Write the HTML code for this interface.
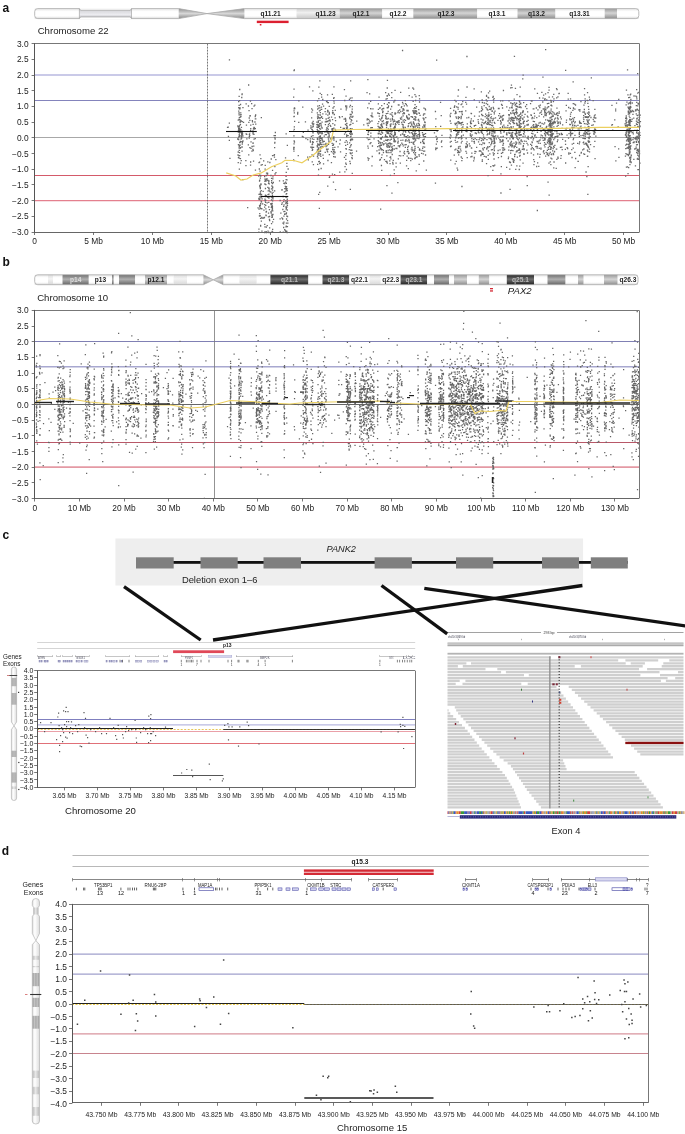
<!DOCTYPE html>
<html><head><meta charset="utf-8"><title>Figure</title>
<style>html,body{margin:0;padding:0;background:#fff;}body{width:685px;height:1134px;overflow:hidden;}svg{display:block;}</style>
</head><body>
<svg width="685" height="1134" viewBox="0 0 685 1134" font-family="Liberation Sans, Arial, sans-serif"><defs>
<linearGradient id="gW" x1="0" y1="0" x2="0" y2="1"><stop offset="0" stop-color="#e6e6e6"/><stop offset="0.3" stop-color="#ffffff"/><stop offset="0.75" stop-color="#ffffff"/><stop offset="1" stop-color="#d8d8d8"/></linearGradient>
<linearGradient id="gL" x1="0" y1="0" x2="0" y2="1"><stop offset="0" stop-color="#d0d0d0"/><stop offset="0.4" stop-color="#f0f0f0"/><stop offset="1" stop-color="#c8c8c8"/></linearGradient>
<linearGradient id="gV" x1="0" y1="0" x2="0" y2="1"><stop offset="0" stop-color="#dcdcdc"/><stop offset="0.4" stop-color="#f4f4f4"/><stop offset="1" stop-color="#d8d8d8"/></linearGradient>
<linearGradient id="gS" x1="0" y1="0" x2="0" y2="1"><stop offset="0" stop-color="#999"/><stop offset="0.22" stop-color="#d8d8dc"/><stop offset="0.6" stop-color="#ececf0"/><stop offset="0.85" stop-color="#c8c8cc"/><stop offset="1" stop-color="#999"/></linearGradient>
<linearGradient id="gG" x1="0" y1="0" x2="0" y2="1"><stop offset="0" stop-color="#9a9a9a"/><stop offset="0.45" stop-color="#d4d4d4"/><stop offset="1" stop-color="#8e8e8e"/></linearGradient>
<linearGradient id="gD" x1="0" y1="0" x2="0" y2="1"><stop offset="0" stop-color="#262626"/><stop offset="0.45" stop-color="#6e6e6e"/><stop offset="1" stop-color="#222222"/></linearGradient>
<linearGradient id="gM" x1="0" y1="0" x2="0" y2="1"><stop offset="0" stop-color="#707070"/><stop offset="0.45" stop-color="#b0b0b0"/><stop offset="1" stop-color="#666666"/></linearGradient>
<linearGradient id="gC" x1="0" y1="0" x2="0" y2="1"><stop offset="0" stop-color="#909090"/><stop offset="0.5" stop-color="#d8d8d8"/><stop offset="1" stop-color="#888888"/></linearGradient>
<linearGradient id="vW" x1="0" y1="0" x2="1" y2="0"><stop offset="0" stop-color="#e0e0e0"/><stop offset="0.35" stop-color="#ffffff"/><stop offset="1" stop-color="#dddddd"/></linearGradient>
<linearGradient id="vG" x1="0" y1="0" x2="1" y2="0"><stop offset="0" stop-color="#9a9a9a"/><stop offset="0.3" stop-color="#c4c4c4"/><stop offset="0.5" stop-color="#a8a8a8"/><stop offset="0.7" stop-color="#c4c4c4"/><stop offset="1" stop-color="#9a9a9a"/></linearGradient>
<linearGradient id="vL" x1="0" y1="0" x2="1" y2="0"><stop offset="0" stop-color="#bbb"/><stop offset="0.45" stop-color="#e8e8e8"/><stop offset="1" stop-color="#bbb"/></linearGradient>
</defs><text x="2.5" y="12.0" font-size="12" text-anchor="start" fill="#111" font-weight="bold" >a</text>
<rect x="34.7" y="8.6" width="44.7" height="10.0" fill="url(#gW)" />
<rect x="131.5" y="8.6" width="47.2" height="10.0" fill="url(#gW)" />
<rect x="244.4" y="8.6" width="52.1" height="10.0" fill="url(#gW)" />
<rect x="296.5" y="8.6" width="43.1" height="10.0" fill="url(#gL)" />
<rect x="339.6" y="8.6" width="42.7" height="10.0" fill="url(#gG)" />
<rect x="382.3" y="8.6" width="31.0" height="10.0" fill="url(#gW)" />
<rect x="413.3" y="8.6" width="64.0" height="10.0" fill="url(#gG)" />
<rect x="477.3" y="8.6" width="40.2" height="10.0" fill="url(#gW)" />
<rect x="517.5" y="8.6" width="38.0" height="10.0" fill="url(#gG)" />
<rect x="555.5" y="8.6" width="49.2" height="10.0" fill="url(#gW)" />
<rect x="604.7" y="8.6" width="12.3" height="10.0" fill="url(#gG)" />
<rect x="617.0" y="8.6" width="21.8" height="10.0" fill="url(#gW)" />
<path d="M178.7,8.6 L207.0,13.6 L178.7,18.6Z M244.4,8.6 L207.0,13.6 L244.4,18.6Z" fill="url(#gC)"/>
<path d="M37.7,8.6 H178.7 L207.0,13.6 L244.4,8.6 H635.8 Q638.8,8.6 638.8,11.6 V15.6 Q638.8,18.6 635.8,18.6 H244.4 L207.0,13.6 L178.7,18.6 H37.7 Q34.7,18.6 34.7,15.6 V11.6 Q34.7,8.6 37.7,8.6Z" fill="none" stroke="#aaa" stroke-width="0.8"/>
<text x="270.5" y="16.0" font-size="6.6" text-anchor="middle" fill="#222" font-weight="bold" >q11.21</text>
<text x="325.5" y="16.0" font-size="6.6" text-anchor="middle" fill="#222" font-weight="bold" >q11.23</text>
<text x="361.0" y="16.0" font-size="6.6" text-anchor="middle" fill="#222" font-weight="bold" >q12.1</text>
<text x="398.0" y="16.0" font-size="6.6" text-anchor="middle" fill="#222" font-weight="bold" >q12.2</text>
<text x="446.0" y="16.0" font-size="6.6" text-anchor="middle" fill="#222" font-weight="bold" >q12.3</text>
<text x="497.0" y="16.0" font-size="6.6" text-anchor="middle" fill="#222" font-weight="bold" >q13.1</text>
<text x="536.5" y="16.0" font-size="6.6" text-anchor="middle" fill="#222" font-weight="bold" >q13.2</text>
<text x="579.5" y="16.0" font-size="6.6" text-anchor="middle" fill="#222" font-weight="bold" >q13.31</text>
<rect x="79.4" y="8.1" width="52.1" height="11.0" fill="#fff" />
<path d="M79.4,8.6 L80.6,10.2 H130.3 L131.5,8.6 V18.6 L130.3,17.0 H80.6 L79.4,18.6Z" fill="url(#gS)" stroke="#999" stroke-width="0.6"/>
<rect x="256.8" y="20.7" width="31.8" height="2.4" fill="#dc2030" />
<rect x="259.8" y="24.0" width="1.6" height="1.5" fill="#dc2030" />
<text x="37.7" y="33.6" font-size="9.6" text-anchor="start" fill="#222" >Chromosome 22</text>
<line x1="34.6" y1="75.0" x2="639.5" y2="75.0" stroke="#b8b8e0" stroke-width="1.5" />
<line x1="34.6" y1="100.5" x2="639.5" y2="100.5" stroke="#8484bc" stroke-width="1.0" />
<line x1="34.6" y1="137.5" x2="639.5" y2="137.5" stroke="#a8a8a8" stroke-width="1.1" />
<line x1="34.6" y1="175.5" x2="639.5" y2="175.5" stroke="#d45a6a" stroke-width="1.0" />
<line x1="34.6" y1="200.6" x2="639.5" y2="200.6" stroke="#e4808e" stroke-width="1.2" />
<line x1="207.5" y1="43.6" x2="207.5" y2="232.0" stroke="#555" stroke-width="0.8" stroke-dasharray="2,1"/>
<path d="M229.3 158.3h1.3M227.8 136.4h1.3M228.7 123.1h1.3M227.6 127.1h1.3M228.8 59.8h1.3M228.7 140.3h1.3M226.9 127.3h1.3M237.6 120.2h1.3M237.8 157.6h1.3M237.7 132.1h1.3M238.7 117.6h1.3M237.4 155.0h1.3M242.9 122.4h1.3M253.1 146.2h1.3M255.0 114.9h1.3M253.3 134.3h1.3M254.7 118.9h1.3M255.1 124.1h1.3M253.4 127.3h1.3M254.7 128.6h1.3M254.3 122.0h1.3M253.4 106.1h1.3M253.4 129.0h1.3M255.1 118.8h1.3M253.8 127.9h1.3M254.9 115.4h1.3M238.4 130.0h1.3M238.6 158.1h1.3M238.2 131.1h1.3M238.7 108.8h1.3M239.9 163.1h1.3M238.4 147.8h1.3M239.8 132.1h1.3M239.5 121.0h1.3M238.4 114.8h1.3M238.8 148.0h1.3M238.1 130.2h1.3M238.5 105.3h1.3M239.2 119.7h1.3M238.1 107.6h1.3M239.1 142.7h1.3M239.8 141.4h1.3M238.0 137.9h1.3M238.3 130.1h1.3M239.1 155.7h1.3M239.9 104.5h1.3M239.4 129.2h1.3M238.0 128.6h1.3M239.4 107.8h1.3M239.0 128.9h1.3M238.6 112.8h1.3M239.5 122.3h1.3M239.5 121.9h1.3M238.7 169.1h1.3M239.8 158.7h1.3M239.7 117.0h1.3M248.4 110.6h1.3M249.2 120.3h1.3M248.7 134.3h1.3M248.1 154.8h1.3M237.8 144.6h1.3M239.1 130.7h1.3M238.9 132.3h1.3M238.3 129.6h1.3M238.1 111.1h1.3M238.6 146.3h1.3M238.4 126.3h1.3M239.3 114.8h1.3M239.5 145.2h1.3M238.0 139.7h1.3M252.4 133.9h1.3M251.9 121.8h1.3M251.4 146.4h1.3M251.6 146.5h1.3M253.0 128.3h1.3M252.8 128.8h1.3M252.4 143.3h1.3M251.0 103.7h1.3M251.9 121.8h1.3M251.3 151.1h1.3M252.3 149.4h1.3M252.6 150.5h1.3M252.4 142.9h1.3M237.8 130.5h1.3M237.0 139.0h1.3M237.6 152.0h1.3M237.2 126.0h1.3M238.3 136.3h1.3M239.8 148.2h1.3M240.3 116.5h1.3M240.4 139.0h1.3M240.0 141.7h1.3M248.0 85.0h1.3M248.6 138.0h1.3M248.2 122.3h1.3M247.7 144.8h1.3M248.7 136.3h1.3M249.2 131.6h1.3M249.2 147.7h1.3M247.8 106.0h1.3M248.6 118.0h1.3M254.8 170.1h1.3M253.4 139.1h1.3M254.2 105.2h1.3M254.6 138.6h1.3M254.6 116.5h1.3M241.8 142.5h1.3M241.0 137.3h1.3M241.1 97.5h1.3M240.7 136.1h1.3M241.0 134.5h1.3M241.0 138.1h1.3M241.8 134.5h1.3M240.1 112.8h1.3M241.5 147.1h1.3M240.3 130.0h1.3M241.7 131.5h1.3M240.3 135.8h1.3M241.3 146.9h1.3M238.3 113.2h1.3M238.6 150.3h1.3M238.8 135.7h1.3M239.1 125.3h1.3M239.3 108.8h1.3M239.8 124.4h1.3M239.6 142.0h1.3M239.9 147.7h1.3M238.5 96.3h1.3M252.4 132.6h1.3M252.5 124.4h1.3M251.7 120.7h1.3M252.3 130.9h1.3M252.9 161.2h1.3M245.5 133.9h1.3M245.3 165.6h1.3M246.2 138.8h1.3M245.5 103.9h1.3M247.0 207.6h1.3M245.2 160.7h1.3M245.8 125.2h1.3M246.1 134.4h1.3M249.0 133.8h1.3M250.1 128.7h1.3M249.6 115.6h1.3M250.4 141.8h1.3M249.9 165.1h1.3M249.8 101.1h1.3M249.1 135.6h1.3M250.1 125.2h1.3M250.4 148.4h1.3M250.0 130.5h1.3M250.0 162.0h1.3M249.3 116.0h1.3M249.9 131.1h1.3M241.6 144.2h1.3M241.4 151.1h1.3M242.3 141.0h1.3M242.3 179.6h1.3M241.5 132.9h1.3M240.4 114.7h1.3M241.1 132.5h1.3M241.4 94.6h1.3M242.3 107.6h1.3M241.9 133.5h1.3M241.5 93.9h1.3M240.6 121.0h1.3M240.7 136.8h1.3M242.2 136.0h1.3M241.4 141.6h1.3M241.6 121.6h1.3M240.9 133.0h1.3M240.8 127.4h1.3M240.6 160.6h1.3M251.4 108.7h1.3M238.4 119.4h1.3M238.6 134.3h1.3M239.0 100.6h1.3M238.7 136.4h1.3M238.8 130.5h1.3M238.6 126.8h1.3M238.4 145.1h1.3M238.7 128.5h1.3M239.1 89.5h1.3M239.0 132.8h1.3M237.7 127.0h1.3M238.2 155.8h1.3M238.9 152.7h1.3M239.0 145.5h1.3M238.0 101.6h1.3M237.6 162.6h1.3M261.2 208.9h1.3M260.1 203.3h1.3M261.1 217.5h1.3M260.4 184.6h1.3M267.6 190.9h1.3M269.0 227.8h1.3M268.3 194.1h1.3M268.8 219.5h1.3M268.1 202.4h1.3M268.4 232.5h1.3M269.2 162.5h1.3M268.5 188.1h1.3M268.1 188.7h1.3M268.8 190.2h1.3M268.1 207.0h1.3M267.8 216.9h1.3M267.4 231.2h1.3M269.0 220.5h1.3M268.8 209.7h1.3M271.0 182.5h1.3M271.2 217.3h1.3M270.9 188.9h1.3M272.1 187.7h1.3M270.9 223.7h1.3M272.3 176.9h1.3M271.6 197.8h1.3M272.4 198.8h1.3M271.6 208.2h1.3M270.7 207.3h1.3M270.7 232.4h1.3M272.0 200.8h1.3M272.0 186.9h1.3M272.0 229.4h1.3M271.9 155.6h1.3M265.6 231.6h1.3M265.9 180.9h1.3M265.9 173.1h1.3M265.2 208.9h1.3M265.8 211.3h1.3M265.7 195.8h1.3M264.9 195.2h1.3M264.8 180.7h1.3M264.3 179.1h1.3M268.1 181.8h1.3M269.2 191.7h1.3M259.1 199.0h1.3M259.8 194.7h1.3M259.0 186.0h1.3M260.0 204.1h1.3M260.2 158.7h1.3M259.5 215.6h1.3M258.5 199.7h1.3M260.0 225.5h1.3M258.9 205.5h1.3M259.7 178.2h1.3M259.1 199.7h1.3M259.8 194.7h1.3M262.5 191.3h1.3M262.0 203.9h1.3M258.1 176.1h1.3M259.7 187.2h1.3M259.5 187.6h1.3M259.0 175.2h1.3M259.8 208.7h1.3M259.6 193.5h1.3M259.7 205.7h1.3M259.1 180.1h1.3M258.7 169.0h1.3M258.2 232.1h1.3M267.4 194.6h1.3M272.3 232.3h1.3M272.2 178.8h1.3M271.1 197.0h1.3M272.3 214.5h1.3M271.8 206.8h1.3M271.8 183.6h1.3M271.5 203.4h1.3M272.9 219.4h1.3M272.5 197.1h1.3M271.3 214.8h1.3M272.4 192.4h1.3M272.7 182.5h1.3M257.4 207.9h1.3M258.9 196.9h1.3M265.3 215.1h1.3M264.6 180.8h1.3M264.6 165.4h1.3M265.1 205.3h1.3M263.8 217.5h1.3M264.0 176.5h1.3M264.8 188.5h1.3M260.0 226.2h1.3M258.9 181.0h1.3M260.1 176.2h1.3M259.6 185.2h1.3M259.4 154.8h1.3M258.3 229.2h1.3M258.8 215.8h1.3M258.9 162.1h1.3M258.4 162.6h1.3M259.3 216.1h1.3M271.7 207.2h1.3M270.4 211.7h1.3M270.6 159.0h1.3M271.8 209.0h1.3M270.2 203.7h1.3M272.1 210.8h1.3M271.5 215.9h1.3M270.9 200.0h1.3M270.5 204.7h1.3M270.4 212.7h1.3M271.2 206.6h1.3M271.3 204.8h1.3M271.5 205.7h1.3M272.0 221.9h1.3M271.4 197.3h1.3M271.6 231.3h1.3M271.8 195.4h1.3M271.0 180.6h1.3M271.2 215.2h1.3M271.9 170.3h1.3M271.9 190.2h1.3M271.3 210.5h1.3M270.3 175.5h1.3M271.0 206.6h1.3M271.5 197.2h1.3M270.6 213.1h1.3M270.3 192.1h1.3M272.0 187.0h1.3M271.7 217.1h1.3M271.6 193.6h1.3M271.7 206.6h1.3M271.2 186.0h1.3M260.5 201.2h1.3M262.0 218.1h1.3M260.5 165.1h1.3M270.9 178.4h1.3M270.4 204.5h1.3M271.8 188.2h1.3M261.6 164.6h1.3M263.3 210.2h1.3M263.0 218.0h1.3M261.5 218.1h1.3M263.0 160.8h1.3M259.7 188.5h1.3M258.4 194.3h1.3M258.2 198.5h1.3M259.4 171.2h1.3M259.1 213.7h1.3M258.4 209.1h1.3M259.1 206.9h1.3M259.8 208.1h1.3M264.1 204.6h1.3M265.7 175.5h1.3M264.6 200.8h1.3M265.2 184.7h1.3M265.8 179.0h1.3M269.4 196.5h1.3M267.9 213.1h1.3M268.9 216.5h1.3M268.6 183.8h1.3M264.3 226.8h1.3M264.3 199.2h1.3M265.5 179.3h1.3M265.5 215.6h1.3M265.1 200.3h1.3M264.0 207.1h1.3M265.7 227.2h1.3M264.2 232.0h1.3M264.5 200.7h1.3M264.1 224.4h1.3M265.5 212.0h1.3M264.2 184.1h1.3M265.2 196.6h1.3M264.5 169.1h1.3M264.3 181.3h1.3M264.3 183.8h1.3M264.1 232.6h1.3M264.7 195.4h1.3M264.9 202.4h1.3M265.9 232.6h1.3M259.8 191.9h1.3M260.1 196.5h1.3M261.5 198.8h1.3M260.9 201.8h1.3M260.0 175.4h1.3M261.3 231.2h1.3M260.7 117.7h1.3M260.3 183.8h1.3M260.9 194.5h1.3M260.7 221.1h1.3M261.2 196.5h1.3M261.0 208.7h1.3M260.6 190.6h1.3M259.9 218.4h1.3M260.4 197.7h1.3M266.9 173.2h1.3M267.2 187.4h1.3M266.5 202.8h1.3M268.3 180.9h1.3M267.0 173.9h1.3M267.2 161.9h1.3M267.9 183.4h1.3M267.2 197.3h1.3M268.2 198.0h1.3M266.6 225.7h1.3M266.9 174.0h1.3M266.5 178.9h1.3M267.3 180.3h1.3M274.7 132.5h1.3M273.8 154.7h1.3M274.2 166.6h1.3M273.8 157.2h1.3M273.5 135.6h1.3M274.7 135.6h1.3M274.0 190.9h1.3M275.2 159.7h1.3M275.3 172.6h1.3M273.4 155.3h1.3M274.0 147.6h1.3M274.2 142.4h1.3M274.2 137.6h1.3M274.5 139.0h1.3M274.1 143.1h1.3M274.4 174.0h1.3M279.5 218.9h1.3M279.6 231.9h1.3M279.5 200.5h1.3M278.9 180.8h1.3M281.2 217.8h1.3M282.0 218.6h1.3M282.7 180.9h1.3M282.0 219.2h1.3M281.3 190.0h1.3M282.5 196.5h1.3M281.1 204.3h1.3M281.4 189.7h1.3M281.6 202.9h1.3M280.2 213.1h1.3M283.8 191.9h1.3M283.8 183.2h1.3M283.4 204.8h1.3M283.3 211.7h1.3M284.6 230.5h1.3M283.0 227.5h1.3M283.4 199.7h1.3M285.3 207.0h1.3M285.8 189.9h1.3M284.9 157.9h1.3M285.0 182.2h1.3M286.3 179.9h1.3M286.3 166.3h1.3M286.6 205.1h1.3M285.9 219.0h1.3M286.9 220.7h1.3M286.6 210.0h1.3M285.7 208.4h1.3M285.8 223.2h1.3M286.6 190.5h1.3M286.9 203.3h1.3M286.7 145.4h1.3M285.6 226.1h1.3M285.7 213.9h1.3M287.5 169.0h1.3M286.1 232.1h1.3M286.1 207.4h1.3M287.2 223.2h1.3M285.7 183.4h1.3M286.0 193.6h1.3M285.1 191.2h1.3M285.4 188.1h1.3M285.0 188.9h1.3M285.2 203.5h1.3M285.9 186.7h1.3M285.5 133.9h1.3M285.6 172.4h1.3M285.3 187.5h1.3M286.7 201.5h1.3M285.8 206.8h1.3M286.0 197.0h1.3M286.2 163.4h1.3M286.9 216.5h1.3M286.6 199.1h1.3M285.3 197.0h1.3M285.1 200.9h1.3M286.0 231.1h1.3M285.4 176.3h1.3M286.6 199.5h1.3M286.4 188.7h1.3M286.5 232.5h1.3M286.8 205.5h1.3M286.8 226.6h1.3M286.1 216.2h1.3M284.8 188.6h1.3M284.7 186.4h1.3M284.2 211.3h1.3M285.5 202.3h1.3M285.4 226.9h1.3M284.3 214.0h1.3M284.1 183.7h1.3M284.8 232.3h1.3M285.8 212.9h1.3M285.5 179.7h1.3M286.0 202.9h1.3M282.3 223.1h1.3M282.6 232.1h1.3M284.0 214.4h1.3M283.3 216.1h1.3M283.2 183.4h1.3M283.0 223.8h1.3M282.2 209.5h1.3M283.3 222.1h1.3M283.0 206.4h1.3M283.1 201.7h1.3M285.4 231.5h1.3M284.1 188.7h1.3M285.5 194.1h1.3M285.5 209.1h1.3M284.0 229.7h1.3M285.2 231.8h1.3M302.7 132.3h1.3M298.2 100.8h1.3M297.1 112.5h1.3M298.1 122.4h1.3M297.0 114.0h1.3M297.6 155.6h1.3M341.6 116.7h1.3M342.6 128.5h1.3M307.7 159.8h1.3M307.0 157.1h1.3M313.1 123.8h1.3M312.2 90.9h1.3M312.0 141.7h1.3M312.6 142.3h1.3M311.7 138.9h1.3M311.6 150.3h1.3M313.2 139.3h1.3M352.3 123.3h1.3M351.4 117.4h1.3M351.7 112.8h1.3M351.6 173.3h1.3M351.5 133.8h1.3M351.3 139.8h1.3M351.4 97.9h1.3M352.2 116.5h1.3M339.1 143.9h1.3M339.1 172.2h1.3M338.8 116.6h1.3M339.6 140.0h1.3M340.0 127.3h1.3M339.1 117.7h1.3M330.8 162.6h1.3M330.8 151.7h1.3M331.9 112.5h1.3M332.4 108.0h1.3M331.5 128.6h1.3M331.5 143.4h1.3M351.6 152.9h1.3M351.2 150.4h1.3M349.7 189.4h1.3M350.4 121.8h1.3M350.0 80.9h1.3M349.9 132.5h1.3M349.9 139.4h1.3M350.8 132.8h1.3M351.1 100.6h1.3M349.8 98.1h1.3M351.5 128.8h1.3M349.6 153.0h1.3M349.8 136.9h1.3M350.2 116.3h1.3M349.8 105.3h1.3M350.6 129.9h1.3M350.4 153.9h1.3M350.0 150.1h1.3M351.3 139.0h1.3M351.3 111.5h1.3M350.4 136.1h1.3M351.3 134.3h1.3M349.9 130.9h1.3M351.1 120.4h1.3M349.6 114.5h1.3M317.3 115.0h1.3M316.2 127.1h1.3M316.3 141.7h1.3M317.4 114.6h1.3M318.0 169.5h1.3M316.9 132.4h1.3M317.5 144.5h1.3M317.0 118.7h1.3M316.9 100.9h1.3M316.2 122.1h1.3M317.2 130.8h1.3M316.8 124.4h1.3M317.0 132.2h1.3M316.1 152.1h1.3M318.0 194.4h1.3M316.8 156.5h1.3M316.8 150.0h1.3M316.7 146.8h1.3M317.1 125.0h1.3M316.6 129.7h1.3M317.7 121.0h1.3M316.6 145.7h1.3M316.2 124.6h1.3M318.5 145.6h1.3M317.0 109.1h1.3M318.0 125.0h1.3M318.2 87.2h1.3M318.1 151.9h1.3M318.4 153.4h1.3M318.7 208.3h1.3M318.5 132.0h1.3M317.8 149.0h1.3M317.1 132.8h1.3M317.1 138.8h1.3M318.2 125.6h1.3M317.6 126.5h1.3M317.0 164.3h1.3M316.8 139.6h1.3M317.5 158.2h1.3M317.9 125.2h1.3M317.5 155.0h1.3M316.7 112.8h1.3M316.9 127.5h1.3M316.9 117.0h1.3M317.7 149.4h1.3M318.2 117.6h1.3M317.7 116.9h1.3M317.9 134.0h1.3M317.1 144.0h1.3M316.7 138.2h1.3M317.3 154.0h1.3M317.6 122.3h1.3M318.3 144.7h1.3M318.0 131.1h1.3M317.1 106.1h1.3M330.1 126.3h1.3M331.3 129.5h1.3M331.0 139.5h1.3M329.8 138.9h1.3M331.0 137.7h1.3M331.2 138.3h1.3M349.2 147.4h1.3M350.1 132.2h1.3M349.7 128.7h1.3M349.2 118.7h1.3M349.2 117.5h1.3M349.2 125.0h1.3M350.3 139.4h1.3M349.8 134.3h1.3M349.9 153.4h1.3M339.9 151.9h1.3M340.3 109.1h1.3M321.4 146.8h1.3M320.0 138.6h1.3M319.8 135.8h1.3M321.4 137.7h1.3M320.7 117.3h1.3M321.3 133.9h1.3M320.9 94.6h1.3M321.5 128.0h1.3M321.3 139.0h1.3M328.4 133.1h1.3M328.4 137.2h1.3M326.3 149.4h1.3M350.0 145.9h1.3M351.6 109.1h1.3M351.6 106.7h1.3M349.7 163.5h1.3M350.9 150.2h1.3M351.6 158.5h1.3M327.1 102.7h1.3M327.1 186.2h1.3M328.7 154.7h1.3M328.5 135.0h1.3M327.0 110.3h1.3M328.7 177.4h1.3M327.7 102.7h1.3M327.5 129.4h1.3M328.1 140.8h1.3M327.5 149.1h1.3M327.4 132.6h1.3M328.6 112.5h1.3M327.5 133.5h1.3M327.5 111.2h1.3M327.4 137.1h1.3M328.5 117.5h1.3M328.6 106.3h1.3M327.5 118.3h1.3M327.8 143.3h1.3M328.8 120.4h1.3M327.8 124.7h1.3M318.7 161.4h1.3M319.1 163.7h1.3M318.0 127.3h1.3M318.7 118.1h1.3M318.3 137.1h1.3M319.9 154.0h1.3M318.2 98.7h1.3M319.8 115.1h1.3M319.7 112.6h1.3M319.8 138.2h1.3M318.5 125.9h1.3M305.3 138.7h1.3M304.8 121.9h1.3M329.6 125.4h1.3M328.5 136.1h1.3M328.7 114.0h1.3M328.4 141.5h1.3M329.2 119.9h1.3M329.0 176.8h1.3M343.7 128.4h1.3M344.9 132.7h1.3M343.5 119.1h1.3M343.8 89.7h1.3M343.8 157.3h1.3M324.3 132.0h1.3M324.4 144.3h1.3M325.3 143.4h1.3M326.5 150.8h1.3M325.6 121.4h1.3M326.5 101.1h1.3M326.4 145.4h1.3M325.7 134.7h1.3M326.1 121.9h1.3M332.1 110.6h1.3M330.9 117.1h1.3M326.9 111.9h1.3M326.4 132.0h1.3M327.2 115.1h1.3M326.9 121.3h1.3M327.8 139.0h1.3M327.5 129.6h1.3M327.6 133.3h1.3M326.9 94.9h1.3M327.0 151.9h1.3M326.5 130.9h1.3M326.9 128.2h1.3M327.6 120.8h1.3M327.9 144.4h1.3M327.3 160.5h1.3M327.5 126.4h1.3M326.4 145.7h1.3M325.9 149.1h1.3M333.4 106.7h1.3M331.7 94.3h1.3M333.3 101.1h1.3M331.9 129.6h1.3M332.8 182.2h1.3M333.0 98.3h1.3M333.1 154.0h1.3M332.7 145.1h1.3M332.3 147.6h1.3M331.6 128.6h1.3M332.9 144.1h1.3M333.0 137.7h1.3M331.9 119.6h1.3M332.9 151.3h1.3M333.4 97.6h1.3M333.5 103.2h1.3M318.7 139.1h1.3M317.8 151.2h1.3M319.2 136.5h1.3M311.5 127.1h1.3M311.7 129.8h1.3M312.9 147.3h1.3M311.5 123.1h1.3M312.9 156.1h1.3M312.5 121.4h1.3M334.9 189.7h1.3M334.2 147.4h1.3M334.6 110.4h1.3M333.7 114.5h1.3M334.6 129.5h1.3M334.5 157.0h1.3M334.0 174.6h1.3M334.9 120.7h1.3M333.2 138.5h1.3M333.4 149.6h1.3M334.3 152.7h1.3M334.5 117.9h1.3M333.2 128.2h1.3M334.1 125.0h1.3M333.3 140.2h1.3M335.0 130.6h1.3M334.1 152.0h1.3M333.3 86.8h1.3M333.5 149.9h1.3M321.5 133.2h1.3M322.4 144.5h1.3M321.9 118.3h1.3M322.2 142.0h1.3M321.9 104.1h1.3M322.7 158.4h1.3M322.9 106.2h1.3M321.8 133.0h1.3M322.4 146.6h1.3M322.3 155.2h1.3M321.4 122.2h1.3M322.1 147.0h1.3M321.0 109.3h1.3M322.5 141.4h1.3M321.8 140.2h1.3M311.0 117.9h1.3M311.6 161.8h1.3M312.3 132.6h1.3M311.4 154.9h1.3M312.0 122.8h1.3M312.4 132.9h1.3M312.3 135.6h1.3M311.9 110.1h1.3M311.2 112.2h1.3M311.4 148.0h1.3M311.7 147.3h1.3M311.9 144.0h1.3M312.0 149.7h1.3M311.0 108.9h1.3M312.2 124.2h1.3M311.4 147.1h1.3M328.7 123.3h1.3M345.2 120.2h1.3M344.9 119.0h1.3M345.2 159.4h1.3M346.1 107.8h1.3M345.1 163.2h1.3M346.1 123.4h1.3M345.6 140.6h1.3M345.6 153.6h1.3M346.7 142.2h1.3M345.1 106.0h1.3M345.4 96.1h1.3M345.6 109.8h1.3M345.0 145.3h1.3M346.1 106.2h1.3M345.1 155.7h1.3M345.2 106.7h1.3M344.8 124.4h1.3M345.8 127.9h1.3M319.9 129.2h1.3M318.8 105.7h1.3M319.0 128.7h1.3M320.0 140.7h1.3M319.3 114.8h1.3M319.4 132.1h1.3M319.2 107.8h1.3M319.3 133.2h1.3M320.4 123.8h1.3M319.7 110.2h1.3M319.9 151.0h1.3M320.1 146.8h1.3M319.7 123.3h1.3M319.7 123.4h1.3M319.1 192.4h1.3M319.3 120.4h1.3M319.3 155.2h1.3M320.4 142.9h1.3M320.2 156.4h1.3M319.5 93.3h1.3M320.5 168.5h1.3M318.8 110.9h1.3M319.7 136.1h1.3M320.4 125.3h1.3M320.7 132.9h1.3M319.0 137.5h1.3M319.8 138.6h1.3M319.6 151.3h1.3M311.5 144.6h1.3M310.1 147.2h1.3M310.8 136.4h1.3M309.7 138.8h1.3M309.8 142.2h1.3M318.8 141.0h1.3M319.4 142.4h1.3M319.2 80.9h1.3M318.0 125.6h1.3M317.8 175.1h1.3M318.4 125.0h1.3M319.4 147.9h1.3M319.6 162.6h1.3M318.8 126.3h1.3M319.2 144.0h1.3M318.7 131.3h1.3M319.6 118.2h1.3M317.9 131.0h1.3M319.4 117.9h1.3M319.7 144.0h1.3M319.2 144.4h1.3M317.8 148.0h1.3M317.8 108.1h1.3M319.7 136.9h1.3M318.9 123.6h1.3M318.1 161.6h1.3M329.7 132.1h1.3M329.5 121.2h1.3M325.7 129.8h1.3M325.9 101.6h1.3M324.7 121.9h1.3M324.5 111.6h1.3M324.6 152.3h1.3M326.1 128.0h1.3M324.7 134.6h1.3M324.8 124.6h1.3M324.8 108.7h1.3M325.5 119.0h1.3M325.4 114.1h1.3M325.4 146.6h1.3M325.1 144.9h1.3M346.2 123.6h1.3M346.2 135.6h1.3M346.2 128.0h1.3M346.0 134.9h1.3M346.9 144.4h1.3M345.8 169.5h1.3M343.9 134.2h1.3M344.4 166.7h1.3M345.6 164.3h1.3M345.7 149.1h1.3M345.0 121.3h1.3M344.8 118.4h1.3M345.3 148.6h1.3M344.4 142.3h1.3M344.1 100.5h1.3M344.2 171.9h1.3M337.4 146.9h1.3M335.7 141.5h1.3M301.7 136.3h1.3M302.5 137.0h1.3M302.1 107.1h1.3M322.9 163.8h1.3M323.6 136.1h1.3M323.6 141.3h1.3M311.5 148.2h1.3M312.6 126.5h1.3M312.5 124.8h1.3M311.2 129.4h1.3M312.8 164.7h1.3M311.9 142.2h1.3M312.5 131.2h1.3M310.2 128.0h1.3M331.9 145.4h1.3M333.0 156.7h1.3M332.4 152.9h1.3M331.8 174.2h1.3M332.5 112.6h1.3M331.7 130.8h1.3M332.2 123.6h1.3M332.4 128.9h1.3M333.2 136.9h1.3M332.2 113.7h1.3M332.0 149.5h1.3M332.2 130.4h1.3M351.9 139.5h1.3M309.7 141.0h1.3M309.4 156.6h1.3M308.9 86.8h1.3M310.2 125.9h1.3M345.7 125.3h1.3M346.0 136.6h1.3M347.5 135.6h1.3M345.9 128.5h1.3M346.9 129.2h1.3M347.4 130.8h1.3M346.8 127.1h1.3M346.2 125.8h1.3M345.7 108.2h1.3M349.1 106.9h1.3M348.6 149.7h1.3M348.8 99.3h1.3M349.0 142.8h1.3M349.1 133.3h1.3M349.2 161.3h1.3M349.9 140.6h1.3M307.4 130.2h1.3M307.1 139.5h1.3M350.1 124.3h1.3M351.0 129.2h1.3M351.6 155.6h1.3M350.6 144.7h1.3M350.5 119.6h1.3M350.5 114.5h1.3M351.2 157.6h1.3M320.8 107.2h1.3M322.2 113.9h1.3M321.1 116.7h1.3M322.1 99.5h1.3M320.8 126.8h1.3M321.0 97.2h1.3M320.7 144.6h1.3M363.1 124.8h1.3M356.1 121.1h1.3M355.9 151.2h1.3M368.3 158.6h1.3M369.0 93.8h1.3M370.0 108.6h1.3M366.4 92.7h1.3M367.0 107.9h1.3M368.0 131.7h1.3M367.7 160.1h1.3M367.5 125.5h1.3M367.2 157.8h1.3M370.2 133.2h1.3M368.8 120.8h1.3M370.6 127.6h1.3M369.5 143.5h1.3M370.2 136.1h1.3M370.3 108.8h1.3M366.3 130.4h1.3M367.7 139.5h1.3M367.2 146.1h1.3M367.1 134.3h1.3M366.5 137.9h1.3M367.2 79.6h1.3M367.9 129.6h1.3M366.5 119.9h1.3M367.7 132.2h1.3M368.1 123.1h1.3M366.6 123.5h1.3M368.0 119.4h1.3M366.7 119.0h1.3M367.6 148.2h1.3M368.6 123.2h1.3M369.1 139.4h1.3M367.8 134.5h1.3M368.4 103.5h1.3M369.7 121.9h1.3M370.4 115.6h1.3M371.4 113.1h1.3M370.0 101.3h1.3M370.1 127.8h1.3M371.3 121.0h1.3M371.2 116.7h1.3M370.3 142.6h1.3M371.3 115.2h1.3M371.3 165.8h1.3M371.6 156.5h1.3M371.7 127.6h1.3M373.4 138.9h1.3M372.1 116.9h1.3M371.8 146.0h1.3M372.3 108.9h1.3M416.4 138.3h1.3M392.6 160.3h1.3M393.3 119.9h1.3M391.4 146.5h1.3M389.6 129.7h1.3M382.4 111.6h1.3M397.6 141.2h1.3M399.1 145.6h1.3M399.0 130.0h1.3M399.1 110.0h1.3M398.9 146.8h1.3M402.9 127.2h1.3M403.4 134.8h1.3M403.1 113.0h1.3M402.6 124.9h1.3M402.2 113.8h1.3M402.9 109.1h1.3M390.8 134.1h1.3M392.4 164.0h1.3M391.0 131.3h1.3M392.7 136.3h1.3M390.9 134.6h1.3M392.6 124.1h1.3M391.1 134.2h1.3M391.0 106.5h1.3M391.6 150.8h1.3M392.7 121.9h1.3M392.6 128.9h1.3M391.7 118.5h1.3M392.0 116.5h1.3M390.9 131.8h1.3M387.7 128.9h1.3M387.6 118.5h1.3M386.6 88.0h1.3M387.5 139.6h1.3M387.5 143.6h1.3M387.1 131.4h1.3M386.7 104.4h1.3M386.5 96.0h1.3M388.0 102.7h1.3M418.4 154.7h1.3M418.8 128.0h1.3M417.4 134.7h1.3M418.3 112.9h1.3M418.6 131.6h1.3M418.7 134.5h1.3M419.1 135.3h1.3M418.9 125.6h1.3M418.7 113.4h1.3M417.5 147.3h1.3M417.7 123.3h1.3M418.1 109.6h1.3M378.0 143.3h1.3M378.0 133.9h1.3M378.1 121.6h1.3M378.2 141.6h1.3M378.4 150.0h1.3M378.4 133.3h1.3M378.0 129.9h1.3M378.5 131.6h1.3M378.5 129.4h1.3M378.8 113.7h1.3M378.8 153.0h1.3M378.6 116.1h1.3M377.5 129.6h1.3M377.6 133.3h1.3M391.0 137.5h1.3M391.6 154.5h1.3M391.1 92.6h1.3M391.2 149.4h1.3M391.1 97.7h1.3M391.1 143.9h1.3M391.7 119.8h1.3M391.5 112.7h1.3M390.2 150.6h1.3M414.3 119.0h1.3M413.6 112.9h1.3M412.6 143.5h1.3M414.3 131.4h1.3M412.5 131.3h1.3M413.0 119.2h1.3M413.0 89.2h1.3M414.1 158.6h1.3M412.9 112.4h1.3M412.5 111.0h1.3M414.3 134.7h1.3M412.4 150.2h1.3M380.4 134.3h1.3M380.2 128.4h1.3M379.8 134.1h1.3M380.2 137.9h1.3M379.4 145.4h1.3M379.8 138.6h1.3M379.4 147.0h1.3M379.5 107.9h1.3M378.8 130.1h1.3M380.0 209.2h1.3M379.1 160.1h1.3M380.7 145.4h1.3M379.2 128.2h1.3M379.8 127.5h1.3M379.5 142.5h1.3M401.9 102.4h1.3M420.0 142.5h1.3M411.7 159.1h1.3M413.2 135.7h1.3M394.0 132.0h1.3M393.9 134.7h1.3M394.6 125.2h1.3M394.7 134.6h1.3M394.9 141.1h1.3M394.7 133.0h1.3M394.3 100.3h1.3M395.4 163.1h1.3M395.3 137.3h1.3M395.2 124.7h1.3M394.4 112.8h1.3M394.0 135.1h1.3M394.1 128.0h1.3M395.5 166.8h1.3M394.2 100.5h1.3M395.7 122.1h1.3M381.1 130.4h1.3M380.1 124.9h1.3M381.1 124.0h1.3M381.5 121.6h1.3M380.2 120.0h1.3M380.0 143.0h1.3M380.9 157.6h1.3M381.6 126.7h1.3M380.6 148.8h1.3M381.4 117.1h1.3M380.8 131.8h1.3M424.9 133.7h1.3M423.3 108.2h1.3M425.1 117.7h1.3M423.3 113.8h1.3M423.3 119.5h1.3M424.9 155.0h1.3M424.1 121.8h1.3M424.0 151.2h1.3M424.1 122.4h1.3M424.0 126.1h1.3M418.0 123.5h1.3M417.9 119.5h1.3M417.5 120.2h1.3M417.1 127.4h1.3M418.1 130.9h1.3M417.4 125.6h1.3M418.1 129.8h1.3M379.0 127.8h1.3M377.2 130.1h1.3M379.0 108.1h1.3M377.8 137.4h1.3M377.7 103.9h1.3M378.6 153.5h1.3M378.4 97.2h1.3M378.5 127.1h1.3M378.4 127.6h1.3M377.4 113.4h1.3M377.8 109.3h1.3M423.1 161.0h1.3M422.6 153.8h1.3M422.0 141.7h1.3M422.7 135.8h1.3M422.8 115.2h1.3M422.3 127.9h1.3M422.5 146.9h1.3M422.8 143.4h1.3M422.5 118.1h1.3M423.2 118.3h1.3M422.0 148.4h1.3M421.8 132.7h1.3M380.5 128.3h1.3M381.0 124.4h1.3M408.5 141.0h1.3M408.2 139.5h1.3M407.7 168.6h1.3M408.5 153.2h1.3M408.8 142.7h1.3M408.7 118.1h1.3M386.8 107.9h1.3M385.6 131.7h1.3M384.9 135.0h1.3M386.4 152.7h1.3M386.3 144.3h1.3M386.2 146.0h1.3M385.0 135.6h1.3M386.8 147.1h1.3M385.2 136.8h1.3M386.6 123.0h1.3M386.3 185.6h1.3M385.0 136.5h1.3M384.9 115.7h1.3M386.1 140.3h1.3M385.2 161.3h1.3M385.1 118.7h1.3M385.8 124.8h1.3M385.5 151.9h1.3M386.1 162.0h1.3M385.0 140.2h1.3M385.8 124.2h1.3M398.4 120.6h1.3M398.4 122.3h1.3M397.7 158.9h1.3M398.3 131.3h1.3M397.7 104.8h1.3M397.7 145.9h1.3M398.3 124.4h1.3M398.3 105.0h1.3M397.3 138.9h1.3M397.2 121.3h1.3M397.2 142.5h1.3M398.2 120.9h1.3M377.1 129.4h1.3M424.9 109.9h1.3M423.6 143.6h1.3M424.1 113.9h1.3M423.6 139.2h1.3M424.8 136.7h1.3M423.6 134.3h1.3M424.2 127.1h1.3M406.5 105.9h1.3M406.5 140.8h1.3M404.6 131.2h1.3M404.7 100.6h1.3M404.9 120.3h1.3M406.0 115.8h1.3M406.4 110.9h1.3M405.3 139.7h1.3M406.0 160.4h1.3M406.0 117.1h1.3M385.4 116.6h1.3M385.7 113.7h1.3M386.4 136.7h1.3M385.6 150.6h1.3M386.2 161.5h1.3M385.9 152.4h1.3M377.2 112.9h1.3M377.6 140.7h1.3M377.3 123.6h1.3M377.5 126.3h1.3M376.3 150.8h1.3M390.1 131.3h1.3M389.4 140.1h1.3M388.6 95.4h1.3M423.0 125.1h1.3M424.3 129.5h1.3M423.4 136.7h1.3M414.3 146.5h1.3M413.7 151.1h1.3M386.2 144.4h1.3M386.3 146.5h1.3M386.7 95.8h1.3M386.7 163.2h1.3M386.4 130.5h1.3M409.3 123.0h1.3M409.3 129.7h1.3M410.5 116.7h1.3M410.8 149.1h1.3M411.4 150.9h1.3M411.3 147.4h1.3M411.2 125.0h1.3M411.5 149.1h1.3M410.6 142.4h1.3M410.4 122.1h1.3M411.7 133.3h1.3M411.5 97.2h1.3M410.0 126.5h1.3M411.8 116.8h1.3M410.2 158.3h1.3M410.1 160.7h1.3M410.5 129.8h1.3M382.8 152.7h1.3M383.5 143.9h1.3M412.9 136.0h1.3M412.3 110.6h1.3M412.5 101.3h1.3M411.5 136.9h1.3M412.4 142.5h1.3M412.1 134.6h1.3M393.3 127.8h1.3M394.1 128.0h1.3M393.8 149.2h1.3M393.6 145.7h1.3M393.7 129.1h1.3M394.4 90.4h1.3M412.3 138.5h1.3M411.9 117.3h1.3M381.1 170.4h1.3M382.1 111.2h1.3M382.1 115.3h1.3M381.6 142.7h1.3M381.1 132.0h1.3M381.9 133.0h1.3M381.2 118.0h1.3M380.7 149.9h1.3M380.8 165.5h1.3M381.3 109.5h1.3M381.0 137.7h1.3M403.8 113.7h1.3M402.6 155.6h1.3M403.3 129.3h1.3M402.1 134.0h1.3M402.5 120.8h1.3M402.0 130.1h1.3M402.2 140.2h1.3M402.1 144.3h1.3M415.2 129.8h1.3M414.2 154.1h1.3M414.4 111.0h1.3M415.3 96.5h1.3M416.1 113.4h1.3M403.6 119.6h1.3M403.3 110.0h1.3M402.5 109.6h1.3M403.4 112.6h1.3M404.0 134.7h1.3M402.4 103.8h1.3M402.5 115.8h1.3M404.3 144.8h1.3M403.8 151.3h1.3M396.5 121.9h1.3M396.2 148.5h1.3M395.9 121.9h1.3M397.2 182.7h1.3M397.0 122.8h1.3M397.3 143.1h1.3M397.3 112.5h1.3M399.8 118.1h1.3M400.1 155.9h1.3M400.0 144.8h1.3M401.1 143.2h1.3M402.4 108.7h1.3M402.4 125.2h1.3M401.1 122.5h1.3M398.8 112.9h1.3M398.6 155.7h1.3M389.0 149.8h1.3M390.0 157.0h1.3M389.6 124.8h1.3M388.2 130.9h1.3M388.3 152.7h1.3M388.5 147.4h1.3M388.3 146.7h1.3M389.6 114.2h1.3M389.8 126.6h1.3M388.6 102.9h1.3M389.5 157.4h1.3M389.6 119.2h1.3M390.0 109.1h1.3M388.4 129.6h1.3M388.3 143.5h1.3M390.1 136.9h1.3M389.6 133.4h1.3M389.8 175.4h1.3M389.0 131.4h1.3M389.4 163.7h1.3M390.8 150.9h1.3M389.1 160.8h1.3M390.2 158.9h1.3M390.6 139.4h1.3M389.5 145.8h1.3M389.8 144.2h1.3M389.2 135.2h1.3M390.6 129.3h1.3M389.6 136.3h1.3M389.7 129.8h1.3M390.0 126.0h1.3M389.1 146.8h1.3M389.2 143.0h1.3M390.1 129.0h1.3M390.1 121.2h1.3M405.0 132.0h1.3M404.8 103.6h1.3M405.9 165.9h1.3M406.4 137.5h1.3M405.1 136.6h1.3M404.8 141.0h1.3M405.7 104.5h1.3M405.5 144.6h1.3M391.7 131.2h1.3M425.3 128.6h1.3M425.7 170.1h1.3M423.8 126.7h1.3M424.4 124.8h1.3M381.9 127.5h1.3M381.1 125.0h1.3M381.6 149.7h1.3M381.2 126.4h1.3M380.9 125.3h1.3M381.9 129.8h1.3M380.2 138.8h1.3M380.5 144.8h1.3M380.7 139.0h1.3M381.4 154.9h1.3M380.2 148.5h1.3M394.3 133.3h1.3M394.1 129.4h1.3M393.3 141.6h1.3M394.2 133.3h1.3M394.5 114.1h1.3M393.4 145.6h1.3M394.3 113.9h1.3M393.9 140.9h1.3M394.0 126.6h1.3M394.2 121.2h1.3M393.3 140.2h1.3M393.1 138.0h1.3M394.8 123.7h1.3M393.7 139.5h1.3M394.3 141.9h1.3M393.5 137.2h1.3M393.2 102.0h1.3M395.0 113.4h1.3M423.0 139.6h1.3M423.2 119.8h1.3M423.1 142.4h1.3M424.9 129.2h1.3M424.0 147.1h1.3M424.6 108.9h1.3M424.5 122.7h1.3M381.9 115.5h1.3M383.0 108.5h1.3M382.8 144.8h1.3M382.7 150.5h1.3M382.5 144.0h1.3M383.2 123.5h1.3M382.0 112.7h1.3M382.6 120.7h1.3M382.2 108.7h1.3M400.1 111.7h1.3M406.8 118.3h1.3M407.8 158.0h1.3M407.1 118.7h1.3M407.8 125.8h1.3M407.4 119.1h1.3M406.3 110.5h1.3M407.0 147.3h1.3M422.9 151.2h1.3M392.0 148.6h1.3M392.1 162.5h1.3M392.1 149.7h1.3M389.9 143.6h1.3M384.4 136.8h1.3M383.8 159.7h1.3M381.9 137.0h1.3M383.4 141.1h1.3M383.7 103.7h1.3M382.0 121.7h1.3M386.6 133.3h1.3M386.3 119.1h1.3M386.5 95.6h1.3M385.2 143.2h1.3M385.4 117.8h1.3M408.6 114.8h1.3M408.1 114.4h1.3M408.6 95.6h1.3M407.6 151.5h1.3M407.5 126.5h1.3M408.1 88.2h1.3M409.1 132.9h1.3M407.5 110.9h1.3M408.8 136.8h1.3M408.4 140.6h1.3M407.9 153.5h1.3M409.2 137.2h1.3M408.1 131.8h1.3M407.8 146.2h1.3M408.2 158.3h1.3M408.3 119.2h1.3M407.9 131.7h1.3M408.3 137.4h1.3M407.9 123.7h1.3M407.4 110.3h1.3M390.4 124.0h1.3M389.1 136.3h1.3M402.3 126.8h1.3M401.3 130.2h1.3M400.7 107.5h1.3M401.1 106.7h1.3M401.0 117.2h1.3M401.1 119.2h1.3M402.7 131.9h1.3M402.6 145.8h1.3M401.9 111.1h1.3M401.6 124.4h1.3M402.7 128.3h1.3M401.9 50.5h1.3M387.6 132.5h1.3M387.8 133.6h1.3M387.5 150.5h1.3M387.8 129.1h1.3M386.8 123.7h1.3M386.6 107.7h1.3M386.8 80.4h1.3M386.9 140.6h1.3M386.5 132.6h1.3M386.8 123.6h1.3M386.2 155.9h1.3M386.8 140.0h1.3M386.5 98.7h1.3M387.1 113.3h1.3M387.6 107.5h1.3M387.9 106.0h1.3M387.6 145.4h1.3M386.6 137.2h1.3M387.5 111.3h1.3M387.4 121.8h1.3M386.0 125.6h1.3M393.7 173.6h1.3M393.5 169.9h1.3M393.3 121.3h1.3M392.5 135.6h1.3M414.5 112.1h1.3M414.6 131.2h1.3M413.5 137.7h1.3M412.9 139.1h1.3M412.8 121.9h1.3M413.3 142.1h1.3M413.0 152.6h1.3M414.1 150.0h1.3M413.5 130.0h1.3M412.8 126.7h1.3M413.3 144.3h1.3M413.3 113.5h1.3M414.1 118.8h1.3M414.1 136.0h1.3M413.3 135.9h1.3M413.9 110.8h1.3M414.4 125.9h1.3M413.1 129.7h1.3M412.8 123.1h1.3M414.4 158.7h1.3M414.4 148.4h1.3M413.4 108.7h1.3M413.9 138.9h1.3M412.9 127.8h1.3M414.0 107.7h1.3M414.5 127.1h1.3M413.4 123.4h1.3M413.6 124.4h1.3M414.3 116.7h1.3M414.1 132.8h1.3M413.4 133.9h1.3M396.2 136.8h1.3M395.4 148.3h1.3M394.7 127.0h1.3M381.1 105.7h1.3M415.5 133.7h1.3M415.0 130.9h1.3M414.2 141.1h1.3M414.4 104.6h1.3M414.3 94.6h1.3M414.3 134.0h1.3M415.8 106.7h1.3M415.9 111.6h1.3M418.6 95.6h1.3M418.6 156.2h1.3M418.5 164.3h1.3M404.7 147.3h1.3M412.3 126.5h1.3M412.2 88.0h1.3M412.3 129.1h1.3M411.1 132.7h1.3M410.9 123.9h1.3M420.9 153.3h1.3M416.5 156.9h1.3M416.2 135.7h1.3M415.9 125.9h1.3M414.6 138.9h1.3M416.2 114.3h1.3M414.9 152.7h1.3M415.9 111.5h1.3M415.0 100.5h1.3M416.5 136.9h1.3M421.4 150.3h1.3M422.2 126.9h1.3M422.3 134.5h1.3M422.0 140.1h1.3M397.7 110.9h1.3M415.3 129.2h1.3M377.7 133.8h1.3M378.6 131.4h1.3M378.4 145.9h1.3M377.0 146.7h1.3M403.8 122.2h1.3M404.6 127.5h1.3M403.5 122.3h1.3M403.7 105.9h1.3M403.7 136.2h1.3M404.0 153.8h1.3M404.3 130.8h1.3M403.3 152.8h1.3M414.4 119.9h1.3M415.6 170.8h1.3M415.1 117.5h1.3M414.8 155.2h1.3M415.0 120.1h1.3M415.1 119.9h1.3M415.1 108.4h1.3M415.1 140.2h1.3M414.2 150.3h1.3M414.6 157.5h1.3M416.0 124.2h1.3M415.3 110.6h1.3M414.5 113.3h1.3M415.2 117.2h1.3M416.0 157.0h1.3M399.7 163.2h1.3M399.4 151.5h1.3M400.0 135.0h1.3M387.9 94.0h1.3M418.8 133.1h1.3M418.5 121.1h1.3M418.7 124.3h1.3M418.8 150.1h1.3M419.4 115.3h1.3M418.9 98.9h1.3M419.1 137.3h1.3M418.9 148.8h1.3M419.4 150.2h1.3M418.9 102.0h1.3M418.6 136.5h1.3M418.2 138.5h1.3M391.2 147.3h1.3M390.3 152.6h1.3M390.8 129.9h1.3M391.3 193.1h1.3M391.3 115.1h1.3M390.2 114.1h1.3M406.6 151.6h1.3M407.0 149.5h1.3M407.2 135.7h1.3M405.7 136.7h1.3M406.9 117.5h1.3M401.8 134.0h1.3M400.3 140.3h1.3M400.1 119.2h1.3M400.7 129.5h1.3M400.0 92.4h1.3M379.7 159.5h1.3M379.1 118.9h1.3M381.0 118.3h1.3M379.7 127.6h1.3M379.8 148.7h1.3M385.9 127.7h1.3M386.2 121.6h1.3M385.0 92.6h1.3M385.6 122.7h1.3M385.4 99.2h1.3M406.5 156.1h1.3M449.1 137.3h1.3M450.2 113.4h1.3M450.6 141.3h1.3M449.6 121.0h1.3M450.6 146.2h1.3M449.7 138.2h1.3M450.6 131.4h1.3M450.6 129.9h1.3M449.8 134.9h1.3M449.9 146.5h1.3M450.4 135.8h1.3M449.4 129.5h1.3M449.7 116.7h1.3M450.4 131.5h1.3M449.9 108.3h1.3M450.1 160.1h1.3M449.6 142.2h1.3M449.5 115.1h1.3M450.3 123.4h1.3M435.0 148.1h1.3M436.3 139.0h1.3M436.5 138.2h1.3M435.1 149.7h1.3M436.6 141.7h1.3M435.2 118.8h1.3M436.0 139.7h1.3M434.8 183.2h1.3M435.9 148.3h1.3M435.5 136.4h1.3M436.5 131.0h1.3M436.5 148.2h1.3M435.7 144.2h1.3M436.0 60.1h1.3M440.6 115.7h1.3M441.1 140.8h1.3M441.2 146.7h1.3M441.3 135.3h1.3M440.7 142.2h1.3M440.0 126.4h1.3M439.9 102.4h1.3M434.8 111.5h1.3M435.1 126.6h1.3M433.8 132.8h1.3M465.6 143.7h1.3M465.4 131.3h1.3M468.1 117.5h1.3M468.7 143.9h1.3M461.6 158.4h1.3M460.9 136.0h1.3M461.0 132.2h1.3M461.1 129.1h1.3M466.6 146.6h1.3M465.3 97.4h1.3M466.7 123.9h1.3M466.4 87.0h1.3M466.2 117.9h1.3M465.1 146.3h1.3M465.1 110.9h1.3M465.1 147.5h1.3M465.6 128.8h1.3M465.3 151.4h1.3M466.6 157.6h1.3M465.9 104.1h1.3M466.4 126.8h1.3M466.8 145.7h1.3M465.5 138.5h1.3M466.9 127.8h1.3M466.3 56.5h1.3M466.5 144.6h1.3M466.4 141.9h1.3M465.4 128.7h1.3M466.3 131.7h1.3M466.2 147.1h1.3M466.4 127.7h1.3M465.9 153.1h1.3M453.6 155.1h1.3M453.7 107.4h1.3M455.3 142.4h1.3M454.6 140.4h1.3M455.9 118.1h1.3M456.1 131.1h1.3M455.6 161.4h1.3M455.0 111.5h1.3M456.4 122.8h1.3M455.2 149.2h1.3M455.8 123.4h1.3M456.2 130.7h1.3M456.0 130.6h1.3M455.9 135.5h1.3M461.1 128.2h1.3M459.9 149.2h1.3M461.2 160.7h1.3M459.7 123.2h1.3M460.4 137.3h1.3M460.3 150.8h1.3M460.5 104.6h1.3M461.1 131.4h1.3M461.5 111.3h1.3M454.1 105.8h1.3M454.5 113.6h1.3M454.4 123.3h1.3M454.5 163.8h1.3M453.9 106.9h1.3M457.7 138.1h1.3M457.7 116.9h1.3M457.8 134.1h1.3M457.8 138.0h1.3M457.4 107.3h1.3M456.4 125.1h1.3M456.3 135.3h1.3M456.5 128.6h1.3M457.5 121.6h1.3M456.3 134.5h1.3M456.6 130.6h1.3M457.0 132.3h1.3M456.5 168.2h1.3M457.4 121.6h1.3M457.9 121.8h1.3M457.5 109.1h1.3M456.9 150.4h1.3M457.4 96.1h1.3M457.0 170.0h1.3M460.9 123.0h1.3M461.4 113.1h1.3M460.6 157.0h1.3M461.3 103.9h1.3M462.3 106.8h1.3M461.4 141.3h1.3M460.5 117.4h1.3M461.0 122.7h1.3M462.2 127.0h1.3M460.7 142.9h1.3M460.6 116.3h1.3M462.1 101.6h1.3M461.4 138.1h1.3M461.7 114.7h1.3M461.9 122.3h1.3M460.4 111.7h1.3M460.6 124.9h1.3M460.7 138.9h1.3M461.3 186.5h1.3M460.4 118.6h1.3M459.6 123.3h1.3M458.8 122.5h1.3M455.5 113.1h1.3M454.3 149.8h1.3M454.9 130.8h1.3M455.4 101.7h1.3M455.0 137.8h1.3M457.9 103.8h1.3M456.4 127.1h1.3M469.8 126.3h1.3M469.3 146.0h1.3M466.1 129.7h1.3M465.1 102.3h1.3M455.2 113.0h1.3M455.8 134.6h1.3M455.4 137.5h1.3M455.2 137.1h1.3M456.3 134.3h1.3M455.4 116.9h1.3M462.7 135.1h1.3M456.0 106.9h1.3M462.5 124.6h1.3M454.2 100.4h1.3M455.0 112.0h1.3M453.1 110.5h1.3M454.7 124.7h1.3M454.7 129.7h1.3M459.0 128.6h1.3M458.1 132.4h1.3M457.8 90.0h1.3M457.8 118.5h1.3M458.1 148.4h1.3M458.9 137.7h1.3M458.3 123.5h1.3M458.3 152.5h1.3M458.3 122.6h1.3M458.7 117.4h1.3M459.4 146.5h1.3M458.0 151.2h1.3M459.1 152.4h1.3M457.9 146.8h1.3M457.8 151.6h1.3M458.0 154.9h1.3M458.3 131.7h1.3M458.8 111.7h1.3M456.9 141.9h1.3M457.8 148.4h1.3M457.1 152.5h1.3M456.4 133.7h1.3M457.2 132.4h1.3M470.7 118.9h1.3M471.2 138.5h1.3M470.2 131.4h1.3M469.8 122.1h1.3M470.0 123.5h1.3M469.7 135.5h1.3M499.9 131.6h1.3M522.9 133.6h1.3M522.9 121.4h1.3M523.0 102.7h1.3M522.9 123.7h1.3M515.5 106.4h1.3M514.4 154.3h1.3M516.1 109.5h1.3M514.8 88.3h1.3M515.8 131.5h1.3M514.5 133.7h1.3M515.7 112.4h1.3M515.8 103.2h1.3M516.2 151.0h1.3M515.5 110.0h1.3M514.5 112.6h1.3M516.0 106.1h1.3M515.7 118.2h1.3M515.1 169.3h1.3M516.4 94.6h1.3M516.4 124.7h1.3M514.8 116.7h1.3M515.1 117.5h1.3M516.2 119.9h1.3M515.8 132.1h1.3M515.3 142.0h1.3M514.9 104.4h1.3M515.9 123.2h1.3M512.7 126.8h1.3M513.7 123.3h1.3M512.3 122.3h1.3M512.9 118.7h1.3M512.7 110.6h1.3M513.4 120.3h1.3M512.3 104.0h1.3M513.6 99.1h1.3M512.6 159.4h1.3M513.5 146.2h1.3M514.0 130.1h1.3M514.0 156.5h1.3M513.7 113.5h1.3M513.5 147.5h1.3M513.5 118.4h1.3M513.0 120.5h1.3M512.9 110.1h1.3M512.3 113.0h1.3M513.8 102.8h1.3M512.4 118.7h1.3M513.8 56.3h1.3M470.8 113.7h1.3M470.2 156.8h1.3M470.8 123.6h1.3M470.3 120.8h1.3M471.0 131.6h1.3M470.1 122.8h1.3M493.0 102.1h1.3M492.8 128.3h1.3M493.7 136.6h1.3M494.1 165.2h1.3M486.0 123.9h1.3M485.1 121.5h1.3M486.3 139.6h1.3M502.4 136.6h1.3M502.4 118.9h1.3M503.7 127.2h1.3M503.3 132.1h1.3M502.9 115.4h1.3M497.5 150.5h1.3M519.5 127.9h1.3M518.3 118.9h1.3M517.9 119.7h1.3M519.2 118.4h1.3M519.1 102.0h1.3M518.6 169.5h1.3M519.6 123.9h1.3M518.8 104.5h1.3M518.6 149.2h1.3M518.4 142.2h1.3M518.8 150.2h1.3M517.8 139.8h1.3M519.4 155.4h1.3M519.6 152.6h1.3M480.3 151.4h1.3M481.7 102.5h1.3M473.8 143.1h1.3M511.4 87.6h1.3M511.5 158.7h1.3M510.8 165.1h1.3M512.1 159.6h1.3M511.1 117.3h1.3M511.8 145.8h1.3M511.0 136.8h1.3M512.6 113.2h1.3M511.2 119.5h1.3M511.3 135.2h1.3M510.9 150.4h1.3M511.2 134.5h1.3M511.7 145.6h1.3M518.5 152.9h1.3M518.3 130.9h1.3M518.6 122.0h1.3M519.9 151.2h1.3M519.8 130.8h1.3M518.4 125.2h1.3M520.2 113.0h1.3M518.9 138.1h1.3M519.1 142.3h1.3M520.1 103.3h1.3M520.1 143.9h1.3M519.6 123.7h1.3M518.9 107.3h1.3M520.3 140.8h1.3M518.8 149.0h1.3M519.0 156.2h1.3M518.7 122.9h1.3M518.4 143.9h1.3M519.4 132.4h1.3M519.1 166.1h1.3M519.8 120.4h1.3M518.6 100.9h1.3M518.4 134.5h1.3M471.3 141.1h1.3M471.0 148.1h1.3M471.2 153.2h1.3M469.7 126.4h1.3M471.4 135.0h1.3M471.3 156.5h1.3M470.8 148.0h1.3M470.8 127.8h1.3M512.7 138.5h1.3M513.4 160.6h1.3M512.3 122.1h1.3M512.8 122.6h1.3M512.7 161.5h1.3M512.5 118.5h1.3M484.7 122.5h1.3M508.5 119.8h1.3M510.0 112.9h1.3M509.4 189.4h1.3M510.0 87.8h1.3M509.4 129.8h1.3M509.0 128.0h1.3M508.2 146.9h1.3M508.7 133.3h1.3M509.3 138.8h1.3M508.3 132.5h1.3M509.9 135.8h1.3M509.7 123.8h1.3M508.4 118.2h1.3M510.0 153.1h1.3M509.1 169.2h1.3M508.6 123.0h1.3M509.8 118.1h1.3M508.5 129.3h1.3M508.1 114.6h1.3M508.2 110.4h1.3M508.5 115.6h1.3M508.1 150.2h1.3M508.4 100.8h1.3M509.8 162.5h1.3M508.6 129.5h1.3M509.1 107.9h1.3M490.9 129.8h1.3M490.7 139.8h1.3M500.3 193.0h1.3M500.9 104.5h1.3M500.2 124.0h1.3M500.0 100.9h1.3M500.8 153.4h1.3M500.1 116.2h1.3M500.6 141.5h1.3M500.3 133.1h1.3M522.1 118.3h1.3M513.3 143.2h1.3M514.0 154.6h1.3M513.9 114.9h1.3M513.0 162.3h1.3M514.7 117.8h1.3M513.0 159.3h1.3M514.4 105.1h1.3M514.5 146.3h1.3M476.0 147.3h1.3M476.0 107.1h1.3M493.3 137.5h1.3M491.7 120.7h1.3M492.8 131.4h1.3M492.5 152.8h1.3M492.2 170.3h1.3M493.1 136.3h1.3M492.6 119.9h1.3M493.3 143.7h1.3M474.3 153.4h1.3M486.9 129.5h1.3M488.1 112.8h1.3M488.6 115.1h1.3M488.4 121.1h1.3M487.8 130.1h1.3M488.4 138.2h1.3M510.5 135.1h1.3M523.2 143.7h1.3M522.7 146.2h1.3M522.6 128.7h1.3M523.6 154.1h1.3M523.3 149.7h1.3M523.3 131.0h1.3M522.1 78.8h1.3M522.4 163.2h1.3M522.5 146.9h1.3M523.5 149.6h1.3M522.7 111.0h1.3M518.2 132.3h1.3M518.3 135.1h1.3M519.3 135.4h1.3M518.8 138.1h1.3M518.6 124.9h1.3M519.4 120.0h1.3M519.6 159.8h1.3M519.2 96.5h1.3M518.3 116.0h1.3M519.8 127.7h1.3M518.4 132.4h1.3M519.4 106.6h1.3M518.5 148.9h1.3M518.2 132.7h1.3M518.5 127.7h1.3M520.1 103.9h1.3M518.2 130.6h1.3M518.5 132.9h1.3M518.8 149.1h1.3M518.8 125.0h1.3M518.9 122.4h1.3M520.0 134.6h1.3M519.7 126.2h1.3M475.3 151.6h1.3M473.7 126.1h1.3M475.0 125.4h1.3M474.5 138.7h1.3M500.6 122.6h1.3M501.1 129.8h1.3M497.1 153.4h1.3M498.1 115.7h1.3M497.8 108.5h1.3M498.2 138.1h1.3M497.8 157.6h1.3M497.2 136.2h1.3M497.3 120.3h1.3M498.4 108.5h1.3M480.8 140.7h1.3M480.6 154.6h1.3M480.5 111.2h1.3M481.4 129.9h1.3M481.0 110.6h1.3M481.4 125.8h1.3M486.6 118.1h1.3M486.2 148.2h1.3M485.9 96.4h1.3M485.9 95.3h1.3M486.5 134.9h1.3M487.0 134.0h1.3M487.0 124.4h1.3M485.6 157.1h1.3M485.4 128.0h1.3M486.1 149.1h1.3M486.6 109.7h1.3M487.0 122.3h1.3M487.0 123.8h1.3M486.7 129.9h1.3M487.0 104.5h1.3M485.9 115.6h1.3M470.6 136.4h1.3M469.7 133.9h1.3M470.5 113.3h1.3M509.2 144.1h1.3M510.7 127.9h1.3M485.4 107.6h1.3M485.6 103.5h1.3M485.0 114.2h1.3M482.3 115.7h1.3M482.8 134.8h1.3M483.6 103.0h1.3M483.2 123.5h1.3M482.8 140.2h1.3M482.6 149.9h1.3M482.0 154.1h1.3M483.6 156.3h1.3M482.2 148.5h1.3M481.8 133.4h1.3M483.5 105.6h1.3M482.7 154.3h1.3M522.4 136.3h1.3M478.6 116.2h1.3M478.7 151.1h1.3M478.4 132.8h1.3M479.4 137.7h1.3M478.8 130.2h1.3M478.5 139.6h1.3M478.0 123.3h1.3M477.7 132.0h1.3M479.2 138.0h1.3M477.9 141.8h1.3M477.5 119.7h1.3M479.4 150.6h1.3M477.7 121.9h1.3M479.2 144.3h1.3M486.5 101.1h1.3M485.5 127.4h1.3M485.9 118.2h1.3M486.0 128.3h1.3M494.3 142.8h1.3M493.2 132.8h1.3M494.4 111.2h1.3M494.2 145.8h1.3M492.8 129.5h1.3M494.2 131.5h1.3M492.8 99.9h1.3M494.1 136.5h1.3M488.9 109.3h1.3M488.8 133.6h1.3M488.6 106.5h1.3M488.2 122.8h1.3M488.4 128.3h1.3M487.4 116.7h1.3M488.8 124.6h1.3M487.7 159.3h1.3M493.7 113.8h1.3M493.0 108.9h1.3M492.4 135.1h1.3M492.9 155.0h1.3M492.2 97.4h1.3M493.2 118.4h1.3M493.3 138.5h1.3M522.6 148.8h1.3M523.3 127.6h1.3M522.5 123.1h1.3M522.7 145.6h1.3M523.4 127.3h1.3M523.5 117.2h1.3M523.3 134.1h1.3M524.2 126.0h1.3M523.8 132.1h1.3M522.9 121.6h1.3M523.3 121.6h1.3M523.7 121.2h1.3M524.1 130.0h1.3M523.8 128.8h1.3M523.5 149.0h1.3M522.2 119.3h1.3M523.8 141.1h1.3M481.5 100.0h1.3M481.9 129.0h1.3M477.7 128.9h1.3M476.1 139.7h1.3M475.8 133.5h1.3M487.3 147.7h1.3M499.6 127.6h1.3M500.7 166.6h1.3M499.4 149.9h1.3M499.8 117.1h1.3M500.1 121.3h1.3M500.8 156.5h1.3M499.4 142.2h1.3M500.3 136.8h1.3M500.0 117.1h1.3M499.8 130.1h1.3M499.2 139.7h1.3M499.9 120.6h1.3M493.8 138.6h1.3M493.6 153.6h1.3M493.5 98.7h1.3M494.2 132.8h1.3M494.2 123.3h1.3M493.9 141.8h1.3M493.9 141.4h1.3M493.4 159.0h1.3M493.3 141.2h1.3M495.0 135.9h1.3M485.9 163.6h1.3M485.3 156.6h1.3M482.4 139.4h1.3M481.2 138.6h1.3M489.8 117.9h1.3M490.9 143.6h1.3M490.6 108.0h1.3M491.6 141.3h1.3M490.1 166.7h1.3M491.3 122.9h1.3M490.8 135.1h1.3M490.8 149.8h1.3M490.8 116.9h1.3M491.3 129.9h1.3M491.1 141.9h1.3M491.3 133.3h1.3M491.7 131.5h1.3M490.3 138.6h1.3M491.4 111.4h1.3M491.7 149.7h1.3M490.1 138.5h1.3M491.6 125.5h1.3M491.0 139.9h1.3M490.4 128.3h1.3M491.3 131.7h1.3M507.2 127.7h1.3M507.4 121.0h1.3M483.8 143.2h1.3M483.7 122.8h1.3M491.4 131.6h1.3M495.7 138.9h1.3M507.2 125.5h1.3M511.6 135.1h1.3M510.7 141.4h1.3M511.3 146.0h1.3M511.6 132.8h1.3M510.4 113.6h1.3M510.0 150.7h1.3M510.1 121.0h1.3M510.2 133.1h1.3M511.9 120.6h1.3M511.7 110.8h1.3M499.6 140.0h1.3M498.9 118.4h1.3M500.3 173.8h1.3M498.9 113.7h1.3M510.2 103.0h1.3M510.4 144.9h1.3M509.7 145.5h1.3M509.9 142.8h1.3M489.0 132.8h1.3M488.0 97.9h1.3M487.2 146.7h1.3M488.7 134.0h1.3M482.0 154.3h1.3M481.5 128.5h1.3M480.7 91.8h1.3M481.7 127.4h1.3M481.1 132.7h1.3M482.3 120.0h1.3M481.8 115.5h1.3M481.4 129.2h1.3M480.8 125.0h1.3M480.7 131.3h1.3M481.7 128.1h1.3M481.9 109.5h1.3M482.3 143.0h1.3M481.0 124.4h1.3M481.2 108.4h1.3M481.2 152.8h1.3M481.1 144.6h1.3M481.7 159.8h1.3M520.6 139.8h1.3M520.5 126.7h1.3M520.1 116.7h1.3M519.9 114.1h1.3M520.2 118.0h1.3M520.8 123.9h1.3M520.7 134.8h1.3M519.5 120.4h1.3M521.2 129.3h1.3M519.6 87.1h1.3M487.3 110.2h1.3M487.9 114.9h1.3M488.0 123.9h1.3M487.8 119.0h1.3M487.7 128.6h1.3M487.8 150.8h1.3M522.2 112.4h1.3M521.4 115.4h1.3M522.7 122.9h1.3M521.7 149.4h1.3M522.2 111.1h1.3M520.4 107.5h1.3M521.5 141.5h1.3M519.9 130.0h1.3M511.6 105.9h1.3M511.5 136.5h1.3M512.3 150.7h1.3M512.1 103.6h1.3M512.2 138.6h1.3M511.6 107.9h1.3M512.8 122.6h1.3M511.6 136.4h1.3M511.7 103.8h1.3M512.0 132.5h1.3M511.5 144.0h1.3M505.3 127.5h1.3M506.4 134.8h1.3M506.2 133.0h1.3M506.0 167.4h1.3M506.1 106.8h1.3M505.9 134.5h1.3M505.9 138.7h1.3M483.8 147.6h1.3M483.8 138.3h1.3M479.2 127.9h1.3M478.8 102.2h1.3M478.8 111.9h1.3M486.4 108.8h1.3M487.3 120.0h1.3M487.5 97.5h1.3M517.7 116.2h1.3M516.1 109.2h1.3M516.1 142.8h1.3M517.5 150.3h1.3M516.7 157.2h1.3M517.0 125.3h1.3M516.2 138.2h1.3M516.6 112.9h1.3M517.9 130.6h1.3M516.3 133.6h1.3M516.2 132.8h1.3M489.0 91.2h1.3M490.1 144.8h1.3M489.2 153.9h1.3M489.7 122.2h1.3M488.9 129.5h1.3M490.4 114.4h1.3M489.5 120.5h1.3M489.0 146.6h1.3M487.5 115.2h1.3M487.4 175.7h1.3M486.4 131.6h1.3M487.5 155.4h1.3M502.8 143.5h1.3M503.5 131.3h1.3M501.8 147.9h1.3M501.9 152.7h1.3M501.9 140.5h1.3M502.4 118.9h1.3M501.9 108.0h1.3M501.7 119.1h1.3M501.6 105.3h1.3M502.5 140.1h1.3M503.1 150.1h1.3M502.0 115.9h1.3M502.3 145.4h1.3M501.9 139.9h1.3M502.1 141.5h1.3M502.8 90.5h1.3M502.3 145.2h1.3M516.7 106.7h1.3M516.1 136.5h1.3M516.7 118.4h1.3M516.4 151.7h1.3M515.9 113.8h1.3M516.2 165.8h1.3M515.9 130.0h1.3M515.5 133.5h1.3M515.8 123.3h1.3M516.7 128.8h1.3M515.8 111.6h1.3M515.7 129.2h1.3M515.6 143.8h1.3M516.3 123.6h1.3M516.1 147.4h1.3M516.3 136.6h1.3M516.5 125.1h1.3M504.0 149.5h1.3M480.2 155.5h1.3M482.0 153.2h1.3M481.6 161.3h1.3M481.0 114.5h1.3M481.1 106.9h1.3M481.1 131.0h1.3M481.5 122.4h1.3M480.9 140.7h1.3M480.5 119.1h1.3M483.5 122.8h1.3M483.8 143.6h1.3M484.5 116.6h1.3M483.0 137.1h1.3M484.3 138.6h1.3M473.6 99.9h1.3M474.7 128.6h1.3M473.9 116.2h1.3M474.7 132.8h1.3M473.8 125.6h1.3M473.0 160.8h1.3M474.6 133.2h1.3M473.7 141.5h1.3M493.9 143.3h1.3M494.9 117.8h1.3M480.5 132.0h1.3M488.2 116.0h1.3M487.9 92.9h1.3M488.6 142.6h1.3M519.1 130.7h1.3M519.4 120.5h1.3M518.5 121.3h1.3M518.6 126.5h1.3M518.8 114.9h1.3M508.6 114.6h1.3M507.9 157.1h1.3M508.9 162.0h1.3M507.5 141.0h1.3M507.7 158.7h1.3M516.0 103.3h1.3M517.1 115.9h1.3M517.0 139.2h1.3M517.4 107.1h1.3M485.6 99.9h1.3M513.3 123.7h1.3M512.4 137.5h1.3M512.5 138.9h1.3M512.3 117.7h1.3M489.1 132.0h1.3M489.7 138.8h1.3M488.7 130.0h1.3M474.3 151.4h1.3M503.0 148.0h1.3M503.2 125.1h1.3M502.2 150.0h1.3M502.5 119.2h1.3M502.1 100.9h1.3M501.9 127.4h1.3M492.2 125.8h1.3M493.4 148.9h1.3M493.6 140.0h1.3M493.5 112.3h1.3M493.7 150.5h1.3M493.7 147.0h1.3M492.3 165.7h1.3M492.6 107.3h1.3M492.6 96.5h1.3M493.1 166.0h1.3M492.3 128.6h1.3M493.7 122.4h1.3M492.9 108.6h1.3M493.7 142.1h1.3M492.9 127.9h1.3M493.2 128.8h1.3M515.4 129.4h1.3M515.4 109.1h1.3M515.0 144.3h1.3M514.5 146.0h1.3M515.7 109.0h1.3M516.0 128.9h1.3M515.7 131.3h1.3M514.9 134.9h1.3M516.0 135.8h1.3M515.6 151.9h1.3M522.5 75.2h1.3M522.0 112.5h1.3M523.1 154.0h1.3M523.3 121.6h1.3M491.3 118.6h1.3M490.6 128.2h1.3M491.1 143.1h1.3M491.8 136.2h1.3M491.6 111.0h1.3M490.2 109.5h1.3M511.3 117.6h1.3M510.4 126.6h1.3M511.2 146.8h1.3M510.5 130.3h1.3M512.1 138.3h1.3M511.0 137.4h1.3M510.3 130.1h1.3M510.5 119.0h1.3M510.8 141.8h1.3M510.9 107.5h1.3M510.3 130.2h1.3M510.8 85.1h1.3M511.2 128.3h1.3M473.3 141.7h1.3M473.5 88.9h1.3M473.6 158.9h1.3M472.7 121.0h1.3M472.9 139.3h1.3M473.6 157.3h1.3M489.7 124.7h1.3M490.1 130.1h1.3M490.9 125.4h1.3M502.1 152.4h1.3M502.6 136.3h1.3M501.2 117.1h1.3M501.9 126.3h1.3M502.1 120.3h1.3M586.2 176.7h1.3M587.3 120.5h1.3M587.5 166.7h1.3M583.3 133.3h1.3M584.5 98.9h1.3M583.0 142.1h1.3M583.5 134.2h1.3M584.6 116.6h1.3M583.9 88.7h1.3M584.7 101.4h1.3M584.4 113.3h1.3M583.9 94.9h1.3M584.5 131.5h1.3M583.6 112.0h1.3M584.0 154.4h1.3M584.3 103.0h1.3M583.2 149.0h1.3M558.6 111.9h1.3M560.7 133.5h1.3M546.3 154.1h1.3M545.0 119.9h1.3M545.1 128.5h1.3M546.1 99.8h1.3M544.9 135.8h1.3M546.4 108.2h1.3M545.3 115.0h1.3M546.7 150.3h1.3M548.0 106.6h1.3M548.4 87.3h1.3M547.8 149.3h1.3M548.3 163.1h1.3M546.7 129.9h1.3M548.5 97.2h1.3M548.1 138.9h1.3M547.8 131.2h1.3M547.4 92.6h1.3M547.2 133.7h1.3M548.1 135.0h1.3M547.3 132.5h1.3M548.3 111.3h1.3M547.0 120.1h1.3M546.8 142.1h1.3M548.0 121.0h1.3M544.1 140.1h1.3M545.5 115.3h1.3M544.0 99.8h1.3M544.2 133.5h1.3M545.4 115.7h1.3M578.9 122.3h1.3M578.7 136.4h1.3M578.7 134.3h1.3M578.9 155.5h1.3M527.3 125.2h1.3M526.1 129.1h1.3M526.9 153.0h1.3M526.1 121.3h1.3M527.3 117.2h1.3M527.5 124.3h1.3M542.7 151.8h1.3M541.0 114.3h1.3M541.4 123.3h1.3M542.6 129.1h1.3M541.8 135.9h1.3M542.3 98.1h1.3M541.5 128.0h1.3M542.1 102.0h1.3M541.8 137.8h1.3M542.6 140.4h1.3M542.6 109.0h1.3M568.4 133.6h1.3M567.0 148.5h1.3M565.7 122.3h1.3M565.9 120.2h1.3M574.9 105.0h1.3M574.1 130.6h1.3M574.7 121.9h1.3M575.5 126.1h1.3M547.3 112.3h1.3M547.9 141.4h1.3M546.8 103.6h1.3M548.4 126.0h1.3M553.9 151.8h1.3M554.0 122.5h1.3M553.0 146.3h1.3M553.2 126.8h1.3M553.1 139.7h1.3M553.3 98.8h1.3M553.2 112.9h1.3M560.2 158.3h1.3M559.8 147.3h1.3M559.7 122.1h1.3M559.9 117.0h1.3M559.7 123.7h1.3M560.5 155.6h1.3M561.1 147.1h1.3M569.5 119.9h1.3M569.7 108.4h1.3M568.2 153.0h1.3M578.8 132.1h1.3M577.6 161.4h1.3M578.9 121.2h1.3M562.0 139.3h1.3M561.6 149.6h1.3M560.7 118.9h1.3M561.7 134.3h1.3M562.0 124.9h1.3M549.0 123.7h1.3M548.5 195.1h1.3M547.6 120.6h1.3M547.9 129.4h1.3M536.7 125.8h1.3M536.3 127.3h1.3M536.8 132.3h1.3M536.6 129.9h1.3M537.8 143.2h1.3M543.9 142.7h1.3M545.3 109.8h1.3M544.2 115.0h1.3M543.9 133.6h1.3M544.5 107.1h1.3M544.1 139.7h1.3M544.1 130.1h1.3M561.1 134.7h1.3M561.4 128.4h1.3M545.1 132.3h1.3M544.9 93.9h1.3M569.9 114.1h1.3M569.9 135.9h1.3M570.6 112.4h1.3M569.9 98.8h1.3M570.0 135.2h1.3M569.9 124.6h1.3M569.8 116.3h1.3M569.2 129.3h1.3M570.0 132.6h1.3M569.2 124.5h1.3M569.7 131.8h1.3M569.6 130.1h1.3M570.0 132.0h1.3M570.7 133.6h1.3M570.3 133.8h1.3M570.9 119.5h1.3M569.8 153.3h1.3M554.9 118.2h1.3M554.0 114.1h1.3M553.6 138.2h1.3M553.9 151.5h1.3M553.4 162.0h1.3M554.4 122.8h1.3M553.6 121.2h1.3M554.7 136.7h1.3M553.1 167.9h1.3M554.5 136.9h1.3M539.7 105.1h1.3M539.7 128.7h1.3M541.2 92.3h1.3M540.9 110.9h1.3M540.3 149.2h1.3M539.5 154.3h1.3M540.3 112.4h1.3M593.8 115.8h1.3M595.2 136.1h1.3M593.4 134.4h1.3M593.9 117.9h1.3M594.2 109.3h1.3M593.4 146.6h1.3M595.1 118.0h1.3M593.6 130.3h1.3M594.2 129.0h1.3M594.5 114.9h1.3M593.4 117.3h1.3M586.1 145.2h1.3M585.2 143.2h1.3M585.9 117.4h1.3M584.7 138.6h1.3M585.6 129.3h1.3M585.4 123.9h1.3M585.9 132.8h1.3M586.0 143.4h1.3M586.1 132.5h1.3M586.0 144.3h1.3M585.6 129.3h1.3M584.9 143.9h1.3M584.3 127.3h1.3M584.7 114.3h1.3M585.3 133.2h1.3M585.4 172.0h1.3M587.7 146.8h1.3M587.3 122.5h1.3M587.3 133.4h1.3M588.4 128.9h1.3M587.1 130.1h1.3M587.2 134.0h1.3M586.8 156.4h1.3M586.9 92.7h1.3M587.2 103.4h1.3M588.7 127.2h1.3M588.7 137.4h1.3M586.8 113.1h1.3M586.9 130.6h1.3M586.9 124.4h1.3M586.9 121.6h1.3M587.0 145.2h1.3M587.1 100.6h1.3M587.7 122.2h1.3M587.8 106.7h1.3M587.9 147.6h1.3M587.2 134.3h1.3M587.5 131.0h1.3M545.4 144.4h1.3M543.0 137.6h1.3M542.6 129.6h1.3M543.0 95.1h1.3M526.2 150.2h1.3M526.5 129.0h1.3M526.6 185.6h1.3M527.3 137.8h1.3M527.6 124.5h1.3M526.0 104.7h1.3M527.5 136.5h1.3M527.8 139.2h1.3M526.6 138.1h1.3M551.5 119.6h1.3M551.2 134.6h1.3M550.3 135.9h1.3M550.2 143.7h1.3M550.9 154.1h1.3M551.3 144.6h1.3M551.0 123.9h1.3M550.3 158.2h1.3M544.4 130.9h1.3M544.0 138.2h1.3M543.9 110.5h1.3M543.0 116.8h1.3M543.8 129.9h1.3M543.6 153.5h1.3M544.7 128.4h1.3M543.1 124.2h1.3M544.6 134.8h1.3M544.6 138.8h1.3M544.5 108.9h1.3M544.2 139.2h1.3M544.9 144.2h1.3M543.2 150.7h1.3M544.7 109.6h1.3M544.3 146.9h1.3M544.6 131.4h1.3M543.8 108.8h1.3M544.1 111.8h1.3M544.3 113.2h1.3M543.7 145.2h1.3M537.8 125.3h1.3M530.0 129.6h1.3M530.0 144.4h1.3M572.9 138.3h1.3M572.5 81.8h1.3M542.3 77.2h1.3M530.2 137.8h1.3M531.4 118.5h1.3M588.9 141.8h1.3M589.1 99.4h1.3M588.5 138.6h1.3M589.1 133.3h1.3M589.0 115.7h1.3M587.7 117.0h1.3M588.9 151.8h1.3M588.5 141.5h1.3M579.6 127.2h1.3M578.6 133.5h1.3M578.2 109.8h1.3M578.7 143.8h1.3M579.2 123.3h1.3M578.6 128.9h1.3M579.6 122.7h1.3M532.6 121.3h1.3M533.0 128.5h1.3M533.0 124.6h1.3M532.9 129.0h1.3M531.8 131.0h1.3M532.5 127.9h1.3M533.4 118.1h1.3M532.3 133.9h1.3M533.1 159.7h1.3M541.5 123.7h1.3M540.5 135.2h1.3M540.4 131.4h1.3M541.3 128.6h1.3M540.3 148.1h1.3M586.2 119.8h1.3M586.3 130.1h1.3M586.9 124.3h1.3M587.6 126.5h1.3M586.2 116.6h1.3M587.9 140.9h1.3M587.8 137.7h1.3M588.6 130.8h1.3M588.3 123.7h1.3M587.4 141.1h1.3M586.8 150.2h1.3M588.1 142.3h1.3M587.3 151.4h1.3M588.6 119.9h1.3M587.7 137.3h1.3M588.0 114.3h1.3M587.0 129.6h1.3M588.7 97.1h1.3M587.1 146.5h1.3M588.2 116.6h1.3M588.5 112.9h1.3M588.3 112.8h1.3M544.2 99.5h1.3M545.0 49.6h1.3M588.4 138.6h1.3M587.2 117.6h1.3M588.1 109.4h1.3M586.6 100.4h1.3M587.2 194.4h1.3M588.2 112.0h1.3M549.7 125.7h1.3M549.4 137.5h1.3M549.4 131.9h1.3M548.9 153.9h1.3M549.8 142.2h1.3M549.1 140.2h1.3M548.8 140.7h1.3M548.8 142.1h1.3M550.5 109.1h1.3M550.3 148.1h1.3M549.7 134.6h1.3M550.1 142.0h1.3M549.6 161.9h1.3M549.5 140.5h1.3M549.3 138.6h1.3M549.1 142.7h1.3M550.3 149.2h1.3M549.1 120.3h1.3M550.1 117.9h1.3M549.0 123.8h1.3M548.8 114.0h1.3M550.2 164.7h1.3M548.8 129.4h1.3M549.9 146.9h1.3M548.9 125.0h1.3M549.1 141.8h1.3M549.2 112.6h1.3M550.3 121.4h1.3M548.7 146.3h1.3M549.0 130.9h1.3M549.6 137.9h1.3M526.4 121.3h1.3M527.3 144.8h1.3M527.4 128.7h1.3M526.2 108.7h1.3M527.2 130.6h1.3M527.5 120.3h1.3M528.4 130.1h1.3M526.7 116.2h1.3M582.0 149.8h1.3M577.0 143.3h1.3M577.5 128.9h1.3M572.9 119.9h1.3M572.9 108.7h1.3M571.1 149.7h1.3M572.6 103.6h1.3M535.7 108.0h1.3M545.1 112.4h1.3M546.1 126.5h1.3M524.9 106.5h1.3M526.5 176.6h1.3M524.5 136.1h1.3M526.3 125.0h1.3M526.4 143.4h1.3M526.4 129.1h1.3M532.7 148.7h1.3M531.7 117.4h1.3M531.0 127.2h1.3M546.0 132.7h1.3M545.8 113.6h1.3M546.4 133.6h1.3M545.0 156.1h1.3M527.0 111.9h1.3M535.4 126.4h1.3M535.2 146.6h1.3M573.6 127.2h1.3M572.2 110.3h1.3M573.8 117.7h1.3M572.8 121.3h1.3M554.0 119.1h1.3M554.7 122.2h1.3M534.1 136.2h1.3M533.4 149.9h1.3M534.1 135.7h1.3M533.6 130.5h1.3M533.7 113.4h1.3M534.7 127.1h1.3M557.5 125.3h1.3M556.7 141.7h1.3M556.0 97.8h1.3M556.4 133.5h1.3M556.9 118.0h1.3M556.2 159.3h1.3M556.3 108.1h1.3M556.0 149.2h1.3M555.9 88.7h1.3M557.3 96.9h1.3M557.4 158.4h1.3M555.6 168.3h1.3M556.2 131.5h1.3M555.7 149.1h1.3M555.5 114.6h1.3M556.1 136.4h1.3M556.4 126.4h1.3M556.4 113.1h1.3M556.4 89.6h1.3M556.6 121.2h1.3M557.5 123.3h1.3M557.4 115.4h1.3M556.7 136.9h1.3M556.0 113.7h1.3M557.1 123.0h1.3M557.1 140.0h1.3M557.3 136.0h1.3M557.0 115.5h1.3M594.4 158.7h1.3M594.4 132.7h1.3M594.2 141.3h1.3M592.6 119.4h1.3M593.3 121.2h1.3M592.5 100.6h1.3M592.7 131.2h1.3M592.6 124.9h1.3M524.4 114.3h1.3M525.5 141.3h1.3M583.5 144.2h1.3M584.8 117.3h1.3M553.1 94.4h1.3M551.8 137.3h1.3M551.8 134.7h1.3M551.1 119.4h1.3M551.2 123.4h1.3M535.8 128.1h1.3M534.8 126.1h1.3M536.9 129.3h1.3M537.1 154.0h1.3M536.8 146.6h1.3M536.0 166.5h1.3M537.3 109.8h1.3M536.7 210.5h1.3M536.3 126.5h1.3M536.5 141.5h1.3M536.1 146.3h1.3M536.1 117.6h1.3M535.6 137.3h1.3M531.3 101.0h1.3M531.6 142.7h1.3M545.7 127.1h1.3M545.6 152.4h1.3M544.0 122.8h1.3M545.8 128.4h1.3M532.5 139.8h1.3M533.8 121.7h1.3M534.1 116.2h1.3M534.0 127.3h1.3M532.6 108.9h1.3M533.0 126.9h1.3M533.8 161.6h1.3M532.9 154.9h1.3M533.2 108.8h1.3M534.1 88.9h1.3M532.4 125.5h1.3M532.9 138.4h1.3M533.3 164.6h1.3M588.8 149.1h1.3M587.5 127.7h1.3M588.7 134.9h1.3M559.0 134.7h1.3M558.4 133.7h1.3M558.4 113.3h1.3M558.3 93.6h1.3M572.6 139.6h1.3M573.0 143.3h1.3M571.3 123.0h1.3M571.9 129.0h1.3M572.0 125.7h1.3M572.3 127.7h1.3M572.2 118.4h1.3M571.6 144.2h1.3M572.1 125.0h1.3M571.8 133.6h1.3M544.4 98.6h1.3M585.1 134.3h1.3M587.0 156.1h1.3M580.4 126.2h1.3M578.9 122.1h1.3M579.0 142.0h1.3M580.7 152.4h1.3M580.3 135.7h1.3M580.6 123.3h1.3M579.2 109.6h1.3M580.3 101.7h1.3M580.5 153.1h1.3M579.2 111.1h1.3M580.5 128.6h1.3M593.2 133.1h1.3M558.6 93.3h1.3M556.8 112.9h1.3M557.5 119.0h1.3M558.1 122.1h1.3M557.3 157.2h1.3M552.4 115.2h1.3M554.3 131.2h1.3M552.8 122.2h1.3M552.9 154.5h1.3M553.8 122.8h1.3M554.2 145.4h1.3M553.5 147.3h1.3M552.5 148.5h1.3M554.2 137.9h1.3M535.2 124.1h1.3M534.5 135.0h1.3M535.4 126.2h1.3M536.1 125.0h1.3M565.0 70.3h1.3M565.0 163.0h1.3M566.4 135.2h1.3M565.7 105.4h1.3M564.8 141.0h1.3M566.5 147.6h1.3M564.7 149.3h1.3M564.9 144.3h1.3M566.1 128.3h1.3M564.7 128.7h1.3M565.4 110.8h1.3M565.5 129.1h1.3M551.8 143.6h1.3M551.9 133.3h1.3M551.4 131.4h1.3M552.2 124.1h1.3M551.6 135.7h1.3M552.5 116.4h1.3M551.1 127.5h1.3M551.8 142.1h1.3M552.0 111.9h1.3M552.7 123.1h1.3M548.4 121.7h1.3M549.2 137.6h1.3M548.7 138.1h1.3M582.6 142.6h1.3M583.3 135.8h1.3M583.2 119.6h1.3M584.8 136.2h1.3M583.8 138.6h1.3M577.3 125.4h1.3M575.0 158.5h1.3M574.2 152.4h1.3M574.0 125.3h1.3M574.3 135.3h1.3M574.5 167.7h1.3M574.3 109.2h1.3M573.9 104.2h1.3M573.9 122.8h1.3M583.7 109.5h1.3M583.3 105.1h1.3M583.0 115.7h1.3M583.1 153.9h1.3M583.8 123.6h1.3M582.3 112.2h1.3M582.9 121.7h1.3M582.4 138.4h1.3M582.2 135.3h1.3M583.8 133.1h1.3M582.9 117.8h1.3M590.3 117.5h1.3M591.2 125.4h1.3M589.5 136.6h1.3M590.7 77.8h1.3M589.9 144.7h1.3M567.5 93.3h1.3M567.6 99.1h1.3M568.2 154.0h1.3M568.0 107.5h1.3M567.9 138.2h1.3M569.1 118.8h1.3M577.4 161.3h1.3M551.2 158.9h1.3M551.9 96.9h1.3M552.0 150.8h1.3M551.4 116.5h1.3M552.8 133.9h1.3M551.4 128.3h1.3M551.3 134.5h1.3M551.2 129.9h1.3M552.2 122.5h1.3M552.8 101.7h1.3M552.7 153.3h1.3M551.4 128.6h1.3M551.6 129.9h1.3M552.3 116.3h1.3M571.2 122.0h1.3M572.6 148.2h1.3M572.8 107.8h1.3M571.3 127.3h1.3M571.4 157.5h1.3M572.0 133.4h1.3M552.4 123.8h1.3M552.1 122.5h1.3M550.5 102.4h1.3M551.4 130.6h1.3M551.6 137.5h1.3M550.6 123.9h1.3M551.3 125.6h1.3M549.8 120.9h1.3M550.3 105.4h1.3M550.2 124.4h1.3M550.1 123.2h1.3M549.4 127.8h1.3M551.2 105.8h1.3M549.5 144.8h1.3M550.5 139.8h1.3M549.8 130.7h1.3M550.7 136.7h1.3M549.9 128.3h1.3M550.8 147.3h1.3M550.5 101.0h1.3M550.4 144.0h1.3M549.7 120.3h1.3M550.5 117.1h1.3M551.2 119.3h1.3M550.7 154.3h1.3M551.0 154.5h1.3M549.8 129.7h1.3M550.1 120.5h1.3M551.2 133.1h1.3M549.6 131.7h1.3M550.1 126.5h1.3M551.1 130.3h1.3M550.3 124.2h1.3M549.8 122.0h1.3M549.9 134.8h1.3M550.2 143.0h1.3M551.1 113.9h1.3M549.6 149.3h1.3M549.8 135.0h1.3M550.0 113.0h1.3M550.0 132.6h1.3M549.6 152.4h1.3M550.1 138.5h1.3M594.9 129.6h1.3M594.2 121.7h1.3M594.0 131.5h1.3M550.7 135.4h1.3M550.4 111.0h1.3M551.0 136.6h1.3M550.1 131.9h1.3M549.3 117.8h1.3M550.7 105.2h1.3M550.1 100.3h1.3M538.1 166.3h1.3M539.2 113.2h1.3M538.9 98.0h1.3M539.9 125.8h1.3M539.0 157.1h1.3M539.6 143.3h1.3M538.5 116.1h1.3M539.1 107.5h1.3M538.6 148.3h1.3M538.3 141.0h1.3M538.3 123.2h1.3M539.4 140.0h1.3M538.3 106.0h1.3M540.0 137.5h1.3M539.6 122.5h1.3M539.6 126.7h1.3M537.0 162.9h1.3M536.8 93.3h1.3M536.5 148.2h1.3M536.9 141.7h1.3M530.8 127.3h1.3M530.7 115.3h1.3M531.7 136.8h1.3M530.3 114.8h1.3M531.1 133.3h1.3M530.6 128.8h1.3M530.6 149.0h1.3M529.9 103.6h1.3M531.0 145.5h1.3M530.6 153.1h1.3M530.4 127.7h1.3M530.9 137.8h1.3M531.4 141.8h1.3M531.6 147.7h1.3M531.5 136.5h1.3M530.7 100.9h1.3M547.0 142.8h1.3M548.0 155.7h1.3M546.8 134.0h1.3M548.5 143.8h1.3M547.6 147.7h1.3M547.0 154.3h1.3M547.6 155.5h1.3M547.3 140.2h1.3M547.5 130.9h1.3M548.1 103.3h1.3M548.4 90.1h1.3M548.5 124.6h1.3M547.4 182.2h1.3M547.1 153.1h1.3M547.3 107.1h1.3M615.2 160.9h1.3M615.0 110.8h1.3M615.0 109.1h1.3M615.9 103.1h1.3M614.1 119.9h1.3M614.4 146.7h1.3M618.3 157.4h1.3M618.1 99.3h1.3M617.5 126.8h1.3M618.0 148.9h1.3M611.1 125.2h1.3M611.3 105.3h1.3M611.8 124.6h1.3M612.1 130.2h1.3M628.4 132.3h1.3M629.5 135.6h1.3M632.3 139.5h1.3M633.1 118.2h1.3M632.3 114.4h1.3M634.1 149.0h1.3M632.4 132.1h1.3M633.5 141.8h1.3M632.9 137.7h1.3M636.0 97.0h1.3M636.2 98.9h1.3M635.7 105.7h1.3M634.3 138.7h1.3M634.3 130.4h1.3M635.1 139.1h1.3M634.9 109.8h1.3M634.3 125.7h1.3M636.0 118.9h1.3M636.2 131.8h1.3M635.1 110.8h1.3M634.8 165.8h1.3M635.9 144.8h1.3M635.5 139.0h1.3M635.8 123.8h1.3M635.5 147.2h1.3M625.1 148.6h1.3M624.4 123.9h1.3M625.2 121.1h1.3M628.5 123.9h1.3M628.8 144.0h1.3M629.5 160.4h1.3M629.4 125.4h1.3M629.4 135.8h1.3M636.5 136.9h1.3M637.0 73.7h1.3M636.7 118.1h1.3M637.1 93.1h1.3M628.3 139.4h1.3M628.3 138.0h1.3M627.8 148.4h1.3M628.6 150.1h1.3M628.1 124.9h1.3M627.4 138.1h1.3M629.1 122.0h1.3M627.6 140.3h1.3M627.2 139.1h1.3M628.0 140.0h1.3M629.0 138.6h1.3M628.4 133.3h1.3M628.9 120.8h1.3M629.0 124.2h1.3M629.1 130.4h1.3M628.5 108.5h1.3M629.0 158.0h1.3M627.9 108.3h1.3M628.6 129.0h1.3M628.9 154.2h1.3M627.6 135.0h1.3M627.9 130.7h1.3M627.4 173.7h1.3M635.0 137.5h1.3M628.8 152.1h1.3M629.6 108.8h1.3M630.2 112.2h1.3M629.9 149.0h1.3M630.2 107.1h1.3M629.6 94.9h1.3M629.0 121.0h1.3M628.5 122.8h1.3M629.2 141.0h1.3M630.2 161.7h1.3M629.3 130.7h1.3M629.4 123.0h1.3M629.4 111.6h1.3M629.6 146.8h1.3M630.0 119.7h1.3M628.6 141.0h1.3M629.7 138.5h1.3M628.7 142.9h1.3M629.6 128.5h1.3M637.0 126.9h1.3M637.0 155.2h1.3M636.5 115.3h1.3M636.2 109.9h1.3M636.9 109.9h1.3M635.4 148.6h1.3M636.3 137.0h1.3M636.1 124.3h1.3M635.8 121.1h1.3M636.5 133.3h1.3M624.8 156.2h1.3M625.4 135.7h1.3M625.6 133.5h1.3M625.8 90.2h1.3M624.8 134.9h1.3M626.3 102.1h1.3M628.2 129.2h1.3M629.0 119.6h1.3M628.9 132.1h1.3M629.4 121.5h1.3M629.7 139.6h1.3M628.7 113.9h1.3M629.7 102.9h1.3M629.8 106.5h1.3M629.0 113.8h1.3M629.5 157.2h1.3M628.3 137.3h1.3M628.1 138.0h1.3M628.8 107.2h1.3M628.2 145.0h1.3M628.6 147.4h1.3M629.9 103.9h1.3M628.4 131.2h1.3M628.4 141.2h1.3M628.6 109.6h1.3M627.7 114.2h1.3M628.2 137.0h1.3M627.7 111.2h1.3M628.0 167.6h1.3M627.9 147.0h1.3M628.9 121.4h1.3M627.7 103.9h1.3M636.0 142.0h1.3M635.3 139.2h1.3M638.0 141.6h1.3M638.5 117.7h1.3M637.1 105.9h1.3M637.3 115.5h1.3M638.5 155.4h1.3M638.5 114.1h1.3M638.3 156.5h1.3M637.6 151.9h1.3M638.2 110.4h1.3M637.0 138.2h1.3M638.2 142.6h1.3M638.1 104.0h1.3M636.9 150.0h1.3M637.8 159.4h1.3M637.6 103.4h1.3M631.0 111.6h1.3M636.6 130.1h1.3M637.2 153.4h1.3M635.6 141.5h1.3M636.0 152.5h1.3M636.0 89.6h1.3M636.6 109.2h1.3M635.2 96.1h1.3M637.0 137.6h1.3M636.4 150.4h1.3M636.7 139.8h1.3M625.0 176.2h1.3M626.2 137.4h1.3M626.6 139.7h1.3M625.9 140.8h1.3M625.5 123.0h1.3M626.7 126.3h1.3M626.4 129.6h1.3M626.0 136.3h1.3M626.9 166.8h1.3M626.3 144.3h1.3M625.2 130.6h1.3M627.7 112.4h1.3M628.6 116.1h1.3M627.8 144.4h1.3M628.6 103.0h1.3M628.9 113.0h1.3M630.1 138.2h1.3M630.1 157.7h1.3M630.0 138.5h1.3M630.6 155.9h1.3M630.3 145.8h1.3M628.7 152.0h1.3M629.9 159.2h1.3M629.8 125.5h1.3M630.5 162.7h1.3M629.8 148.7h1.3M630.0 111.7h1.3M629.4 151.2h1.3M628.8 132.5h1.3M629.4 131.1h1.3M638.9 137.6h1.3M638.4 122.7h1.3M638.9 126.8h1.3M638.9 153.5h1.3M639.0 126.8h1.3M637.4 103.9h1.3M637.7 127.1h1.3M638.8 151.0h1.3M637.2 122.2h1.3M638.0 137.5h1.3M638.8 123.3h1.3M638.8 125.9h1.3M637.8 137.0h1.3M638.4 112.1h1.3M638.9 117.7h1.3M629.6 148.0h1.3M629.4 141.9h1.3M629.7 139.2h1.3M629.6 146.0h1.3M630.6 155.2h1.3M630.2 99.5h1.3M631.5 132.6h1.3M633.4 96.0h1.3M632.7 133.8h1.3M633.2 142.5h1.3M633.2 159.4h1.3M632.4 111.2h1.3M631.5 110.3h1.3M633.0 111.5h1.3M638.1 141.5h1.3M639.8 121.6h1.3M639.5 135.4h1.3M638.0 138.5h1.3M639.1 132.6h1.3M638.7 151.3h1.3M627.6 154.5h1.3M627.4 107.2h1.3M628.0 97.6h1.3M628.1 113.9h1.3M628.9 136.2h1.3M629.3 117.6h1.3M628.3 138.0h1.3M637.3 169.6h1.3M637.0 149.5h1.3M638.2 169.7h1.3M637.2 126.7h1.3M636.7 159.0h1.3M638.1 134.2h1.3M638.1 132.8h1.3M637.8 135.1h1.3M636.8 144.7h1.3M637.7 120.0h1.3M638.5 149.5h1.3M639.6 115.1h1.3M639.5 126.2h1.3M638.2 92.3h1.3M639.3 163.2h1.3M625.5 132.7h1.3M625.3 153.7h1.3M625.5 118.4h1.3M625.6 115.9h1.3M626.0 144.2h1.3M625.2 125.8h1.3M625.0 118.4h1.3M625.2 126.7h1.3M626.1 122.4h1.3M626.2 131.7h1.3M625.7 137.4h1.3M624.8 125.3h1.3M626.4 154.5h1.3M626.2 125.0h1.3M625.4 120.4h1.3M636.0 132.3h1.3M636.3 137.9h1.3M636.8 124.7h1.3M635.6 113.9h1.3M637.3 158.4h1.3M636.7 122.3h1.3M636.1 102.3h1.3M636.3 136.4h1.3M637.3 150.7h1.3M635.8 142.4h1.3M632.6 142.7h1.3M631.6 103.0h1.3M631.0 121.4h1.3M625.5 104.8h1.3M625.1 145.2h1.3M625.2 134.4h1.3M625.1 134.8h1.3M625.6 117.5h1.3M626.4 129.3h1.3M627.8 155.6h1.3M627.9 122.1h1.3M627.7 130.9h1.3M627.7 132.7h1.3M627.3 124.9h1.3M627.3 94.8h1.3M627.9 132.3h1.3M627.4 129.2h1.3M631.6 119.1h1.3M626.1 118.8h1.3M625.8 167.1h1.3M627.6 111.4h1.3M626.7 147.9h1.3M627.6 134.3h1.3M626.9 69.8h1.3M627.4 147.4h1.3M626.3 148.1h1.3M629.2 131.8h1.3M629.3 152.7h1.3M629.7 121.0h1.3M630.0 107.4h1.3M630.6 131.3h1.3M629.5 141.9h1.3M630.7 140.1h1.3M629.9 102.0h1.3M629.7 143.3h1.3M630.1 94.1h1.3M629.7 128.3h1.3M629.4 138.9h1.3M628.4 132.5h1.3M629.4 130.8h1.3M628.1 120.9h1.3M627.7 141.4h1.3M628.9 113.2h1.3M628.4 146.7h1.3M628.1 135.3h1.3M628.9 153.8h1.3M628.1 135.2h1.3M629.0 152.3h1.3M627.9 113.9h1.3M627.7 139.1h1.3M629.2 161.9h1.3M628.8 153.2h1.3M628.1 121.6h1.3M629.2 108.7h1.3M628.6 125.4h1.3M628.9 149.2h1.3M629.6 110.7h1.3M627.9 125.2h1.3M629.1 97.4h1.3M628.8 131.9h1.3M629.3 164.7h1.3M628.8 138.7h1.3M628.2 137.8h1.3M293.3 151.2h1.3M293.4 70.6h1.3M293.6 129.4h1.3M293.0 159.8h1.3M293.5 108.9h1.3M293.2 149.4h1.3M293.7 69.9h1.3M294.0 121.3h1.3M293.3 116.7h1.3M294.1 108.5h1.3M293.7 112.9h1.3M293.4 110.8h1.3M293.7 126.9h1.3M293.8 107.8h1.3M293.1 147.5h1.3M293.4 143.9h1.3M293.6 116.3h1.3M293.3 160.6h1.3M293.3 135.9h1.3M293.5 140.9h1.3M293.8 142.0h1.3M293.0 97.2h1.3M293.5 147.4h1.3M293.1 131.1h1.3M293.4 89.2h1.3M293.2 148.3h1.3" stroke="#686868" stroke-width="1.3" fill="none"/>
<polyline points="226.2,172.9 235.8,176.0 240.9,180.0 247.0,179.0 253.2,175.0 261.3,172.9 271.5,166.8 281.8,162.7 285.0,160.3 294.0,160.5 302.0,162.8 312.0,156.0 322.0,148.0 331.0,141.4 333.5,130.2 352.0,129.5 367.0,129.3 400.0,129.2 450.0,128.6 500.0,128.8 560.0,128.3 600.0,127.4 639.0,127.4" fill="none" stroke="#ecd060" stroke-width="1.2"/>
<line x1="226.0" y1="131.5" x2="256.8" y2="131.5" stroke="#111" stroke-width="1.1" />
<line x1="261.0" y1="196.5" x2="288.3" y2="196.5" stroke="#111" stroke-width="1.1" />
<line x1="289.0" y1="131.5" x2="352.0" y2="131.5" stroke="#111" stroke-width="1.1" />
<line x1="366.0" y1="130.5" x2="438.6" y2="130.5" stroke="#111" stroke-width="1.1" />
<line x1="453.0" y1="130.5" x2="639.5" y2="130.5" stroke="#111" stroke-width="1.1" />
<text x="2.5" y="266.0" font-size="12" text-anchor="start" fill="#111" font-weight="bold" >b</text>
<rect x="34.7" y="274.8" width="13.3" height="9.9" fill="url(#gW)" />
<rect x="48.0" y="274.8" width="5.0" height="9.9" fill="url(#gV)" />
<rect x="53.0" y="274.8" width="9.5" height="9.9" fill="url(#gW)" />
<rect x="62.5" y="274.8" width="26.3" height="9.9" fill="url(#gM)" />
<rect x="88.8" y="274.8" width="23.2" height="9.9" fill="url(#gW)" />
<rect x="112.0" y="274.8" width="1.8" height="9.9" fill="url(#gM)" />
<rect x="113.8" y="274.8" width="5.2" height="9.9" fill="url(#gW)" />
<rect x="119.0" y="274.8" width="16.2" height="9.9" fill="url(#gM)" />
<rect x="135.2" y="274.8" width="9.8" height="9.9" fill="url(#gW)" />
<rect x="145.0" y="274.8" width="22.0" height="9.9" fill="url(#gG)" />
<rect x="167.0" y="274.8" width="6.6" height="9.9" fill="url(#gW)" />
<rect x="173.6" y="274.8" width="13.4" height="9.9" fill="url(#gV)" />
<rect x="187.0" y="274.8" width="16.4" height="9.9" fill="url(#gW)" />
<rect x="223.3" y="274.8" width="16.1" height="9.9" fill="url(#gW)" />
<rect x="239.4" y="274.8" width="17.4" height="9.9" fill="url(#gV)" />
<rect x="256.8" y="274.8" width="13.6" height="9.9" fill="url(#gW)" />
<rect x="270.4" y="274.8" width="38.0" height="9.9" fill="url(#gD)" />
<rect x="308.4" y="274.8" width="14.1" height="9.9" fill="url(#gW)" />
<rect x="322.5" y="274.8" width="26.8" height="9.9" fill="url(#gD)" />
<rect x="349.3" y="274.8" width="20.3" height="9.9" fill="url(#gW)" />
<rect x="369.6" y="274.8" width="11.2" height="9.9" fill="url(#gV)" />
<rect x="380.8" y="274.8" width="19.8" height="9.9" fill="url(#gW)" />
<rect x="400.6" y="274.8" width="26.6" height="9.9" fill="url(#gD)" />
<rect x="427.2" y="274.8" width="6.8" height="9.9" fill="url(#gW)" />
<rect x="434.0" y="274.8" width="15.0" height="9.9" fill="url(#gM)" />
<rect x="449.0" y="274.8" width="5.0" height="9.9" fill="url(#gW)" />
<rect x="454.0" y="274.8" width="13.0" height="9.9" fill="url(#gG)" />
<rect x="467.0" y="274.8" width="11.8" height="9.9" fill="url(#gW)" />
<rect x="478.8" y="274.8" width="10.6" height="9.9" fill="url(#gG)" />
<rect x="489.4" y="274.8" width="17.4" height="9.9" fill="url(#gW)" />
<rect x="506.8" y="274.8" width="27.2" height="9.9" fill="url(#gD)" />
<rect x="534.0" y="274.8" width="13.5" height="9.9" fill="url(#gW)" />
<rect x="547.5" y="274.8" width="18.1" height="9.9" fill="url(#gM)" />
<rect x="565.6" y="274.8" width="12.4" height="9.9" fill="url(#gW)" />
<rect x="578.0" y="274.8" width="5.7" height="9.9" fill="url(#gG)" />
<rect x="583.7" y="274.8" width="20.3" height="9.9" fill="url(#gW)" />
<rect x="604.0" y="274.8" width="13.7" height="9.9" fill="url(#gG)" />
<rect x="617.7" y="274.8" width="20.3" height="9.9" fill="url(#gW)" />
<path d="M203.4,274.8 L213.3,279.8 L203.4,284.7Z M223.3,274.8 L213.3,279.8 L223.3,284.7Z" fill="url(#gC)"/>
<path d="M37.7,274.8 H203.4 L213.3,279.8 L223.3,274.8 H635.0 Q638.0,274.8 638.0,277.8 V281.7 Q638.0,284.7 635.0,284.7 H223.3 L213.3,279.8 L203.4,284.7 H37.7 Q34.7,284.7 34.7,281.7 V277.8 Q34.7,274.8 37.7,274.8Z" fill="none" stroke="#aaa" stroke-width="0.8"/>
<text x="75.7" y="282.1" font-size="6.6" text-anchor="middle" fill="#ddd" font-weight="bold" >p14</text>
<text x="100.4" y="282.1" font-size="6.6" text-anchor="middle" fill="#222" font-weight="bold" >p13</text>
<text x="156.0" y="282.1" font-size="6.6" text-anchor="middle" fill="#222" font-weight="bold" >p12.1</text>
<text x="289.4" y="282.1" font-size="6.6" text-anchor="middle" fill="#bbb" font-weight="bold" >q21.1</text>
<text x="335.9" y="282.1" font-size="6.6" text-anchor="middle" fill="#bbb" font-weight="bold" >q21.3</text>
<text x="359.5" y="282.1" font-size="6.6" text-anchor="middle" fill="#222" font-weight="bold" >q22.1</text>
<text x="390.7" y="282.1" font-size="6.6" text-anchor="middle" fill="#222" font-weight="bold" >q22.3</text>
<text x="413.9" y="282.1" font-size="6.6" text-anchor="middle" fill="#bbb" font-weight="bold" >q23.1</text>
<text x="520.4" y="282.1" font-size="6.6" text-anchor="middle" fill="#bbb" font-weight="bold" >q25.1</text>
<text x="627.9" y="282.1" font-size="6.6" text-anchor="middle" fill="#222" font-weight="bold" >q26.3</text>
<rect x="490.0" y="288.0" width="3.0" height="1.3" fill="#d42a35" />
<rect x="490.0" y="290.3" width="3.0" height="1.3" fill="#d42a35" />
<text x="507.8" y="293.6" font-size="9.6" text-anchor="start" fill="#222" font-style="italic" >PAX2</text>
<text x="37.2" y="300.9" font-size="9.6" text-anchor="start" fill="#222" >Chromosome 10</text>
<line x1="34.7" y1="341.5" x2="639.1" y2="341.5" stroke="#8080b4" stroke-width="1.0" />
<line x1="34.7" y1="366.8" x2="639.1" y2="366.8" stroke="#a8a8d0" stroke-width="1.4" />
<line x1="34.7" y1="404.5" x2="639.1" y2="404.5" stroke="#555" stroke-width="0.9" />
<line x1="34.7" y1="442.5" x2="639.1" y2="442.5" stroke="#b85868" stroke-width="1.0" />
<line x1="34.7" y1="467.1" x2="639.1" y2="467.1" stroke="#e49aa4" stroke-width="1.8" />
<line x1="214.5" y1="310.4" x2="214.5" y2="498.5" stroke="#777" stroke-width="0.8" />
<path d="M36.3 431.7h1.25M35.7 414.4h1.25M35.7 394.6h1.25M35.9 408.2h1.25M35.9 393.4h1.25M36.1 429.6h1.25M36.0 386.1h1.25M36.1 405.9h1.25M36.2 430.6h1.25M36.2 392.9h1.25M36.1 440.9h1.25M36.2 390.6h1.25M36.3 384.6h1.25M35.8 416.6h1.25M36.1 400.6h1.25M36.3 376.7h1.25M35.7 365.3h1.25M36.3 397.1h1.25M36.0 402.7h1.25M36.0 433.1h1.25M36.0 356.2h1.25M35.7 423.1h1.25M36.1 401.9h1.25M36.3 393.1h1.25M36.1 388.0h1.25M35.7 377.9h1.25M36.0 415.0h1.25M36.2 363.4h1.25M35.9 394.6h1.25M35.9 416.0h1.25M35.8 424.8h1.25M35.7 398.4h1.25M36.2 401.2h1.25M36.2 407.5h1.25M36.1 412.2h1.25M36.0 426.5h1.25M35.8 377.7h1.25M36.1 415.4h1.25M36.1 397.0h1.25M35.8 427.5h1.25M36.2 433.3h1.25M35.8 410.2h1.25M36.0 412.8h1.25M35.7 398.7h1.25M35.8 406.6h1.25M35.8 407.1h1.25M36.1 392.1h1.25M35.9 366.8h1.25M38.9 404.2h1.25M39.3 462.9h1.25M39.2 434.7h1.25M39.3 417.6h1.25M38.9 394.9h1.25M39.6 390.4h1.25M39.3 420.6h1.25M39.4 394.9h1.25M39.2 374.2h1.25M39.2 410.7h1.25M39.2 395.2h1.25M39.0 373.5h1.25M38.9 414.6h1.25M39.2 400.5h1.25M39.4 384.7h1.25M39.6 368.5h1.25M39.5 415.1h1.25M39.6 397.6h1.25M39.2 397.5h1.25M39.1 400.7h1.25M39.4 368.2h1.25M39.3 406.0h1.25M39.2 365.8h1.25M39.3 407.4h1.25M39.3 435.3h1.25M39.4 355.7h1.25M39.1 396.8h1.25M38.9 372.3h1.25M39.4 354.5h1.25M39.6 428.6h1.25M39.6 479.5h1.25M39.3 395.5h1.25M39.6 392.8h1.25M39.4 412.2h1.25M39.2 389.7h1.25M39.3 412.2h1.25M48.5 393.8h1.25M48.3 447.5h1.25M48.2 418.9h1.25M48.7 398.0h1.25M48.3 451.4h1.25M48.7 430.7h1.25M48.5 442.5h1.25M58.9 429.1h1.25M62.1 388.5h1.25M58.4 439.4h1.25M57.2 367.4h1.25M57.6 406.2h1.25M63.9 388.5h1.25M58.6 380.5h1.25M57.6 387.3h1.25M63.3 367.8h1.25M57.2 410.8h1.25M63.9 391.2h1.25M57.6 400.2h1.25M62.5 412.0h1.25M63.3 407.2h1.25M57.7 408.8h1.25M63.4 417.4h1.25M60.2 428.8h1.25M63.4 427.3h1.25M62.5 407.3h1.25M62.5 408.4h1.25M59.9 414.1h1.25M58.9 396.6h1.25M61.2 428.0h1.25M57.6 393.1h1.25M57.1 416.2h1.25M59.9 402.3h1.25M63.7 393.4h1.25M59.0 343.8h1.25M58.7 409.5h1.25M63.6 398.7h1.25M63.4 381.1h1.25M60.0 392.7h1.25M58.4 398.3h1.25M58.6 411.5h1.25M62.7 418.9h1.25M64.0 421.6h1.25M62.6 410.9h1.25M62.1 387.2h1.25M57.7 377.3h1.25M63.8 383.0h1.25M63.6 400.9h1.25M58.8 361.3h1.25M62.2 392.6h1.25M61.2 397.0h1.25M62.4 417.5h1.25M61.1 414.7h1.25M57.7 449.7h1.25M63.9 395.3h1.25M58.3 415.4h1.25M62.2 393.0h1.25M57.6 390.4h1.25M57.6 440.0h1.25M57.4 378.1h1.25M62.4 366.2h1.25M59.6 382.6h1.25M57.1 389.1h1.25M58.9 394.7h1.25M61.2 440.3h1.25M57.7 404.5h1.25M58.3 431.1h1.25M57.5 431.0h1.25M62.5 400.5h1.25M62.7 454.5h1.25M62.7 411.4h1.25M60.2 401.9h1.25M60.0 402.7h1.25M58.6 419.8h1.25M57.1 424.0h1.25M63.6 386.3h1.25M62.1 399.0h1.25M57.5 381.1h1.25M63.4 409.6h1.25M58.3 396.6h1.25M58.7 418.3h1.25M62.3 457.9h1.25M59.7 439.4h1.25M60.1 412.4h1.25M60.9 389.2h1.25M62.4 400.5h1.25M59.7 361.7h1.25M62.6 394.8h1.25M62.6 410.4h1.25M61.1 404.7h1.25M62.7 400.9h1.25M58.8 443.3h1.25M58.3 443.9h1.25M62.2 384.7h1.25M62.1 398.4h1.25M58.4 433.9h1.25M61.2 415.9h1.25M58.6 373.8h1.25M59.0 408.3h1.25M60.1 387.1h1.25M58.5 427.1h1.25M62.2 391.4h1.25M63.8 396.6h1.25M61.0 429.8h1.25M60.8 405.9h1.25M63.9 416.1h1.25M62.2 386.0h1.25M59.8 385.5h1.25M62.6 400.5h1.25M60.1 418.3h1.25M58.8 410.8h1.25M63.8 395.3h1.25M60.2 423.8h1.25M64.0 389.3h1.25M58.8 406.1h1.25M57.2 387.5h1.25M59.8 400.9h1.25M57.4 385.8h1.25M61.2 381.9h1.25M59.9 438.8h1.25M58.6 410.6h1.25M57.6 420.2h1.25M60.2 367.0h1.25M57.7 398.8h1.25M59.0 427.6h1.25M59.7 397.6h1.25M63.6 400.4h1.25M61.5 382.6h1.25M58.4 427.7h1.25M61.3 405.1h1.25M63.4 394.2h1.25M63.6 426.8h1.25M58.7 412.8h1.25M62.4 405.0h1.25M58.5 418.8h1.25M57.1 402.9h1.25M60.2 439.3h1.25M63.5 360.9h1.25M57.6 424.1h1.25M63.4 409.5h1.25M62.4 368.7h1.25M59.7 390.5h1.25M58.8 384.5h1.25M57.4 401.8h1.25M57.6 462.6h1.25M59.6 425.6h1.25M57.8 417.4h1.25M58.8 425.7h1.25M61.0 388.2h1.25M57.6 398.4h1.25M59.8 421.9h1.25M60.8 363.2h1.25M61.2 416.5h1.25M61.0 409.5h1.25M58.6 401.3h1.25M60.0 378.0h1.25M60.2 411.7h1.25M58.5 388.3h1.25M57.7 415.1h1.25M62.5 402.0h1.25M57.2 355.6h1.25M63.9 396.9h1.25M59.9 432.4h1.25M61.4 384.4h1.25M62.4 403.2h1.25M59.8 392.5h1.25M63.5 402.3h1.25M63.5 425.3h1.25M60.0 414.9h1.25M58.4 434.8h1.25M58.4 418.8h1.25M62.4 379.7h1.25M61.3 385.2h1.25M62.4 461.8h1.25M63.4 416.2h1.25M61.1 395.9h1.25M61.3 388.1h1.25M57.7 397.8h1.25M57.7 395.4h1.25M63.9 413.8h1.25M62.3 432.1h1.25M57.8 400.9h1.25M57.7 409.3h1.25M58.7 367.8h1.25M60.0 400.2h1.25M63.5 401.2h1.25M63.7 388.1h1.25M69.4 390.6h1.25M69.6 402.1h1.25M69.4 420.7h1.25M69.5 399.4h1.25M69.3 389.5h1.25M69.6 431.6h1.25M69.4 409.0h1.25M69.4 387.0h1.25M69.4 393.2h1.25M69.7 435.9h1.25M69.6 369.7h1.25M69.5 375.2h1.25M69.3 391.3h1.25M69.5 412.7h1.25M69.2 389.0h1.25M69.6 408.5h1.25M69.8 430.2h1.25M69.3 408.7h1.25M69.5 442.0h1.25M69.6 444.0h1.25M69.6 436.6h1.25M69.5 398.2h1.25M69.3 404.6h1.25M69.2 408.4h1.25M69.8 392.3h1.25M69.3 376.5h1.25M69.5 372.4h1.25M69.4 381.9h1.25M69.5 428.9h1.25M69.3 415.8h1.25M86.2 415.7h1.25M85.3 415.9h1.25M88.8 391.8h1.25M87.3 367.4h1.25M84.7 437.3h1.25M88.9 393.2h1.25M85.2 386.0h1.25M84.7 354.7h1.25M86.0 446.7h1.25M86.0 439.2h1.25M85.4 450.2h1.25M87.3 415.2h1.25M84.8 387.6h1.25M86.6 431.2h1.25M88.9 424.2h1.25M88.8 431.6h1.25M87.4 364.0h1.25M89.1 365.5h1.25M86.1 402.1h1.25M86.4 413.1h1.25M87.6 381.0h1.25M86.5 409.2h1.25M84.9 425.9h1.25M86.1 428.2h1.25M88.7 388.8h1.25M89.2 404.2h1.25M89.0 402.6h1.25M88.8 389.1h1.25M88.8 419.2h1.25M88.8 395.5h1.25M86.4 399.5h1.25M86.2 420.6h1.25M86.0 473.4h1.25M87.4 394.8h1.25M87.6 388.2h1.25M85.0 379.3h1.25M87.9 400.8h1.25M87.6 427.3h1.25M86.1 399.2h1.25M84.8 387.3h1.25M87.4 396.7h1.25M86.5 425.5h1.25M87.8 386.8h1.25M89.0 383.7h1.25M89.1 416.7h1.25M87.8 402.2h1.25M88.9 406.3h1.25M84.7 434.6h1.25M88.6 459.5h1.25M85.1 404.6h1.25M86.4 374.4h1.25M85.1 418.9h1.25M85.2 344.8h1.25M86.2 417.6h1.25M87.5 391.8h1.25M88.6 398.1h1.25M87.6 384.1h1.25M86.3 436.4h1.25M87.9 394.0h1.25M85.0 385.3h1.25M85.2 417.7h1.25M87.4 372.9h1.25M88.8 362.1h1.25M84.9 383.7h1.25M85.1 417.8h1.25M88.6 380.8h1.25M87.9 391.9h1.25M86.3 413.2h1.25M84.8 423.0h1.25M88.9 433.9h1.25M87.4 426.9h1.25M86.6 399.5h1.25M87.6 438.0h1.25M88.9 425.0h1.25M86.6 398.4h1.25M87.9 375.9h1.25M84.7 388.3h1.25M87.8 372.6h1.25M88.6 410.1h1.25M88.6 395.6h1.25M87.3 368.9h1.25M84.9 404.0h1.25M84.8 377.4h1.25M85.0 412.6h1.25M86.2 389.0h1.25M84.8 409.3h1.25M87.8 402.8h1.25M85.1 391.5h1.25M86.4 391.4h1.25M87.3 384.2h1.25M88.8 417.4h1.25M87.2 385.1h1.25M87.5 405.0h1.25M87.6 414.8h1.25M85.1 412.9h1.25M86.3 431.2h1.25M86.0 375.9h1.25M88.7 396.9h1.25M87.9 382.1h1.25M87.5 388.8h1.25M86.3 378.0h1.25M86.4 409.2h1.25M84.9 400.1h1.25M86.3 388.9h1.25M85.0 385.0h1.25M86.3 374.0h1.25M86.6 409.6h1.25M86.0 406.9h1.25M88.9 397.0h1.25M85.1 394.5h1.25M87.8 423.5h1.25M89.1 382.3h1.25M88.8 415.1h1.25M88.5 398.1h1.25M85.1 405.0h1.25M87.5 387.8h1.25M86.4 367.9h1.25M87.6 398.5h1.25M88.5 385.3h1.25M85.3 401.8h1.25M86.6 445.0h1.25M87.7 392.7h1.25M94.0 432.5h1.25M93.6 369.0h1.25M93.4 405.4h1.25M93.5 390.1h1.25M94.0 376.8h1.25M93.7 414.0h1.25M93.4 438.2h1.25M93.5 384.2h1.25M93.5 404.6h1.25M93.9 401.1h1.25M93.4 403.3h1.25M93.6 410.4h1.25M93.7 376.3h1.25M93.7 387.9h1.25M93.8 407.9h1.25M93.7 393.8h1.25M93.5 420.5h1.25M93.5 379.0h1.25M93.7 414.9h1.25M93.9 403.2h1.25M93.7 379.8h1.25M94.0 410.6h1.25M93.9 408.7h1.25M93.5 395.2h1.25M93.6 410.6h1.25M93.8 432.6h1.25M94.0 343.5h1.25M93.4 426.2h1.25M93.8 437.0h1.25M93.4 378.7h1.25M102.8 381.2h1.25M101.0 392.1h1.25M102.5 353.0h1.25M102.7 410.5h1.25M102.6 431.4h1.25M102.5 389.2h1.25M100.9 392.2h1.25M102.7 413.1h1.25M101.0 375.1h1.25M102.8 391.1h1.25M103.1 405.4h1.25M103.1 399.6h1.25M103.0 384.9h1.25M101.3 421.9h1.25M103.2 432.3h1.25M101.3 416.0h1.25M101.2 448.6h1.25M101.1 387.7h1.25M101.5 412.8h1.25M101.2 443.1h1.25M102.7 385.8h1.25M102.6 373.4h1.25M103.0 368.7h1.25M103.0 391.0h1.25M103.0 430.8h1.25M103.1 356.0h1.25M101.3 413.0h1.25M103.0 357.1h1.25M103.2 410.0h1.25M102.9 395.7h1.25M103.2 434.8h1.25M101.6 414.8h1.25M102.6 406.4h1.25M101.6 397.9h1.25M102.7 411.8h1.25M102.9 422.1h1.25M101.2 398.7h1.25M102.6 415.9h1.25M101.2 399.5h1.25M102.6 417.0h1.25M102.9 429.3h1.25M101.1 392.7h1.25M102.5 402.0h1.25M102.6 396.8h1.25M101.2 411.3h1.25M103.2 429.6h1.25M101.0 394.7h1.25M101.2 411.4h1.25M103.2 375.5h1.25M102.6 396.8h1.25M101.0 397.0h1.25M102.6 389.5h1.25M101.5 407.5h1.25M102.6 378.0h1.25M103.2 407.9h1.25M101.6 435.1h1.25M101.2 424.4h1.25M100.9 415.3h1.25M101.2 377.8h1.25M103.1 416.3h1.25M103.0 402.5h1.25M101.0 392.6h1.25M101.1 377.3h1.25M103.1 389.3h1.25M103.2 370.0h1.25M102.7 388.5h1.25M100.9 381.9h1.25M101.2 430.8h1.25M102.9 435.9h1.25M103.1 400.9h1.25M102.8 432.7h1.25M101.2 415.3h1.25M101.0 421.1h1.25M101.1 376.3h1.25M102.7 418.8h1.25M101.0 406.7h1.25M102.7 406.2h1.25M101.2 453.5h1.25M103.1 441.0h1.25M112.3 386.9h1.25M112.6 401.3h1.25M111.3 367.5h1.25M111.0 411.7h1.25M110.9 352.9h1.25M110.8 399.3h1.25M112.2 422.9h1.25M110.7 431.2h1.25M112.4 385.5h1.25M111.4 366.5h1.25M112.5 414.4h1.25M112.0 407.0h1.25M111.1 392.7h1.25M112.3 403.7h1.25M112.0 386.1h1.25M112.0 402.6h1.25M111.2 396.6h1.25M110.9 409.7h1.25M110.8 380.6h1.25M112.4 393.9h1.25M111.3 415.4h1.25M112.2 442.5h1.25M112.0 395.9h1.25M111.1 371.2h1.25M112.7 384.1h1.25M111.2 363.8h1.25M112.3 384.7h1.25M110.8 411.7h1.25M110.9 389.8h1.25M110.7 375.0h1.25M111.2 406.8h1.25M111.4 393.1h1.25M112.4 439.5h1.25M110.7 406.2h1.25M112.2 390.2h1.25M112.3 404.6h1.25M111.2 351.6h1.25M112.1 420.5h1.25M111.1 396.3h1.25M111.3 420.5h1.25M112.6 425.7h1.25M112.2 406.5h1.25M112.2 400.1h1.25M112.6 398.2h1.25M111.3 446.9h1.25M112.2 409.2h1.25M112.5 398.6h1.25M112.7 389.1h1.25M110.9 369.4h1.25M112.6 387.4h1.25M112.3 395.6h1.25M111.2 386.9h1.25M112.1 416.4h1.25M112.2 395.5h1.25M112.6 390.8h1.25M111.0 401.1h1.25M111.1 372.6h1.25M112.1 417.4h1.25M111.1 381.0h1.25M112.3 418.2h1.25M112.4 384.1h1.25M112.3 391.7h1.25M118.0 406.3h1.25M118.3 390.2h1.25M117.7 387.6h1.25M118.2 393.7h1.25M118.2 412.9h1.25M118.1 485.5h1.25M117.9 402.0h1.25M118.1 420.6h1.25M118.1 410.8h1.25M118.0 402.4h1.25M118.3 423.8h1.25M117.8 396.3h1.25M117.7 366.5h1.25M118.2 391.4h1.25M117.8 417.8h1.25M117.8 410.1h1.25M118.0 406.4h1.25M117.7 390.6h1.25M118.0 374.7h1.25M118.1 444.9h1.25M117.8 393.4h1.25M117.8 401.6h1.25M118.3 396.8h1.25M117.8 426.8h1.25M118.2 375.3h1.25M118.3 370.4h1.25M117.7 427.5h1.25M118.3 410.7h1.25M118.0 333.4h1.25M118.1 370.5h1.25M125.4 433.1h1.25M125.4 439.5h1.25M125.7 418.3h1.25M125.2 383.2h1.25M125.8 422.3h1.25M125.4 426.5h1.25M125.7 429.5h1.25M125.5 404.1h1.25M125.5 388.6h1.25M125.2 419.5h1.25M125.7 418.0h1.25M125.4 432.0h1.25M125.4 394.5h1.25M125.3 399.3h1.25M125.8 384.8h1.25M125.5 382.0h1.25M125.6 371.2h1.25M125.4 402.3h1.25M125.3 360.2h1.25M125.4 381.9h1.25M125.4 372.5h1.25M125.3 404.9h1.25M125.8 398.9h1.25M125.2 366.3h1.25M125.4 379.2h1.25M125.4 444.1h1.25M125.8 429.9h1.25M125.5 370.5h1.25M125.3 419.1h1.25M125.3 385.2h1.25M127.2 380.7h1.25M128.5 404.8h1.25M131.2 402.7h1.25M138.1 411.1h1.25M134.1 417.4h1.25M127.5 394.3h1.25M129.7 417.8h1.25M134.9 397.9h1.25M137.8 436.1h1.25M137.4 409.6h1.25M135.1 372.6h1.25M135.5 387.4h1.25M137.5 339.7h1.25M132.7 390.2h1.25M127.5 383.2h1.25M127.4 375.3h1.25M128.8 380.3h1.25M131.2 335.9h1.25M133.9 424.7h1.25M132.7 426.8h1.25M136.2 425.5h1.25M136.1 419.0h1.25M136.8 410.5h1.25M127.4 411.1h1.25M136.7 352.0h1.25M127.0 426.1h1.25M132.8 402.4h1.25M131.5 426.0h1.25M137.6 422.7h1.25M137.7 426.7h1.25M136.5 404.2h1.25M129.7 405.1h1.25M137.4 419.8h1.25M132.7 423.8h1.25M133.6 416.1h1.25M130.0 417.7h1.25M134.0 433.9h1.25M132.4 390.1h1.25M131.2 392.7h1.25M138.0 388.2h1.25M136.4 357.8h1.25M127.4 395.0h1.25M128.5 401.6h1.25M129.8 364.8h1.25M132.9 412.3h1.25M127.3 419.9h1.25M133.8 402.6h1.25M134.8 386.5h1.25M132.8 408.8h1.25M137.6 424.5h1.25M128.7 384.2h1.25M128.6 420.8h1.25M136.7 384.0h1.25M129.7 312.5h1.25M131.3 403.2h1.25M130.1 362.0h1.25M132.3 380.3h1.25M134.2 419.9h1.25M128.5 392.4h1.25M130.1 375.4h1.25M129.9 398.9h1.25M134.1 353.1h1.25M127.3 383.2h1.25M129.9 421.5h1.25M137.7 377.5h1.25M136.6 395.2h1.25M136.6 446.4h1.25M131.1 355.2h1.25M135.3 408.6h1.25M132.5 472.1h1.25M133.8 426.2h1.25M133.7 379.6h1.25M136.8 409.0h1.25M129.8 421.6h1.25M137.4 412.4h1.25M130.2 405.5h1.25M132.8 402.2h1.25M128.7 410.3h1.25M137.8 401.6h1.25M135.3 387.7h1.25M137.8 395.7h1.25M129.9 419.2h1.25M136.6 408.6h1.25M134.9 378.8h1.25M131.0 416.6h1.25M131.2 387.4h1.25M131.0 398.5h1.25M138.0 418.1h1.25M127.1 424.8h1.25M132.9 417.3h1.25M129.8 403.1h1.25M135.2 368.6h1.25M134.9 381.5h1.25M131.5 403.5h1.25M134.8 411.1h1.25M127.5 393.3h1.25M132.2 397.8h1.25M128.4 399.4h1.25M128.5 379.3h1.25M127.6 395.5h1.25M128.8 383.7h1.25M135.5 389.8h1.25M130.2 399.3h1.25M137.5 388.4h1.25M131.6 453.2h1.25M130.1 405.3h1.25M132.7 390.2h1.25M131.5 433.1h1.25M136.6 391.6h1.25M137.5 399.0h1.25M127.7 400.7h1.25M138.0 426.1h1.25M136.3 407.7h1.25M127.3 347.0h1.25M128.9 452.4h1.25M130.1 398.2h1.25M130.1 386.6h1.25M137.4 373.0h1.25M134.0 392.5h1.25M128.6 382.8h1.25M137.7 427.1h1.25M127.4 410.9h1.25M128.9 409.2h1.25M127.1 425.2h1.25M128.8 406.2h1.25M128.5 404.2h1.25M131.0 398.1h1.25M130.1 407.6h1.25M135.1 421.9h1.25M130.0 389.8h1.25M127.6 424.7h1.25M128.7 395.4h1.25M135.1 449.0h1.25M127.5 376.2h1.25M132.4 410.0h1.25M128.5 410.1h1.25M127.1 424.2h1.25M135.0 382.7h1.25M136.1 375.2h1.25M135.0 377.5h1.25M145.2 431.1h1.25M145.4 436.8h1.25M145.3 394.5h1.25M145.4 364.4h1.25M145.2 412.5h1.25M145.6 406.6h1.25M145.5 396.4h1.25M145.4 379.5h1.25M145.6 419.0h1.25M145.7 421.1h1.25M145.2 402.7h1.25M145.6 421.0h1.25M145.5 409.5h1.25M145.4 389.3h1.25M145.5 382.7h1.25M145.4 430.4h1.25M145.5 389.7h1.25M145.4 403.7h1.25M145.3 404.4h1.25M145.6 435.2h1.25M145.5 425.2h1.25M145.3 386.1h1.25M145.5 421.5h1.25M145.2 426.5h1.25M145.5 398.6h1.25M145.8 395.9h1.25M145.3 452.5h1.25M145.3 405.1h1.25M145.2 408.7h1.25M145.3 400.1h1.25M157.5 415.9h1.25M153.2 415.5h1.25M157.9 363.1h1.25M154.7 428.9h1.25M153.7 365.7h1.25M155.0 431.7h1.25M157.9 401.3h1.25M156.6 413.0h1.25M153.7 437.4h1.25M158.1 409.4h1.25M154.8 436.5h1.25M158.0 414.9h1.25M158.0 380.4h1.25M153.3 439.4h1.25M155.1 376.7h1.25M158.1 412.0h1.25M155.2 406.8h1.25M153.7 412.9h1.25M158.0 394.7h1.25M154.6 382.1h1.25M156.5 417.8h1.25M158.1 402.9h1.25M154.6 406.2h1.25M156.4 386.4h1.25M153.5 436.5h1.25M156.6 394.0h1.25M153.2 434.3h1.25M155.2 400.3h1.25M157.9 388.8h1.25M158.1 415.2h1.25M153.3 391.0h1.25M153.7 422.1h1.25M153.2 422.3h1.25M154.8 423.2h1.25M157.5 366.3h1.25M157.5 411.7h1.25M153.7 416.1h1.25M155.0 430.0h1.25M155.1 407.9h1.25M156.6 364.3h1.25M156.2 420.3h1.25M157.7 388.8h1.25M156.4 408.8h1.25M153.1 403.2h1.25M153.3 406.1h1.25M156.2 409.6h1.25M156.6 411.5h1.25M157.9 405.5h1.25M153.5 383.1h1.25M157.9 387.6h1.25M154.6 410.9h1.25M157.6 401.7h1.25M153.7 409.7h1.25M155.0 381.6h1.25M156.2 412.6h1.25M156.4 347.2h1.25M154.9 381.3h1.25M156.6 390.0h1.25M153.6 399.9h1.25M156.0 447.2h1.25M154.8 431.4h1.25M154.6 404.2h1.25M157.7 424.5h1.25M156.1 401.4h1.25M155.0 402.4h1.25M155.2 409.1h1.25M157.5 359.7h1.25M156.2 426.6h1.25M156.4 385.8h1.25M157.7 404.2h1.25M153.5 363.3h1.25M155.0 414.9h1.25M155.2 413.5h1.25M153.8 399.9h1.25M155.2 431.9h1.25M154.6 438.8h1.25M154.6 439.0h1.25M153.1 377.2h1.25M154.6 410.7h1.25M153.3 394.8h1.25M153.7 393.2h1.25M155.0 421.2h1.25M158.1 374.2h1.25M157.6 373.4h1.25M155.1 356.1h1.25M157.7 378.5h1.25M156.0 399.1h1.25M153.1 433.6h1.25M156.5 395.7h1.25M153.6 376.7h1.25M156.4 398.5h1.25M155.1 433.4h1.25M154.7 424.2h1.25M156.1 382.5h1.25M153.2 405.9h1.25M157.8 413.4h1.25M158.1 406.0h1.25M156.6 416.9h1.25M154.7 377.9h1.25M156.4 427.1h1.25M157.9 383.8h1.25M154.7 441.5h1.25M157.6 387.2h1.25M153.4 408.6h1.25M153.1 389.8h1.25M153.4 382.0h1.25M155.0 425.8h1.25M157.9 385.6h1.25M155.1 392.5h1.25M156.4 408.4h1.25M155.1 418.3h1.25M153.5 355.6h1.25M156.6 350.4h1.25M156.3 431.9h1.25M157.7 416.5h1.25M155.1 383.1h1.25M155.1 420.6h1.25M156.3 375.7h1.25M156.1 406.4h1.25M154.8 378.8h1.25M156.2 431.9h1.25M154.9 422.3h1.25M157.9 415.2h1.25M155.2 406.0h1.25M156.1 386.8h1.25M153.7 368.2h1.25M156.3 416.3h1.25M154.9 374.2h1.25M157.8 356.3h1.25M156.1 391.4h1.25M158.0 394.9h1.25M157.4 400.5h1.25M154.8 377.9h1.25M153.7 418.6h1.25M155.1 422.9h1.25M154.6 419.2h1.25M153.3 417.6h1.25M153.4 410.8h1.25M153.7 449.0h1.25M167.4 413.1h1.25M168.0 401.4h1.25M167.7 408.9h1.25M167.9 418.0h1.25M167.4 390.6h1.25M167.6 383.6h1.25M167.4 399.7h1.25M167.5 386.4h1.25M167.5 394.4h1.25M167.8 387.9h1.25M168.0 431.0h1.25M168.0 437.8h1.25M167.4 439.2h1.25M167.8 412.0h1.25M167.7 422.3h1.25M167.8 394.2h1.25M167.6 400.9h1.25M167.7 424.7h1.25M168.0 369.9h1.25M167.6 416.1h1.25M167.6 393.4h1.25M167.8 411.2h1.25M168.0 393.9h1.25M167.8 385.3h1.25M167.8 408.5h1.25M167.6 425.3h1.25M167.6 430.2h1.25M167.4 403.5h1.25M167.7 391.7h1.25M167.6 391.9h1.25M172.2 403.0h1.25M172.5 378.4h1.25M172.3 425.5h1.25M172.7 414.7h1.25M172.3 409.0h1.25M172.6 425.8h1.25M172.6 416.0h1.25M182.3 410.8h1.25M182.0 420.1h1.25M178.5 421.8h1.25M182.3 405.9h1.25M180.0 390.3h1.25M179.8 382.4h1.25M178.3 394.8h1.25M179.9 371.5h1.25M181.2 428.0h1.25M182.1 351.8h1.25M179.6 421.8h1.25M178.4 364.3h1.25M180.8 402.2h1.25M179.3 439.8h1.25M181.9 407.3h1.25M182.4 388.8h1.25M178.4 393.6h1.25M181.2 407.7h1.25M180.9 384.4h1.25M179.8 395.2h1.25M180.8 366.1h1.25M178.4 403.1h1.25M178.3 391.9h1.25M178.6 366.8h1.25M179.5 421.7h1.25M178.1 381.8h1.25M182.4 386.1h1.25M179.5 357.6h1.25M182.4 405.0h1.25M179.6 358.1h1.25M181.1 410.1h1.25M180.9 425.5h1.25M182.0 418.9h1.25M181.2 395.5h1.25M182.4 375.3h1.25M181.9 371.2h1.25M182.3 371.6h1.25M180.6 402.4h1.25M179.5 412.7h1.25M181.2 414.4h1.25M180.7 395.4h1.25M181.0 399.5h1.25M180.9 376.9h1.25M182.1 449.8h1.25M182.0 392.4h1.25M178.3 407.8h1.25M178.1 351.8h1.25M180.8 409.8h1.25M179.8 412.0h1.25M182.3 439.2h1.25M178.4 413.7h1.25M182.2 401.6h1.25M182.1 386.9h1.25M180.7 424.4h1.25M182.0 396.1h1.25M178.3 382.6h1.25M178.5 408.8h1.25M179.5 418.2h1.25M178.1 399.9h1.25M179.6 394.6h1.25M180.8 424.5h1.25M181.9 374.9h1.25M179.7 404.4h1.25M180.6 425.0h1.25M181.3 454.0h1.25M178.3 415.7h1.25M178.8 385.8h1.25M178.5 374.5h1.25M182.5 384.6h1.25M181.2 378.5h1.25M181.0 444.0h1.25M180.8 395.3h1.25M178.4 427.2h1.25M178.3 394.6h1.25M182.2 410.6h1.25M179.8 358.2h1.25M179.4 374.8h1.25M180.0 398.9h1.25M180.8 402.3h1.25M181.1 376.8h1.25M178.6 413.4h1.25M179.4 365.8h1.25M182.0 386.3h1.25M179.8 375.3h1.25M182.4 400.5h1.25M179.5 396.2h1.25M181.1 424.2h1.25M181.1 378.8h1.25M178.1 409.5h1.25M182.5 401.3h1.25M179.7 373.7h1.25M178.5 398.9h1.25M178.2 400.6h1.25M181.8 418.0h1.25M178.2 403.1h1.25M180.6 369.2h1.25M178.7 401.7h1.25M181.1 434.4h1.25M181.0 401.1h1.25M179.8 373.9h1.25M182.1 397.6h1.25M178.4 399.3h1.25M182.1 393.3h1.25M180.0 409.0h1.25M180.7 384.8h1.25M180.8 387.8h1.25M182.2 390.5h1.25M178.6 403.7h1.25M181.2 377.0h1.25M181.1 419.4h1.25M179.7 371.3h1.25M178.5 396.9h1.25M180.0 392.4h1.25M180.6 400.7h1.25M182.2 408.3h1.25M179.4 341.4h1.25M179.4 419.6h1.25M180.7 407.2h1.25M180.7 447.1h1.25M179.7 394.3h1.25M191.1 393.3h1.25M190.8 413.4h1.25M189.7 435.8h1.25M189.5 428.6h1.25M189.3 429.5h1.25M189.5 384.9h1.25M192.4 387.1h1.25M189.1 379.8h1.25M190.5 421.8h1.25M191.0 374.4h1.25M191.1 410.9h1.25M192.3 374.7h1.25M192.5 433.5h1.25M190.6 397.9h1.25M191.0 410.2h1.25M190.5 393.1h1.25M189.7 408.1h1.25M190.9 402.3h1.25M189.3 420.1h1.25M191.1 417.4h1.25M192.4 389.2h1.25M190.5 372.6h1.25M191.0 376.4h1.25M189.1 389.9h1.25M192.4 374.0h1.25M190.9 395.5h1.25M189.7 383.7h1.25M192.0 421.2h1.25M192.0 434.2h1.25M190.6 406.1h1.25M192.2 415.3h1.25M192.0 372.4h1.25M191.9 447.5h1.25M192.3 420.1h1.25M190.6 409.0h1.25M189.4 396.3h1.25M189.6 433.0h1.25M189.5 430.2h1.25M190.9 411.8h1.25M192.1 380.8h1.25M192.4 429.3h1.25M191.0 376.2h1.25M192.4 369.0h1.25M189.2 379.7h1.25M190.8 400.6h1.25M190.5 388.2h1.25M189.7 398.0h1.25M189.3 388.6h1.25M191.0 379.8h1.25M189.5 413.7h1.25M205.4 428.9h1.25M204.2 416.0h1.25M205.5 434.9h1.25M202.7 384.9h1.25M204.3 408.8h1.25M202.5 430.6h1.25M202.6 406.0h1.25M205.3 407.2h1.25M205.3 421.8h1.25M204.1 382.7h1.25M205.5 437.6h1.25M203.1 388.6h1.25M203.9 424.5h1.25M204.4 423.2h1.25M204.4 392.6h1.25M202.5 428.3h1.25M204.1 391.6h1.25M202.4 424.5h1.25M202.5 390.0h1.25M204.0 435.2h1.25M202.4 380.6h1.25M204.3 391.1h1.25M204.4 415.9h1.25M203.8 382.3h1.25M202.4 437.8h1.25M204.2 434.4h1.25M203.9 427.5h1.25M202.7 396.6h1.25M204.5 474.3h1.25M202.7 385.4h1.25M203.8 498.3h1.25M205.7 432.5h1.25M205.4 395.5h1.25M204.4 426.1h1.25M204.2 411.1h1.25M202.5 403.9h1.25M202.7 409.7h1.25M202.8 432.5h1.25M204.2 378.4h1.25M205.7 377.3h1.25M202.5 404.4h1.25M205.3 404.5h1.25M204.0 442.5h1.25M204.1 393.4h1.25M202.9 371.2h1.25M202.7 443.8h1.25M202.6 426.8h1.25M204.4 402.5h1.25M205.3 360.9h1.25M204.4 386.1h1.25M205.5 401.8h1.25M203.8 391.3h1.25M229.8 401.9h1.25M230.3 379.6h1.25M229.9 434.4h1.25M229.7 416.9h1.25M229.9 425.0h1.25M230.0 363.3h1.25M230.1 368.7h1.25M230.3 408.6h1.25M229.9 361.4h1.25M229.8 424.3h1.25M230.1 388.0h1.25M229.9 408.4h1.25M230.0 394.7h1.25M230.1 420.9h1.25M230.0 380.5h1.25M230.3 420.9h1.25M229.7 411.0h1.25M229.7 407.8h1.25M229.9 396.3h1.25M230.3 414.6h1.25M230.1 420.9h1.25M229.7 391.0h1.25M229.7 393.3h1.25M230.2 387.8h1.25M230.3 438.5h1.25M229.8 386.0h1.25M230.1 402.8h1.25M230.3 403.5h1.25M229.7 427.6h1.25M229.9 396.1h1.25M230.1 372.5h1.25M229.7 435.2h1.25M229.7 382.9h1.25M229.9 419.7h1.25M230.2 429.4h1.25M230.1 408.3h1.25M230.3 388.3h1.25M230.0 414.0h1.25M230.2 391.0h1.25M230.1 409.5h1.25M229.8 402.8h1.25M229.8 456.4h1.25M230.2 406.0h1.25M230.1 397.5h1.25M230.1 396.3h1.25M229.8 402.8h1.25M229.7 375.0h1.25M229.7 432.0h1.25M230.1 423.1h1.25M229.8 400.1h1.25M230.2 383.6h1.25M229.7 398.3h1.25M230.0 366.4h1.25M229.9 414.5h1.25M230.0 391.7h1.25M229.8 367.3h1.25M229.8 391.7h1.25M230.1 407.7h1.25M230.3 410.9h1.25M230.3 393.1h1.25M238.6 416.5h1.25M238.6 396.9h1.25M240.1 413.4h1.25M238.2 401.3h1.25M240.5 381.0h1.25M240.1 419.1h1.25M238.4 384.8h1.25M238.4 399.2h1.25M239.9 363.0h1.25M239.8 368.6h1.25M238.3 390.0h1.25M238.3 390.6h1.25M240.1 414.5h1.25M238.8 388.4h1.25M238.3 439.3h1.25M240.3 363.3h1.25M240.4 445.6h1.25M238.2 413.3h1.25M240.2 371.7h1.25M238.5 422.4h1.25M240.5 410.6h1.25M238.5 392.7h1.25M240.0 396.0h1.25M240.3 387.7h1.25M239.8 368.9h1.25M240.4 467.5h1.25M238.7 383.1h1.25M238.5 447.4h1.25M240.4 405.0h1.25M238.8 394.4h1.25M238.7 423.6h1.25M240.4 432.8h1.25M240.3 411.0h1.25M239.9 440.7h1.25M238.5 394.4h1.25M238.1 365.6h1.25M240.5 416.8h1.25M240.3 383.2h1.25M240.5 402.1h1.25M238.2 436.0h1.25M238.8 382.7h1.25M238.2 384.5h1.25M238.3 376.7h1.25M238.7 370.9h1.25M240.1 413.4h1.25M239.8 423.2h1.25M238.4 401.2h1.25M238.8 392.8h1.25M238.6 419.8h1.25M238.7 373.6h1.25M238.6 384.5h1.25M238.5 369.6h1.25M238.3 359.3h1.25M240.3 409.8h1.25M238.6 420.4h1.25M238.8 422.7h1.25M238.6 410.1h1.25M238.6 381.2h1.25M238.3 416.4h1.25M238.8 415.6h1.25M239.8 417.1h1.25M238.7 413.4h1.25M240.4 387.6h1.25M238.6 417.3h1.25M240.0 377.2h1.25M239.8 404.6h1.25M239.9 457.6h1.25M238.2 385.8h1.25M240.0 390.3h1.25M238.4 335.2h1.25M238.6 398.4h1.25M238.3 411.6h1.25M240.3 402.9h1.25M238.8 401.6h1.25M240.3 393.6h1.25M238.2 376.3h1.25M240.4 428.8h1.25M240.4 385.7h1.25M240.2 412.8h1.25M238.2 403.0h1.25M239.8 378.0h1.25M240.5 406.1h1.25M239.8 370.2h1.25M240.4 415.9h1.25M240.5 417.9h1.25M238.2 414.2h1.25M240.3 391.2h1.25M238.6 403.5h1.25M238.3 407.5h1.25M240.0 389.9h1.25M238.3 425.3h1.25M238.6 388.5h1.25M240.1 447.7h1.25M238.2 378.8h1.25M238.4 431.8h1.25M238.8 405.6h1.25M239.9 378.7h1.25M240.4 384.2h1.25M238.8 428.8h1.25M238.7 397.6h1.25M238.7 424.3h1.25M238.5 417.2h1.25M250.8 395.2h1.25M250.5 386.2h1.25M250.4 448.6h1.25M250.7 382.7h1.25M250.4 391.9h1.25M250.8 378.1h1.25M250.3 425.9h1.25M261.2 363.4h1.25M257.3 436.0h1.25M258.4 388.0h1.25M257.1 409.7h1.25M256.0 414.6h1.25M257.4 407.6h1.25M261.0 386.2h1.25M258.4 414.0h1.25M257.0 415.2h1.25M257.0 422.7h1.25M261.4 397.5h1.25M255.9 368.0h1.25M260.0 390.2h1.25M261.5 405.2h1.25M258.4 401.9h1.25M255.7 400.7h1.25M255.7 402.8h1.25M257.4 365.8h1.25M260.0 426.9h1.25M255.6 422.6h1.25M261.3 404.2h1.25M260.1 390.5h1.25M256.1 385.9h1.25M255.6 412.3h1.25M258.9 423.9h1.25M256.0 404.1h1.25M255.7 421.8h1.25M258.8 391.7h1.25M257.1 359.8h1.25M260.0 429.7h1.25M258.4 393.8h1.25M260.3 402.4h1.25M256.0 408.5h1.25M261.4 418.4h1.25M258.3 421.5h1.25M257.3 395.1h1.25M257.0 409.9h1.25M258.8 398.6h1.25M255.6 426.2h1.25M259.7 410.9h1.25M257.0 469.3h1.25M261.6 392.0h1.25M258.9 422.8h1.25M261.6 411.0h1.25M258.8 412.0h1.25M258.8 398.3h1.25M258.9 378.7h1.25M257.5 340.6h1.25M255.7 415.4h1.25M256.1 413.0h1.25M256.1 371.8h1.25M256.0 411.2h1.25M255.6 398.8h1.25M257.4 394.6h1.25M255.9 398.3h1.25M261.3 372.0h1.25M256.0 379.5h1.25M255.7 335.6h1.25M255.9 402.4h1.25M257.6 407.9h1.25M260.2 474.2h1.25M259.9 422.4h1.25M255.9 461.6h1.25M260.2 374.2h1.25M261.6 396.3h1.25M258.7 373.6h1.25M261.2 409.6h1.25M257.4 403.1h1.25M256.1 408.6h1.25M261.2 433.3h1.25M258.4 387.6h1.25M260.1 378.8h1.25M258.8 396.5h1.25M257.2 438.9h1.25M260.3 424.0h1.25M261.2 408.9h1.25M261.4 374.8h1.25M258.4 394.5h1.25M260.3 373.6h1.25M258.7 396.7h1.25M261.0 387.6h1.25M260.1 405.7h1.25M259.8 388.9h1.25M258.4 401.6h1.25M258.9 412.7h1.25M255.6 387.5h1.25M261.2 446.4h1.25M260.1 391.0h1.25M259.9 388.0h1.25M258.6 420.7h1.25M258.5 403.7h1.25M258.6 396.5h1.25M256.2 392.3h1.25M261.3 381.9h1.25M257.2 410.8h1.25M257.0 398.2h1.25M255.7 412.9h1.25M261.5 390.6h1.25M255.9 413.5h1.25M257.5 375.8h1.25M261.2 400.0h1.25M257.0 418.5h1.25M257.0 422.2h1.25M257.4 376.2h1.25M258.6 399.0h1.25M260.2 398.5h1.25M258.3 408.5h1.25M255.6 388.6h1.25M259.6 380.1h1.25M260.1 408.8h1.25M261.6 366.9h1.25M256.1 415.7h1.25M255.8 401.7h1.25M261.1 441.5h1.25M255.9 393.7h1.25M257.3 420.0h1.25M260.2 388.7h1.25M261.3 426.3h1.25M255.9 397.3h1.25M256.2 392.6h1.25M255.6 388.3h1.25M257.4 409.5h1.25M260.3 383.1h1.25M261.4 427.1h1.25M259.7 397.5h1.25M255.8 427.9h1.25M258.4 410.5h1.25M258.8 421.2h1.25M261.3 373.2h1.25M260.2 416.6h1.25M258.7 415.1h1.25M257.0 399.6h1.25M261.6 425.5h1.25M255.7 403.0h1.25M255.9 409.9h1.25M261.3 402.8h1.25M255.9 432.3h1.25M260.1 442.0h1.25M255.6 401.1h1.25M259.7 388.3h1.25M261.5 428.9h1.25M257.0 368.4h1.25M255.7 416.3h1.25M261.3 406.5h1.25M256.1 419.0h1.25M257.0 377.8h1.25M258.8 380.2h1.25M258.4 427.3h1.25M258.9 394.3h1.25M258.5 389.0h1.25M258.4 396.9h1.25M259.6 421.0h1.25M255.7 346.2h1.25M261.0 423.2h1.25M258.9 411.0h1.25M260.0 412.8h1.25M261.0 362.2h1.25M258.7 417.4h1.25M261.2 425.7h1.25M258.6 395.7h1.25M255.5 381.3h1.25M256.0 394.1h1.25M257.6 421.4h1.25M267.2 422.1h1.25M267.7 387.9h1.25M267.3 426.6h1.25M269.1 393.3h1.25M265.9 377.1h1.25M268.8 402.3h1.25M266.3 418.5h1.25M267.6 404.4h1.25M269.0 385.1h1.25M269.1 375.7h1.25M266.0 395.5h1.25M268.6 401.2h1.25M267.1 403.4h1.25M268.9 391.0h1.25M268.9 403.3h1.25M267.3 416.3h1.25M267.4 401.6h1.25M265.8 428.5h1.25M267.3 432.7h1.25M269.1 381.4h1.25M265.9 359.6h1.25M266.3 416.8h1.25M268.5 406.0h1.25M267.1 361.0h1.25M268.7 375.4h1.25M268.5 364.0h1.25M265.7 405.0h1.25M268.9 384.6h1.25M268.8 393.1h1.25M267.2 435.9h1.25M266.1 381.7h1.25M267.6 407.9h1.25M267.4 474.8h1.25M267.7 422.8h1.25M268.5 388.0h1.25M269.0 413.5h1.25M268.6 404.2h1.25M267.2 380.9h1.25M267.1 428.1h1.25M268.8 401.1h1.25M266.0 409.9h1.25M266.0 435.8h1.25M268.9 433.8h1.25M267.7 380.2h1.25M267.6 414.5h1.25M268.7 411.1h1.25M268.9 400.6h1.25M267.4 376.9h1.25M269.1 350.0h1.25M266.2 375.3h1.25M275.4 411.3h1.25M275.4 377.7h1.25M275.3 380.5h1.25M275.4 391.2h1.25M275.2 384.2h1.25M275.2 379.0h1.25M275.5 388.1h1.25M283.7 413.5h1.25M283.5 373.7h1.25M283.8 419.2h1.25M283.9 424.3h1.25M283.4 387.0h1.25M283.9 397.4h1.25M283.9 387.3h1.25M284.0 381.4h1.25M283.6 417.4h1.25M283.9 394.2h1.25M283.7 377.1h1.25M283.4 407.7h1.25M284.0 433.7h1.25M283.4 399.3h1.25M283.6 375.2h1.25M283.8 398.5h1.25M284.0 367.5h1.25M283.5 366.9h1.25M283.5 415.6h1.25M283.7 457.5h1.25M283.8 398.6h1.25M283.7 389.2h1.25M283.9 412.5h1.25M284.0 396.5h1.25M283.7 423.9h1.25M283.4 406.8h1.25M283.9 392.0h1.25M283.6 422.8h1.25M283.5 398.7h1.25M284.0 430.9h1.25M283.9 391.4h1.25M283.6 434.1h1.25M283.5 449.9h1.25M283.6 383.2h1.25M283.9 365.5h1.25M283.7 387.5h1.25M283.6 405.8h1.25M283.9 397.1h1.25M283.9 408.8h1.25M283.4 417.1h1.25M283.6 385.5h1.25M283.4 384.9h1.25M283.6 389.1h1.25M283.5 378.5h1.25M284.0 350.6h1.25M284.0 357.8h1.25M284.0 418.4h1.25M284.0 408.5h1.25M294.0 391.6h1.25M293.9 398.6h1.25M294.1 403.7h1.25M293.7 426.6h1.25M294.1 379.9h1.25M294.0 429.9h1.25M294.2 403.7h1.25M306.1 422.4h1.25M305.3 395.0h1.25M302.8 347.4h1.25M305.0 389.0h1.25M302.9 443.1h1.25M306.6 403.5h1.25M302.5 405.2h1.25M302.7 426.7h1.25M302.9 387.4h1.25M306.6 388.6h1.25M305.2 433.8h1.25M305.4 421.5h1.25M306.6 368.5h1.25M304.8 420.7h1.25M306.2 360.9h1.25M303.5 350.3h1.25M306.2 416.1h1.25M305.1 425.2h1.25M306.6 392.0h1.25M304.1 400.8h1.25M302.4 444.7h1.25M305.3 403.5h1.25M304.8 383.1h1.25M304.9 384.8h1.25M303.7 420.1h1.25M305.5 404.4h1.25M306.4 364.5h1.25M304.2 383.2h1.25M302.7 399.3h1.25M306.2 375.3h1.25M302.7 376.8h1.25M303.9 418.7h1.25M302.8 387.4h1.25M306.5 437.4h1.25M305.5 423.7h1.25M304.9 421.2h1.25M303.9 406.7h1.25M303.6 384.9h1.25M303.8 419.8h1.25M304.8 407.2h1.25M302.6 435.8h1.25M304.1 380.3h1.25M302.7 379.6h1.25M302.5 417.3h1.25M304.2 428.6h1.25M306.5 420.0h1.25M306.6 381.8h1.25M304.8 398.9h1.25M302.7 404.1h1.25M302.4 405.4h1.25M305.3 371.2h1.25M305.4 378.0h1.25M306.6 364.6h1.25M303.6 375.0h1.25M306.6 435.5h1.25M302.9 361.4h1.25M304.8 391.8h1.25M304.9 389.5h1.25M302.3 450.9h1.25M302.5 386.0h1.25M304.2 404.4h1.25M302.5 388.6h1.25M302.8 414.2h1.25M305.5 409.7h1.25M306.7 396.0h1.25M303.9 384.1h1.25M306.4 398.2h1.25M304.1 418.2h1.25M305.4 391.1h1.25M306.4 419.4h1.25M304.1 389.0h1.25M302.7 389.4h1.25M304.0 412.5h1.25M302.9 403.6h1.25M302.7 382.4h1.25M305.4 372.3h1.25M305.3 428.0h1.25M302.5 410.7h1.25M306.5 418.4h1.25M302.6 399.6h1.25M305.3 420.9h1.25M306.1 385.8h1.25M304.9 402.8h1.25M302.3 380.1h1.25M304.9 424.4h1.25M303.6 432.2h1.25M304.9 383.8h1.25M305.4 399.1h1.25M303.9 453.0h1.25M304.8 379.8h1.25M305.5 372.2h1.25M304.0 397.2h1.25M305.3 384.0h1.25M306.7 421.0h1.25M305.4 424.9h1.25M306.5 377.5h1.25M306.7 418.0h1.25M305.3 408.4h1.25M304.9 399.4h1.25M302.8 428.3h1.25M306.6 397.6h1.25M305.2 410.9h1.25M302.9 413.2h1.25M303.6 353.3h1.25M305.1 396.9h1.25M302.9 422.7h1.25M302.6 457.5h1.25M305.5 443.7h1.25M305.1 388.4h1.25M305.5 413.6h1.25M306.1 378.3h1.25M302.3 424.2h1.25M305.1 436.8h1.25M305.1 412.4h1.25M302.7 401.8h1.25M305.0 392.6h1.25M304.2 454.0h1.25M302.5 393.7h1.25M302.7 360.8h1.25M302.3 387.4h1.25M311.6 409.2h1.25M312.0 433.5h1.25M311.8 388.5h1.25M310.3 398.9h1.25M310.9 401.3h1.25M312.2 390.6h1.25M310.9 430.3h1.25M310.6 369.4h1.25M310.9 439.3h1.25M311.7 410.6h1.25M310.8 390.1h1.25M310.6 380.1h1.25M311.0 395.3h1.25M311.7 415.0h1.25M312.0 404.4h1.25M310.3 429.0h1.25M312.3 418.2h1.25M312.0 386.1h1.25M310.6 413.9h1.25M312.3 443.7h1.25M312.3 382.7h1.25M310.6 397.9h1.25M311.9 386.3h1.25M311.7 392.4h1.25M310.9 439.0h1.25M310.6 387.0h1.25M311.8 380.5h1.25M312.2 405.9h1.25M310.7 352.2h1.25M310.4 424.6h1.25M310.3 421.2h1.25M321.4 393.3h1.25M317.7 416.3h1.25M318.5 372.2h1.25M322.8 380.1h1.25M325.4 413.8h1.25M317.7 397.2h1.25M321.7 424.9h1.25M323.8 365.9h1.25M321.2 386.0h1.25M318.7 466.1h1.25M317.7 424.5h1.25M317.1 406.7h1.25M324.2 357.3h1.25M317.6 367.2h1.25M319.9 388.8h1.25M323.9 382.8h1.25M318.6 403.7h1.25M325.5 421.0h1.25M325.4 401.6h1.25M319.8 374.4h1.25M322.6 377.2h1.25M322.4 445.8h1.25M319.9 472.3h1.25M317.3 399.4h1.25M324.1 357.2h1.25M323.0 420.0h1.25M321.4 387.9h1.25M324.1 391.7h1.25M325.3 388.5h1.25M322.6 442.3h1.25M321.1 391.0h1.25M323.8 337.2h1.25M321.7 416.6h1.25M323.9 397.9h1.25M321.1 427.0h1.25M317.4 402.3h1.25M321.1 394.6h1.25M318.9 375.4h1.25M318.7 404.3h1.25M319.7 404.4h1.25M321.4 372.1h1.25M321.2 396.4h1.25M325.2 393.7h1.25M320.0 422.8h1.25M321.5 380.1h1.25M317.5 412.5h1.25M324.3 398.6h1.25M321.5 381.4h1.25M325.4 399.6h1.25M324.0 407.1h1.25M317.3 398.9h1.25M317.6 409.2h1.25M322.5 330.4h1.25M317.2 430.0h1.25M322.9 361.5h1.25M319.1 398.7h1.25M318.9 376.3h1.25M320.4 395.3h1.25M321.3 405.4h1.25M324.2 375.2h1.25M319.8 407.6h1.25M317.4 384.7h1.25M321.4 418.2h1.25M321.1 394.6h1.25M317.5 419.6h1.25M321.5 403.6h1.25M321.4 405.5h1.25M317.8 410.9h1.25M324.0 415.3h1.25M325.4 396.3h1.25M317.4 401.7h1.25M324.4 419.4h1.25M322.9 416.6h1.25M325.4 367.3h1.25M325.6 400.1h1.25M320.1 402.6h1.25M324.2 398.5h1.25M317.3 377.4h1.25M321.3 401.7h1.25M318.5 370.9h1.25M322.9 393.5h1.25M325.4 463.0h1.25M321.5 380.5h1.25M317.6 393.2h1.25M325.1 401.5h1.25M324.3 357.7h1.25M325.4 408.6h1.25M323.7 406.9h1.25M317.7 373.7h1.25M322.9 410.2h1.25M324.3 404.6h1.25M321.2 403.6h1.25M321.1 404.1h1.25M317.4 406.7h1.25M321.2 394.7h1.25M319.0 423.0h1.25M321.4 393.3h1.25M319.8 420.3h1.25M320.0 392.2h1.25M319.9 405.5h1.25M318.6 396.5h1.25M320.0 373.0h1.25M325.2 401.9h1.25M322.6 415.8h1.25M325.1 409.8h1.25M322.8 422.8h1.25M318.9 410.6h1.25M324.0 418.7h1.25M320.2 409.9h1.25M325.4 426.5h1.25M338.8 393.9h1.25M338.2 380.4h1.25M338.2 362.2h1.25M338.4 395.4h1.25M338.3 415.3h1.25M338.6 418.2h1.25M338.5 401.6h1.25M346.8 398.5h1.25M345.9 382.2h1.25M346.2 418.9h1.25M349.7 445.4h1.25M348.4 383.8h1.25M349.7 391.4h1.25M350.0 392.7h1.25M345.8 374.3h1.25M347.3 407.9h1.25M346.9 397.4h1.25M347.0 419.9h1.25M346.8 398.7h1.25M346.8 387.9h1.25M348.7 408.8h1.25M345.5 379.2h1.25M349.8 388.6h1.25M349.6 386.8h1.25M348.4 363.3h1.25M349.5 376.3h1.25M346.1 391.6h1.25M349.5 413.5h1.25M347.2 418.3h1.25M349.5 420.3h1.25M348.7 398.4h1.25M348.5 450.2h1.25M347.2 384.3h1.25M349.8 426.4h1.25M347.3 399.9h1.25M346.9 388.3h1.25M347.3 390.0h1.25M348.1 420.7h1.25M346.0 412.2h1.25M346.0 379.5h1.25M347.4 409.7h1.25M348.2 407.7h1.25M346.9 413.0h1.25M349.6 430.8h1.25M349.7 375.7h1.25M349.9 446.9h1.25M349.3 397.9h1.25M346.9 408.4h1.25M348.4 415.4h1.25M348.6 415.5h1.25M347.4 407.4h1.25M348.1 446.4h1.25M345.6 356.6h1.25M345.9 400.2h1.25M349.6 395.2h1.25M349.6 395.7h1.25M346.8 375.0h1.25M347.2 416.1h1.25M349.3 420.8h1.25M348.1 394.3h1.25M345.7 465.2h1.25M347.2 409.5h1.25M347.3 432.2h1.25M346.8 342.3h1.25M349.8 346.1h1.25M348.2 412.9h1.25M347.2 391.0h1.25M346.0 406.0h1.25M346.9 382.4h1.25M346.8 396.3h1.25M346.1 386.4h1.25M349.4 402.7h1.25M346.0 410.5h1.25M349.5 407.8h1.25M345.7 382.1h1.25M346.9 400.5h1.25M349.4 402.0h1.25M346.0 431.8h1.25M348.7 439.0h1.25M349.4 427.2h1.25M345.5 376.3h1.25M348.5 392.8h1.25M348.2 397.1h1.25M349.7 400.2h1.25M347.3 415.1h1.25M347.0 403.6h1.25M347.3 382.0h1.25M345.6 423.7h1.25M348.1 395.1h1.25M349.4 396.5h1.25M348.2 416.5h1.25M345.7 381.7h1.25M347.1 413.1h1.25M348.5 383.9h1.25M347.1 433.3h1.25M347.2 399.4h1.25M345.6 431.9h1.25M346.8 401.2h1.25M349.5 374.7h1.25M349.6 429.0h1.25M350.0 425.0h1.25M348.6 400.6h1.25M348.2 397.1h1.25M348.5 382.1h1.25M347.0 380.9h1.25M346.9 397.6h1.25M345.7 406.8h1.25M348.2 414.5h1.25M348.6 443.6h1.25M348.2 393.3h1.25M350.0 393.9h1.25M345.6 388.7h1.25M347.3 392.3h1.25M347.0 420.6h1.25M345.6 434.7h1.25M348.5 391.7h1.25M347.1 386.6h1.25M347.1 389.2h1.25M347.3 357.9h1.25M347.4 410.6h1.25M348.2 405.3h1.25M345.8 364.5h1.25M348.5 449.1h1.25M348.3 405.5h1.25M347.4 411.9h1.25M349.8 433.6h1.25M347.4 397.8h1.25M348.4 415.5h1.25M346.9 385.7h1.25M354.3 420.1h1.25M354.8 382.8h1.25M354.6 419.3h1.25M354.6 373.6h1.25M354.5 396.1h1.25M354.4 383.6h1.25M354.2 406.7h1.25M354.4 445.3h1.25M354.5 374.3h1.25M354.2 416.6h1.25M354.6 402.8h1.25M354.6 388.8h1.25M354.8 388.7h1.25M354.8 376.5h1.25M354.3 411.4h1.25M354.8 380.4h1.25M354.5 411.1h1.25M354.6 388.2h1.25M354.8 403.8h1.25M354.8 413.8h1.25M354.6 413.4h1.25M354.5 372.7h1.25M354.8 395.9h1.25M354.6 404.6h1.25M354.3 414.6h1.25M354.8 390.5h1.25M354.8 391.6h1.25M354.6 434.0h1.25M354.2 386.4h1.25M354.2 403.7h1.25M360.2 392.5h1.25M370.3 386.0h1.25M366.9 391.8h1.25M368.1 428.7h1.25M360.3 399.1h1.25M363.1 405.3h1.25M367.9 385.2h1.25M371.5 410.0h1.25M360.5 434.1h1.25M367.1 370.9h1.25M369.3 459.7h1.25M361.9 412.9h1.25M368.1 379.5h1.25M358.9 392.4h1.25M360.7 408.9h1.25M361.6 391.8h1.25M365.7 464.1h1.25M362.8 386.2h1.25M365.7 403.4h1.25M359.4 394.1h1.25M359.1 386.4h1.25M370.7 401.9h1.25M361.5 400.0h1.25M364.5 418.5h1.25M367.0 379.9h1.25M363.3 387.5h1.25M368.3 412.4h1.25M360.8 404.7h1.25M365.7 455.9h1.25M359.0 420.2h1.25M370.9 404.7h1.25M365.8 414.1h1.25M360.8 347.4h1.25M373.3 405.9h1.25M361.4 438.6h1.25M366.6 419.5h1.25M360.6 388.1h1.25M361.4 426.0h1.25M358.9 396.9h1.25M361.7 403.2h1.25M363.4 416.5h1.25M361.5 441.0h1.25M365.2 396.0h1.25M359.3 426.4h1.25M363.2 419.8h1.25M361.7 380.2h1.25M371.8 396.2h1.25M360.2 420.9h1.25M368.0 405.0h1.25M371.5 403.9h1.25M365.8 424.9h1.25M364.2 381.0h1.25M373.4 396.6h1.25M366.4 393.0h1.25M363.1 408.6h1.25M373.1 398.4h1.25M370.7 363.8h1.25M372.8 351.9h1.25M362.0 388.6h1.25M359.4 400.6h1.25M370.8 390.4h1.25M370.2 399.1h1.25M365.7 376.2h1.25M359.0 405.7h1.25M372.1 370.2h1.25M364.0 448.5h1.25M367.7 424.0h1.25M359.5 416.4h1.25M369.5 410.7h1.25M373.2 415.3h1.25M372.0 385.2h1.25M372.7 459.4h1.25M371.7 428.9h1.25M363.0 409.3h1.25M373.3 399.3h1.25M367.7 369.9h1.25M364.1 384.4h1.25M363.2 380.8h1.25M364.1 428.6h1.25M370.8 415.7h1.25M370.5 408.5h1.25M360.6 397.0h1.25M364.6 388.6h1.25M360.7 398.9h1.25M371.7 391.4h1.25M360.5 385.8h1.25M367.1 397.1h1.25M360.4 380.4h1.25M363.0 408.5h1.25M360.7 420.0h1.25M367.9 441.0h1.25M373.2 411.9h1.25M363.3 395.1h1.25M371.9 409.5h1.25M360.3 423.6h1.25M373.0 387.5h1.25M364.3 384.0h1.25M359.2 369.5h1.25M359.6 414.0h1.25M365.8 393.1h1.25M366.4 421.8h1.25M368.3 392.1h1.25M366.5 434.6h1.25M361.9 432.1h1.25M369.3 405.5h1.25M366.9 383.5h1.25M372.8 436.3h1.25M370.5 377.5h1.25M362.9 388.3h1.25M367.7 415.1h1.25M369.5 409.9h1.25M369.3 389.6h1.25M366.7 390.2h1.25M360.2 406.4h1.25M363.2 379.7h1.25M360.4 378.8h1.25M359.4 389.9h1.25M372.2 390.8h1.25M373.2 382.1h1.25M373.2 432.5h1.25M367.9 407.0h1.25M364.0 412.6h1.25M373.1 418.4h1.25M367.0 372.7h1.25M368.0 437.2h1.25M359.3 446.4h1.25M372.0 401.9h1.25M368.1 411.2h1.25M359.2 389.6h1.25M373.4 416.7h1.25M361.6 422.3h1.25M367.8 435.7h1.25M372.1 422.1h1.25M370.5 408.2h1.25M366.7 382.9h1.25M366.5 396.7h1.25M369.3 409.2h1.25M371.8 428.0h1.25M359.2 407.7h1.25M363.1 433.3h1.25M359.1 416.9h1.25M359.1 420.1h1.25M361.6 376.4h1.25M364.4 383.2h1.25M364.5 389.4h1.25M372.0 398.3h1.25M365.5 374.1h1.25M365.2 420.3h1.25M361.5 389.3h1.25M370.9 407.3h1.25M359.0 430.1h1.25M359.1 395.0h1.25M366.6 429.6h1.25M359.0 410.1h1.25M373.3 450.8h1.25M370.7 427.5h1.25M369.4 388.9h1.25M372.1 404.8h1.25M369.5 396.8h1.25M363.3 421.5h1.25M370.8 426.5h1.25M362.0 408.6h1.25M369.1 401.8h1.25M370.8 409.8h1.25M369.5 387.7h1.25M370.9 376.6h1.25M373.0 411.5h1.25M360.5 439.0h1.25M366.6 404.0h1.25M360.6 416.5h1.25M359.5 401.1h1.25M362.7 421.3h1.25M362.0 405.1h1.25M361.5 397.5h1.25M372.1 403.6h1.25M364.1 401.3h1.25M360.3 389.3h1.25M373.0 406.2h1.25M371.6 414.9h1.25M360.8 431.0h1.25M366.9 410.2h1.25M372.8 410.7h1.25M371.9 405.4h1.25M366.7 397.5h1.25M370.7 418.1h1.25M364.0 392.0h1.25M372.1 380.2h1.25M373.3 433.2h1.25M362.1 415.2h1.25M369.5 362.0h1.25M363.9 424.1h1.25M366.7 412.9h1.25M369.5 414.3h1.25M362.8 415.0h1.25M370.4 424.5h1.25M369.1 430.5h1.25M367.8 453.7h1.25M371.7 425.0h1.25M365.8 418.0h1.25M363.2 420.7h1.25M368.0 373.1h1.25M367.0 433.7h1.25M365.2 449.4h1.25M369.0 342.3h1.25M359.5 397.4h1.25M364.1 399.6h1.25M372.8 397.6h1.25M362.8 409.2h1.25M365.3 381.0h1.25M366.8 369.4h1.25M364.0 366.5h1.25M370.3 426.8h1.25M371.6 412.6h1.25M370.6 423.9h1.25M364.2 400.5h1.25M365.7 426.0h1.25M369.0 397.7h1.25M361.7 392.6h1.25M364.0 422.7h1.25M365.8 411.8h1.25M361.6 392.5h1.25M365.5 399.5h1.25M367.9 408.2h1.25M369.3 363.6h1.25M365.5 373.8h1.25M370.6 403.8h1.25M371.7 403.6h1.25M372.0 445.2h1.25M368.1 398.1h1.25M370.2 374.5h1.25M371.5 403.1h1.25M365.7 397.4h1.25M361.7 374.8h1.25M362.0 375.4h1.25M373.3 424.7h1.25M369.3 421.6h1.25M360.2 389.9h1.25M361.8 402.3h1.25M365.4 412.7h1.25M368.1 405.7h1.25M372.1 409.3h1.25M365.4 414.2h1.25M368.3 416.4h1.25M365.8 407.9h1.25M370.3 392.4h1.25M359.3 367.7h1.25M359.1 423.3h1.25M370.6 402.7h1.25M370.8 377.6h1.25M360.8 393.3h1.25M368.0 415.4h1.25M363.0 424.4h1.25M366.7 404.8h1.25M360.6 431.4h1.25M366.5 407.2h1.25M366.9 430.5h1.25M367.9 415.2h1.25M371.9 379.6h1.25M365.7 380.5h1.25M372.8 392.0h1.25M373.0 412.2h1.25M370.2 421.0h1.25M362.9 439.9h1.25M372.0 391.6h1.25M367.1 388.9h1.25M359.0 437.5h1.25M369.1 427.9h1.25M361.8 373.4h1.25M368.3 403.9h1.25M368.1 407.0h1.25M373.4 386.8h1.25M370.5 421.6h1.25M369.2 427.6h1.25M366.7 383.1h1.25M369.6 357.3h1.25M365.4 388.5h1.25M362.9 389.6h1.25M360.8 395.0h1.25M368.3 379.0h1.25M363.3 412.9h1.25M363.3 430.0h1.25M369.2 429.6h1.25M362.8 376.9h1.25M364.0 411.1h1.25M365.3 365.7h1.25M364.1 389.5h1.25M360.8 419.5h1.25M359.3 398.5h1.25M362.8 386.9h1.25M369.5 400.5h1.25M360.7 426.5h1.25M369.5 390.3h1.25M367.1 401.9h1.25M373.4 390.4h1.25M365.5 397.8h1.25M361.4 389.3h1.25M360.6 353.9h1.25M367.7 386.3h1.25M367.9 398.4h1.25M362.0 373.2h1.25M370.4 435.4h1.25M368.0 385.7h1.25M359.5 422.5h1.25M370.7 358.8h1.25M371.7 386.3h1.25M371.6 402.9h1.25M369.4 403.8h1.25M373.0 380.9h1.25M359.1 410.5h1.25M364.3 414.5h1.25M366.5 438.8h1.25M360.5 427.9h1.25M363.3 390.5h1.25M372.0 417.6h1.25M364.4 395.6h1.25M361.8 405.6h1.25M365.6 359.2h1.25M366.4 391.2h1.25M363.2 425.5h1.25M367.0 405.1h1.25M368.1 437.9h1.25M364.0 380.3h1.25M364.5 395.2h1.25M364.2 430.0h1.25M369.4 419.5h1.25M367.9 418.6h1.25M373.0 429.2h1.25M368.2 388.5h1.25M366.7 408.4h1.25M365.8 394.8h1.25M373.1 412.9h1.25M360.5 361.4h1.25M370.5 409.7h1.25M372.1 430.9h1.25M366.6 412.2h1.25M369.1 389.7h1.25M363.9 399.3h1.25M365.4 398.7h1.25M363.2 414.4h1.25M373.0 410.8h1.25M365.3 370.2h1.25M359.1 436.2h1.25M364.0 386.5h1.25M363.0 444.2h1.25M362.9 417.9h1.25M364.3 399.4h1.25M373.1 392.3h1.25M371.8 390.8h1.25M366.8 391.5h1.25M366.6 408.0h1.25M359.3 383.8h1.25M370.3 383.5h1.25M369.6 366.3h1.25M365.4 433.5h1.25M369.3 389.6h1.25M359.4 406.1h1.25M370.2 397.9h1.25M365.3 407.0h1.25M367.0 388.7h1.25M359.4 413.9h1.25M362.9 380.9h1.25M368.2 399.0h1.25M376.9 418.8h1.25M376.8 401.3h1.25M377.2 408.7h1.25M377.2 386.8h1.25M377.2 371.4h1.25M376.9 400.4h1.25M377.1 409.2h1.25M376.8 421.1h1.25M377.3 387.3h1.25M377.2 380.6h1.25M376.9 415.8h1.25M377.1 421.6h1.25M377.0 412.0h1.25M377.1 400.7h1.25M377.0 407.4h1.25M377.1 408.1h1.25M377.0 414.1h1.25M376.9 398.6h1.25M377.3 405.7h1.25M377.1 424.8h1.25M377.1 410.7h1.25M376.9 364.1h1.25M376.8 463.6h1.25M376.7 410.4h1.25M376.7 406.4h1.25M376.9 394.9h1.25M376.8 380.4h1.25M377.3 395.2h1.25M376.9 438.6h1.25M377.3 405.7h1.25M388.2 413.7h1.25M388.2 374.2h1.25M387.9 402.5h1.25M387.2 363.3h1.25M390.8 414.8h1.25M388.3 387.2h1.25M389.5 375.2h1.25M387.0 415.9h1.25M389.4 415.2h1.25M390.4 450.6h1.25M387.1 409.4h1.25M387.2 394.9h1.25M390.8 401.0h1.25M387.1 400.3h1.25M386.7 391.8h1.25M388.3 396.3h1.25M389.5 396.0h1.25M388.1 338.6h1.25M389.5 402.8h1.25M387.2 445.5h1.25M388.5 425.3h1.25M389.7 427.7h1.25M390.7 393.8h1.25M388.3 407.4h1.25M386.7 419.2h1.25M390.9 413.8h1.25M390.8 405.8h1.25M390.7 386.5h1.25M387.0 416.4h1.25M388.4 387.5h1.25M389.6 458.3h1.25M386.6 418.7h1.25M388.0 410.3h1.25M391.0 373.7h1.25M386.6 402.7h1.25M389.5 394.8h1.25M386.7 403.1h1.25M389.7 409.1h1.25M388.5 408.7h1.25M387.9 416.9h1.25M388.1 411.0h1.25M386.8 419.7h1.25M386.7 384.7h1.25M389.5 397.1h1.25M390.6 408.5h1.25M389.1 406.2h1.25M389.3 439.6h1.25M387.8 378.9h1.25M386.9 421.8h1.25M387.1 378.1h1.25M390.5 396.6h1.25M390.9 394.9h1.25M389.5 417.2h1.25M386.8 410.6h1.25M390.6 411.5h1.25M386.9 399.3h1.25M390.8 406.1h1.25M389.3 387.7h1.25M388.0 408.3h1.25M387.0 418.5h1.25M396.6 416.4h1.25M396.4 411.6h1.25M396.6 405.0h1.25M396.3 394.1h1.25M396.5 461.0h1.25M396.7 391.4h1.25M396.6 397.7h1.25M396.4 413.0h1.25M396.3 370.3h1.25M396.8 447.7h1.25M396.3 430.0h1.25M396.4 423.8h1.25M396.5 407.9h1.25M396.6 345.1h1.25M396.4 394.4h1.25M396.4 424.5h1.25M396.7 374.6h1.25M396.6 389.3h1.25M396.6 378.2h1.25M396.8 408.1h1.25M396.7 415.8h1.25M396.8 401.6h1.25M396.4 418.7h1.25M396.6 377.6h1.25M396.5 387.9h1.25M396.8 379.4h1.25M396.4 361.3h1.25M396.3 415.3h1.25M396.7 380.5h1.25M396.5 447.6h1.25M397.2 373.7h1.25M399.6 400.4h1.25M397.2 434.2h1.25M399.7 413.0h1.25M398.9 413.8h1.25M398.9 422.1h1.25M397.1 398.2h1.25M397.5 393.2h1.25M398.6 401.2h1.25M397.2 371.4h1.25M401.3 381.7h1.25M397.2 415.7h1.25M398.6 428.7h1.25M399.8 407.8h1.25M399.8 374.1h1.25M399.5 377.2h1.25M397.5 382.7h1.25M398.8 424.4h1.25M400.8 421.8h1.25M397.0 411.0h1.25M397.1 402.0h1.25M398.5 396.8h1.25M397.6 432.4h1.25M399.9 404.6h1.25M397.6 396.7h1.25M400.9 410.2h1.25M397.4 434.4h1.25M400.0 403.1h1.25M397.5 386.6h1.25M398.3 390.5h1.25M401.0 414.8h1.25M400.0 379.6h1.25M398.3 375.9h1.25M398.6 397.4h1.25M401.2 422.3h1.25M401.4 385.6h1.25M400.7 385.0h1.25M400.8 383.2h1.25M401.0 417.1h1.25M398.7 391.8h1.25M398.5 420.1h1.25M398.4 383.8h1.25M397.0 408.4h1.25M397.4 400.9h1.25M401.2 383.4h1.25M401.0 383.8h1.25M397.0 362.8h1.25M401.0 397.0h1.25M401.2 366.9h1.25M398.9 380.6h1.25M397.2 418.5h1.25M401.0 384.4h1.25M397.6 407.2h1.25M400.1 414.8h1.25M398.3 420.9h1.25M397.0 376.2h1.25M397.0 384.9h1.25M401.0 365.8h1.25M397.6 395.2h1.25M397.0 411.1h1.25M417.6 406.7h1.25M417.2 411.0h1.25M417.2 404.8h1.25M417.7 392.9h1.25M417.4 374.6h1.25M417.8 392.8h1.25M417.4 406.4h1.25M417.7 425.9h1.25M417.6 385.8h1.25M417.7 419.6h1.25M417.7 401.7h1.25M417.2 397.8h1.25M417.4 358.6h1.25M417.8 407.8h1.25M417.6 412.3h1.25M417.7 416.7h1.25M417.3 355.3h1.25M417.6 388.8h1.25M417.7 389.3h1.25M417.3 430.4h1.25M417.3 370.7h1.25M417.7 418.4h1.25M417.8 419.6h1.25M417.5 366.9h1.25M417.6 409.8h1.25M417.4 422.8h1.25M417.4 404.5h1.25M417.6 419.1h1.25M417.2 420.9h1.25M417.3 369.4h1.25M426.6 413.6h1.25M430.1 393.1h1.25M430.4 410.5h1.25M427.4 392.9h1.25M426.2 406.1h1.25M424.7 433.7h1.25M427.7 441.7h1.25M426.4 408.9h1.25M425.0 392.3h1.25M427.5 397.7h1.25M429.2 411.6h1.25M429.1 398.2h1.25M429.2 395.4h1.25M427.3 367.1h1.25M427.4 411.9h1.25M430.5 379.0h1.25M429.0 415.8h1.25M425.3 409.3h1.25M430.1 380.1h1.25M429.0 378.1h1.25M426.3 374.3h1.25M428.7 399.4h1.25M426.6 400.5h1.25M426.7 416.7h1.25M427.6 422.6h1.25M430.0 429.9h1.25M425.3 431.8h1.25M427.5 396.5h1.25M427.3 397.1h1.25M426.3 352.1h1.25M429.1 414.1h1.25M430.5 433.4h1.25M430.4 365.9h1.25M426.0 403.2h1.25M426.1 420.7h1.25M428.8 430.3h1.25M430.1 375.5h1.25M425.1 379.9h1.25M426.5 371.9h1.25M424.9 430.9h1.25M427.5 440.1h1.25M429.3 458.8h1.25M424.9 395.5h1.25M426.5 412.2h1.25M424.7 392.3h1.25M424.9 419.7h1.25M430.6 375.2h1.25M427.4 414.5h1.25M427.6 377.2h1.25M428.9 414.5h1.25M426.5 391.1h1.25M427.8 400.8h1.25M430.7 394.7h1.25M427.5 401.9h1.25M428.7 420.1h1.25M428.9 433.1h1.25M430.4 399.6h1.25M429.2 376.2h1.25M430.1 378.0h1.25M425.0 393.9h1.25M428.9 398.2h1.25M427.9 409.5h1.25M430.1 404.4h1.25M426.6 372.9h1.25M427.7 394.4h1.25M424.8 364.2h1.25M427.8 414.7h1.25M427.9 403.9h1.25M429.2 389.2h1.25M429.3 382.6h1.25M427.4 395.1h1.25M430.4 419.2h1.25M426.2 414.1h1.25M430.3 407.2h1.25M426.2 465.8h1.25M430.1 413.8h1.25M426.1 425.3h1.25M430.3 425.2h1.25M428.8 415.0h1.25M427.4 414.9h1.25M428.7 409.9h1.25M425.2 415.3h1.25M425.0 379.1h1.25M426.6 385.7h1.25M430.4 383.3h1.25M426.1 406.6h1.25M428.9 395.6h1.25M430.6 394.3h1.25M426.3 407.3h1.25M428.7 369.8h1.25M430.2 407.8h1.25M424.9 383.0h1.25M426.0 407.3h1.25M424.6 391.6h1.25M430.6 393.4h1.25M430.3 443.3h1.25M425.2 448.5h1.25M429.1 441.4h1.25M428.0 379.3h1.25M426.7 398.6h1.25M427.4 402.5h1.25M425.2 425.3h1.25M427.9 408.0h1.25M430.5 446.2h1.25M426.1 393.5h1.25M430.1 423.8h1.25M429.2 407.5h1.25M430.2 381.2h1.25M424.7 360.0h1.25M424.7 390.3h1.25M429.0 417.6h1.25M428.8 420.5h1.25M430.2 364.4h1.25M425.2 416.2h1.25M426.6 421.4h1.25M426.5 415.5h1.25M426.5 406.3h1.25M429.2 430.6h1.25M430.1 419.8h1.25M424.7 410.6h1.25M430.4 421.5h1.25M427.6 382.2h1.25M426.3 439.3h1.25M427.8 408.9h1.25M428.9 372.8h1.25M428.0 411.0h1.25M429.2 407.0h1.25M426.4 409.5h1.25M425.2 398.9h1.25M427.6 415.5h1.25M424.8 412.7h1.25M430.6 397.0h1.25M428.0 419.1h1.25M428.9 429.6h1.25M428.7 399.5h1.25M427.5 407.9h1.25M430.3 401.4h1.25M428.9 369.7h1.25M424.8 394.2h1.25M428.8 428.7h1.25M430.3 393.1h1.25M429.0 380.5h1.25M427.7 419.3h1.25M427.4 397.2h1.25M427.8 400.5h1.25M424.8 441.8h1.25M425.3 421.7h1.25M424.9 359.2h1.25M427.7 395.3h1.25M427.9 397.6h1.25M430.4 373.4h1.25M430.3 404.0h1.25M427.3 356.5h1.25M427.9 391.9h1.25M426.6 404.1h1.25M429.2 397.0h1.25M427.6 427.8h1.25M425.2 386.7h1.25M426.0 413.2h1.25M427.6 377.0h1.25M429.2 366.0h1.25M440.2 398.4h1.25M438.6 431.2h1.25M441.4 441.5h1.25M440.2 399.8h1.25M443.0 412.7h1.25M439.9 405.4h1.25M442.9 403.2h1.25M442.9 416.2h1.25M441.2 405.3h1.25M440.2 407.8h1.25M441.3 401.8h1.25M439.6 394.7h1.25M442.8 417.7h1.25M439.7 396.1h1.25M438.5 430.7h1.25M441.4 405.4h1.25M440.1 344.4h1.25M438.5 398.4h1.25M443.2 408.7h1.25M442.9 392.9h1.25M440.2 401.1h1.25M438.3 388.5h1.25M442.5 436.9h1.25M438.5 401.3h1.25M443.0 401.2h1.25M442.8 447.4h1.25M439.7 427.9h1.25M441.2 411.9h1.25M442.8 374.5h1.25M442.9 433.6h1.25M441.3 398.5h1.25M442.8 373.4h1.25M441.3 388.7h1.25M442.8 421.2h1.25M438.6 383.6h1.25M441.3 396.7h1.25M442.9 399.6h1.25M443.0 403.8h1.25M442.9 393.8h1.25M443.1 344.1h1.25M438.1 426.3h1.25M439.9 383.6h1.25M439.9 418.6h1.25M441.4 402.1h1.25M439.9 401.9h1.25M439.6 378.4h1.25M438.3 423.2h1.25M441.6 362.3h1.25M442.9 359.9h1.25M438.1 444.0h1.25M440.2 399.9h1.25M441.7 424.9h1.25M440.2 369.9h1.25M438.1 378.2h1.25M439.7 397.0h1.25M441.5 373.7h1.25M443.0 385.2h1.25M441.3 420.3h1.25M443.1 415.1h1.25M442.5 397.9h1.25M442.9 410.3h1.25M440.0 395.2h1.25M438.3 403.7h1.25M438.4 419.5h1.25M442.6 381.9h1.25M441.4 395.1h1.25M440.2 398.7h1.25M438.2 409.1h1.25M443.0 410.0h1.25M439.9 416.8h1.25M439.9 405.0h1.25M438.6 414.6h1.25M438.6 382.4h1.25M443.0 408.8h1.25M441.6 427.2h1.25M438.2 402.0h1.25M441.2 435.4h1.25M442.5 414.8h1.25M439.9 446.8h1.25M443.0 397.1h1.25M441.0 360.7h1.25M441.6 396.0h1.25M438.6 380.2h1.25M441.4 399.9h1.25M441.7 374.0h1.25M441.4 370.6h1.25M438.5 398.9h1.25M439.8 407.1h1.25M441.0 382.6h1.25M442.6 408.0h1.25M440.0 398.3h1.25M438.7 416.3h1.25M438.4 412.5h1.25M442.9 390.3h1.25M440.0 437.7h1.25M438.2 398.4h1.25M441.5 377.2h1.25M442.5 403.5h1.25M441.4 376.9h1.25M440.1 391.5h1.25M439.8 406.1h1.25M442.7 405.7h1.25M438.5 376.8h1.25M442.9 444.9h1.25M443.1 383.8h1.25M439.7 404.2h1.25M438.6 398.0h1.25M441.1 379.2h1.25M441.0 375.8h1.25M438.4 403.1h1.25M438.2 409.2h1.25M441.2 398.0h1.25M438.2 408.8h1.25M441.5 394.3h1.25M438.1 376.5h1.25M439.6 387.8h1.25M439.7 384.3h1.25M443.1 366.4h1.25M438.7 399.7h1.25M441.5 415.5h1.25M440.0 388.0h1.25M438.2 445.6h1.25M439.9 408.0h1.25M442.6 413.9h1.25M442.8 393.0h1.25M438.1 407.2h1.25M440.2 389.1h1.25M439.9 401.8h1.25M438.7 429.1h1.25M440.2 417.0h1.25M441.6 378.7h1.25M439.7 409.3h1.25M438.5 382.5h1.25M443.2 417.3h1.25M440.0 407.4h1.25M443.1 418.3h1.25M439.9 387.6h1.25M440.1 401.2h1.25M439.7 396.7h1.25M438.7 392.5h1.25M438.2 409.7h1.25M442.6 419.6h1.25M474.0 368.2h1.25M478.1 405.4h1.25M451.1 430.9h1.25M481.4 397.3h1.25M477.0 408.6h1.25M452.1 401.0h1.25M467.9 383.1h1.25M476.6 399.2h1.25M459.5 416.8h1.25M468.0 384.4h1.25M479.2 385.4h1.25M482.9 374.1h1.25M478.9 429.6h1.25M448.2 422.6h1.25M468.3 415.2h1.25M455.5 454.5h1.25M468.1 361.7h1.25M481.6 407.2h1.25M472.1 391.4h1.25M471.4 412.4h1.25M464.3 383.3h1.25M461.8 362.0h1.25M478.9 404.5h1.25M483.0 390.0h1.25M456.1 393.7h1.25M458.3 425.5h1.25M459.2 439.4h1.25M462.1 400.6h1.25M450.6 467.7h1.25M454.7 407.1h1.25M451.1 384.4h1.25M480.5 397.6h1.25M466.7 401.1h1.25M460.5 396.5h1.25M460.6 397.0h1.25M455.9 396.5h1.25M450.6 438.1h1.25M455.5 378.7h1.25M449.6 411.1h1.25M448.5 435.6h1.25M473.1 382.2h1.25M468.0 399.7h1.25M455.8 402.6h1.25M458.3 395.8h1.25M460.5 384.7h1.25M474.4 432.6h1.25M452.4 397.7h1.25M466.6 406.3h1.25M463.0 381.9h1.25M474.2 417.6h1.25M455.9 343.0h1.25M465.4 391.7h1.25M472.0 391.6h1.25M448.5 388.4h1.25M449.7 408.6h1.25M475.3 391.3h1.25M466.8 389.9h1.25M458.1 387.0h1.25M480.5 394.0h1.25M479.2 394.3h1.25M475.3 383.6h1.25M480.4 403.7h1.25M450.6 391.1h1.25M449.6 403.8h1.25M462.1 405.3h1.25M473.9 404.7h1.25M449.8 342.2h1.25M471.7 394.5h1.25M480.5 385.5h1.25M467.1 434.2h1.25M478.9 395.4h1.25M475.2 338.6h1.25M480.1 388.4h1.25M450.7 415.3h1.25M448.3 395.8h1.25M470.3 441.6h1.25M480.7 398.8h1.25M452.1 415.8h1.25M467.1 387.2h1.25M457.2 368.7h1.25M466.5 397.2h1.25M448.2 375.6h1.25M455.6 402.5h1.25M477.8 444.4h1.25M478.8 427.2h1.25M450.9 399.1h1.25M459.2 412.7h1.25M471.7 367.6h1.25M480.0 498.0h1.25M449.5 394.1h1.25M462.2 392.0h1.25M448.3 448.0h1.25M477.9 375.4h1.25M481.5 411.5h1.25M477.7 388.7h1.25M476.5 413.5h1.25M468.3 392.9h1.25M474.0 387.9h1.25M480.6 393.5h1.25M470.2 431.9h1.25M465.7 375.0h1.25M482.9 390.4h1.25M479.1 409.2h1.25M449.9 433.3h1.25M451.0 395.7h1.25M449.6 382.3h1.25M455.7 390.7h1.25M457.3 407.6h1.25M449.8 408.4h1.25M474.5 422.5h1.25M457.1 402.0h1.25M471.4 407.9h1.25M451.0 421.3h1.25M448.3 388.7h1.25M481.9 404.9h1.25M464.4 419.7h1.25M463.4 398.4h1.25M469.1 417.2h1.25M472.7 388.2h1.25M473.2 396.7h1.25M475.2 377.9h1.25M475.6 390.3h1.25M480.0 365.4h1.25M480.6 434.1h1.25M456.7 374.4h1.25M461.0 395.5h1.25M455.7 394.0h1.25M477.8 388.9h1.25M456.9 413.9h1.25M475.7 442.5h1.25M475.1 411.4h1.25M471.6 436.4h1.25M480.5 363.6h1.25M470.4 413.6h1.25M470.9 375.9h1.25M470.7 401.1h1.25M465.9 407.8h1.25M462.2 475.1h1.25M476.5 395.1h1.25M459.3 413.0h1.25M469.0 423.2h1.25M448.4 406.9h1.25M469.2 428.3h1.25M476.3 414.0h1.25M472.9 385.1h1.25M472.8 389.9h1.25M462.9 375.7h1.25M470.3 411.8h1.25M471.7 403.3h1.25M476.8 398.4h1.25M478.2 411.2h1.25M477.6 436.2h1.25M459.6 406.2h1.25M459.5 405.4h1.25M479.0 429.8h1.25M467.1 394.0h1.25M448.1 388.1h1.25M461.0 407.4h1.25M456.0 388.9h1.25M459.7 347.1h1.25M475.3 380.5h1.25M459.5 414.6h1.25M457.1 403.8h1.25M476.6 387.7h1.25M466.7 359.1h1.25M470.5 450.8h1.25M464.5 404.8h1.25M473.1 397.9h1.25M448.3 411.6h1.25M471.6 448.1h1.25M476.7 397.6h1.25M454.6 390.1h1.25M461.9 407.6h1.25M483.1 404.7h1.25M478.8 419.5h1.25M461.0 401.4h1.25M480.6 397.0h1.25M482.7 411.4h1.25M453.2 391.3h1.25M467.9 393.2h1.25M460.4 408.1h1.25M482.7 434.7h1.25M455.8 386.1h1.25M480.7 389.6h1.25M465.7 392.0h1.25M454.4 427.2h1.25M459.7 454.1h1.25M481.4 453.5h1.25M448.6 427.5h1.25M462.8 329.2h1.25M463.2 423.2h1.25M478.8 417.2h1.25M463.1 394.6h1.25M473.3 431.1h1.25M480.1 382.1h1.25M449.8 442.4h1.25M475.5 414.1h1.25M458.5 398.5h1.25M481.7 351.5h1.25M468.0 417.5h1.25M465.8 433.9h1.25M463.0 420.1h1.25M448.4 403.1h1.25M472.9 386.6h1.25M462.2 409.7h1.25M458.2 430.4h1.25M480.1 442.7h1.25M448.6 418.4h1.25M457.1 425.6h1.25M476.4 424.8h1.25M448.7 418.3h1.25M456.9 405.3h1.25M449.8 420.0h1.25M452.4 407.0h1.25M469.5 396.0h1.25M448.1 420.2h1.25M479.1 404.7h1.25M455.9 415.0h1.25M453.1 407.4h1.25M467.1 389.9h1.25M455.8 390.3h1.25M471.9 436.6h1.25M450.7 431.9h1.25M469.6 397.0h1.25M479.1 405.0h1.25M477.6 432.4h1.25M458.4 434.9h1.25M452.0 393.5h1.25M469.0 400.1h1.25M460.6 404.0h1.25M463.4 413.0h1.25M448.2 434.2h1.25M475.4 408.0h1.25M481.4 390.0h1.25M453.2 387.9h1.25M477.7 363.7h1.25M466.6 423.8h1.25M449.7 423.0h1.25M470.5 408.4h1.25M448.6 395.2h1.25M481.4 377.2h1.25M472.9 416.6h1.25M450.0 389.0h1.25M463.1 414.5h1.25M470.8 416.0h1.25M464.5 366.7h1.25M455.5 395.4h1.25M470.7 395.5h1.25M474.0 404.5h1.25M480.4 380.0h1.25M478.9 392.6h1.25M450.0 382.3h1.25M472.8 399.8h1.25M454.4 413.5h1.25M482.6 408.5h1.25M462.2 398.3h1.25M451.0 401.8h1.25M465.3 408.8h1.25M473.3 412.7h1.25M479.3 414.1h1.25M449.3 423.6h1.25M468.2 389.2h1.25M477.9 386.1h1.25M470.2 422.6h1.25M449.5 416.9h1.25M448.6 461.8h1.25M482.5 397.5h1.25M472.7 400.8h1.25M450.7 409.7h1.25M483.1 446.2h1.25M476.4 410.5h1.25M448.7 405.6h1.25M469.1 398.7h1.25M451.1 409.1h1.25M460.6 461.9h1.25M454.6 396.9h1.25M465.4 422.3h1.25M457.2 415.2h1.25M449.7 384.7h1.25M451.1 392.8h1.25M475.7 376.8h1.25M464.0 405.6h1.25M454.3 424.2h1.25M448.6 374.1h1.25M461.6 406.2h1.25M461.7 372.4h1.25M473.9 404.1h1.25M477.6 420.2h1.25M464.2 355.9h1.25M476.3 406.1h1.25M463.2 405.7h1.25M478.9 442.4h1.25M457.2 384.2h1.25M473.9 435.7h1.25M454.4 416.7h1.25M453.3 423.5h1.25M469.4 406.6h1.25M470.5 395.4h1.25M483.1 402.7h1.25M460.8 398.9h1.25M449.6 379.1h1.25M470.5 392.1h1.25M477.9 342.1h1.25M472.9 396.6h1.25M456.8 394.0h1.25M460.8 414.4h1.25M476.5 409.4h1.25M470.4 425.5h1.25M481.7 411.4h1.25M463.2 370.9h1.25M481.5 406.8h1.25M463.0 323.4h1.25M476.3 393.6h1.25M477.8 382.1h1.25M464.2 432.4h1.25M482.6 389.1h1.25M476.7 446.8h1.25M479.2 434.2h1.25M482.7 431.0h1.25M467.1 383.5h1.25M451.9 415.1h1.25M478.1 386.2h1.25M461.0 407.4h1.25M481.6 449.9h1.25M454.7 414.9h1.25M480.5 379.9h1.25M452.3 400.8h1.25M481.4 403.4h1.25M463.1 392.9h1.25M467.0 400.0h1.25M467.9 421.0h1.25M458.5 397.1h1.25M475.1 397.5h1.25M454.8 400.4h1.25M460.4 380.3h1.25M473.0 396.6h1.25M448.4 396.5h1.25M471.8 415.2h1.25M455.5 438.0h1.25M471.5 407.8h1.25M482.6 403.4h1.25M474.1 440.5h1.25M474.2 416.8h1.25M458.4 426.5h1.25M481.3 393.7h1.25M449.6 409.8h1.25M449.9 411.9h1.25M458.5 373.1h1.25M481.5 413.5h1.25M462.0 427.3h1.25M480.4 407.0h1.25M479.2 419.7h1.25M479.4 378.4h1.25M465.8 386.0h1.25M475.7 374.5h1.25M469.6 392.4h1.25M482.6 429.9h1.25M454.8 429.6h1.25M470.6 407.3h1.25M460.4 416.0h1.25M460.4 414.6h1.25M474.0 419.2h1.25M462.0 410.6h1.25M464.7 418.7h1.25M469.2 442.4h1.25M480.5 399.8h1.25M473.1 410.4h1.25M461.6 420.6h1.25M470.2 428.8h1.25M449.4 394.0h1.25M454.3 396.3h1.25M469.0 400.1h1.25M454.4 419.1h1.25M475.7 370.6h1.25M463.1 382.8h1.25M470.7 404.6h1.25M458.3 435.5h1.25M477.5 447.1h1.25M477.6 405.1h1.25M453.4 419.7h1.25M466.7 414.0h1.25M469.4 356.2h1.25M475.4 395.8h1.25M470.5 408.6h1.25M462.1 380.6h1.25M468.0 392.8h1.25M451.1 420.5h1.25M472.7 377.7h1.25M458.2 395.5h1.25M480.6 406.4h1.25M483.1 374.2h1.25M467.1 419.1h1.25M466.8 428.2h1.25M464.1 405.4h1.25M448.4 420.7h1.25M481.7 435.9h1.25M449.3 415.9h1.25M459.3 410.8h1.25M474.4 381.6h1.25M474.4 391.4h1.25M482.8 412.8h1.25M478.2 424.7h1.25M452.1 395.0h1.25M476.5 410.1h1.25M458.2 405.4h1.25M451.8 420.6h1.25M452.2 435.7h1.25M449.6 389.6h1.25M460.4 413.2h1.25M469.5 431.9h1.25M463.0 406.5h1.25M463.2 371.1h1.25M458.5 426.7h1.25M482.8 387.3h1.25M480.7 365.2h1.25M473.2 384.6h1.25M466.6 378.9h1.25M453.2 413.9h1.25M469.2 411.3h1.25M470.5 406.3h1.25M475.2 425.9h1.25M453.5 372.0h1.25M470.5 385.5h1.25M481.8 419.3h1.25M449.5 374.2h1.25M462.2 421.6h1.25M478.0 431.0h1.25M472.7 417.2h1.25M471.5 409.6h1.25M455.6 393.0h1.25M466.6 401.5h1.25M460.7 395.2h1.25M463.5 394.6h1.25M479.2 374.4h1.25M472.9 429.0h1.25M469.0 423.6h1.25M453.3 379.1h1.25M473.0 368.1h1.25M453.3 391.4h1.25M475.4 408.2h1.25M453.6 403.4h1.25M456.9 449.0h1.25M461.9 429.7h1.25M453.4 417.8h1.25M469.5 409.3h1.25M458.2 383.3h1.25M466.9 409.7h1.25M459.2 405.9h1.25M449.8 382.8h1.25M477.6 369.1h1.25M451.2 400.8h1.25M453.4 404.0h1.25M461.0 414.7h1.25M450.9 402.9h1.25M480.3 385.3h1.25M465.5 375.8h1.25M473.0 409.4h1.25M457.0 404.3h1.25M454.9 444.7h1.25M450.8 406.6h1.25M451.8 383.3h1.25M459.7 405.8h1.25M476.7 417.6h1.25M469.0 416.9h1.25M481.6 475.7h1.25M483.0 396.1h1.25M458.5 422.5h1.25M464.3 401.3h1.25M451.0 410.4h1.25M465.3 423.8h1.25M470.7 411.7h1.25M451.2 372.3h1.25M477.9 417.2h1.25M470.9 376.1h1.25M459.3 392.2h1.25M469.1 391.5h1.25M464.1 413.7h1.25M483.0 374.6h1.25M475.2 407.4h1.25M467.1 413.2h1.25M453.4 407.3h1.25M476.6 429.9h1.25M474.0 367.9h1.25M451.1 363.9h1.25M462.0 453.7h1.25M468.9 409.8h1.25M449.4 365.2h1.25M480.1 403.6h1.25M462.8 377.2h1.25M474.5 388.0h1.25M478.8 433.9h1.25M473.1 396.4h1.25M453.5 380.1h1.25M470.6 365.9h1.25M455.5 387.7h1.25M460.7 409.2h1.25M459.1 392.4h1.25M478.9 437.3h1.25M460.6 377.1h1.25M474.4 418.5h1.25M470.2 376.6h1.25M463.1 421.4h1.25M482.5 395.7h1.25M475.3 382.1h1.25M451.1 386.8h1.25M449.4 396.7h1.25M468.1 358.0h1.25M477.7 403.1h1.25M466.8 411.8h1.25M465.9 424.0h1.25M461.8 407.8h1.25M453.6 401.6h1.25M454.5 372.2h1.25M454.5 402.3h1.25M453.2 410.8h1.25M450.8 413.0h1.25M480.2 384.9h1.25M460.9 443.6h1.25M475.5 464.4h1.25M460.9 389.6h1.25M455.5 399.6h1.25M478.8 440.5h1.25M456.1 412.5h1.25M449.7 393.3h1.25M478.2 396.0h1.25M466.9 440.3h1.25M462.1 344.7h1.25M457.3 391.6h1.25M476.6 401.6h1.25M474.4 430.0h1.25M452.3 387.0h1.25M478.2 362.9h1.25M451.1 416.9h1.25M454.3 361.5h1.25M482.7 397.2h1.25M449.7 399.9h1.25M462.1 398.4h1.25M468.9 393.1h1.25M478.8 449.4h1.25M457.2 366.6h1.25M464.3 372.1h1.25M469.6 390.9h1.25M455.6 396.2h1.25M452.2 384.4h1.25M471.7 388.4h1.25M481.9 405.1h1.25M462.8 410.7h1.25M458.1 407.6h1.25M450.9 415.2h1.25M460.8 387.9h1.25M482.6 420.0h1.25M469.1 389.5h1.25M468.4 380.5h1.25M476.4 410.0h1.25M459.7 383.5h1.25M466.6 434.3h1.25M479.4 402.6h1.25M473.0 386.2h1.25M477.6 368.4h1.25M469.2 423.2h1.25M460.8 400.5h1.25M481.8 385.7h1.25M468.0 358.6h1.25M457.3 416.6h1.25M467.1 389.2h1.25M460.6 425.9h1.25M450.0 407.5h1.25M462.0 385.8h1.25M458.1 422.0h1.25M459.2 353.1h1.25M458.6 381.3h1.25M456.9 423.7h1.25M481.5 441.7h1.25M454.6 374.0h1.25M453.2 402.9h1.25M475.5 395.4h1.25M452.1 424.1h1.25M461.6 348.6h1.25M456.8 371.8h1.25M461.9 415.0h1.25M471.4 406.3h1.25M454.7 412.0h1.25M454.5 421.7h1.25M474.3 446.2h1.25M459.7 381.4h1.25M459.2 381.0h1.25M454.7 376.8h1.25M468.9 429.6h1.25M474.2 407.8h1.25M451.2 428.8h1.25M482.8 411.5h1.25M465.4 416.5h1.25M460.4 358.6h1.25M457.1 383.1h1.25M459.2 418.0h1.25M473.1 377.5h1.25M471.6 402.9h1.25M461.0 382.6h1.25M458.1 391.0h1.25M477.8 404.4h1.25M470.5 387.7h1.25M451.9 367.7h1.25M467.9 391.3h1.25M460.9 394.5h1.25M448.2 407.1h1.25M458.4 436.4h1.25M472.7 400.0h1.25M474.5 432.4h1.25M472.0 377.9h1.25M455.6 405.8h1.25M482.6 363.6h1.25M471.4 402.9h1.25M458.5 367.2h1.25M454.3 437.0h1.25M471.5 399.0h1.25M472.1 388.7h1.25M480.6 398.4h1.25M473.3 371.7h1.25M481.4 410.3h1.25M466.8 394.1h1.25M469.6 389.1h1.25M451.1 396.6h1.25M482.8 370.0h1.25M448.4 418.7h1.25M454.3 380.7h1.25M454.8 404.3h1.25M457.3 397.9h1.25M478.0 399.2h1.25M468.1 386.4h1.25M461.8 435.7h1.25M481.7 426.3h1.25M454.4 395.0h1.25M483.0 431.9h1.25M465.4 403.1h1.25M478.2 414.1h1.25M461.9 402.6h1.25M453.2 412.2h1.25M451.0 424.0h1.25M482.6 383.6h1.25M455.7 380.6h1.25M459.3 409.8h1.25M454.6 439.6h1.25M462.0 413.2h1.25M469.1 394.4h1.25M474.5 395.5h1.25M477.7 410.0h1.25M455.9 385.1h1.25M469.2 391.5h1.25M466.7 402.5h1.25M456.1 368.8h1.25M467.8 412.5h1.25M470.3 422.4h1.25M467.1 396.9h1.25M460.7 400.8h1.25M449.3 426.8h1.25M475.1 398.5h1.25M455.6 422.8h1.25M459.4 376.0h1.25M452.3 425.5h1.25M473.3 424.2h1.25M475.3 394.1h1.25M457.1 410.9h1.25M477.5 419.5h1.25M472.9 417.9h1.25M471.7 420.8h1.25M480.6 419.6h1.25M471.7 411.7h1.25M464.6 375.5h1.25M457.1 397.0h1.25M469.2 408.3h1.25M449.6 349.2h1.25M477.8 386.5h1.25M454.9 400.6h1.25M465.3 418.6h1.25M473.9 390.9h1.25M474.5 398.3h1.25M468.3 414.5h1.25M478.1 388.9h1.25M461.7 386.1h1.25M459.4 391.3h1.25M480.0 397.6h1.25M467.0 379.6h1.25M454.5 430.5h1.25M468.1 364.6h1.25M477.9 404.5h1.25M472.7 406.6h1.25M469.4 399.0h1.25M464.2 413.8h1.25M481.4 371.3h1.25M455.8 409.4h1.25M451.8 403.1h1.25M457.2 366.7h1.25M466.9 414.6h1.25M449.9 441.7h1.25M482.5 390.4h1.25M463.4 404.1h1.25M453.2 408.7h1.25M460.4 420.2h1.25M479.1 427.4h1.25M456.7 359.1h1.25M453.4 394.2h1.25M464.5 379.3h1.25M478.2 395.0h1.25M462.9 395.1h1.25M475.2 402.2h1.25M453.6 402.4h1.25M479.3 422.2h1.25M460.5 432.8h1.25M460.7 403.0h1.25M469.2 418.0h1.25M463.1 432.5h1.25M481.7 371.0h1.25M451.8 398.1h1.25M450.9 373.6h1.25M449.6 432.5h1.25M473.1 414.9h1.25M479.3 380.3h1.25M458.3 384.7h1.25M475.2 385.2h1.25M454.6 421.2h1.25M482.6 387.5h1.25M468.3 382.2h1.25M469.3 400.7h1.25M453.1 385.9h1.25M449.8 415.9h1.25M454.6 364.4h1.25M453.4 399.5h1.25M471.9 414.4h1.25M470.6 387.3h1.25M458.5 409.1h1.25M450.6 385.3h1.25M475.5 373.6h1.25M467.1 424.9h1.25M456.1 396.2h1.25M480.3 398.1h1.25M456.0 419.2h1.25M464.0 389.5h1.25M470.4 437.4h1.25M471.8 332.2h1.25M456.1 415.4h1.25M467.8 437.3h1.25M469.2 380.0h1.25M457.2 404.8h1.25M459.7 430.3h1.25M465.4 382.1h1.25M464.2 403.0h1.25M453.5 388.2h1.25M468.3 394.2h1.25M477.0 419.0h1.25M471.7 390.1h1.25M463.4 378.2h1.25M465.5 402.0h1.25M473.9 416.7h1.25M481.4 393.5h1.25M452.0 406.0h1.25M481.6 343.7h1.25M449.8 359.3h1.25M454.8 438.0h1.25M475.3 368.3h1.25M475.2 402.8h1.25M472.9 421.7h1.25M474.2 379.5h1.25M470.8 366.0h1.25M481.5 401.9h1.25M468.0 394.5h1.25M448.2 403.5h1.25M448.6 377.8h1.25M463.3 396.1h1.25M453.0 368.3h1.25M479.1 437.9h1.25M483.1 442.5h1.25M475.2 397.2h1.25M452.2 376.6h1.25M468.2 408.8h1.25M471.6 398.1h1.25M481.3 408.6h1.25M454.6 386.5h1.25M465.5 420.3h1.25M449.8 395.2h1.25M465.4 429.4h1.25M474.3 394.6h1.25M464.7 416.9h1.25M467.0 419.5h1.25M476.6 359.8h1.25M481.6 404.2h1.25M479.3 393.6h1.25M454.4 414.7h1.25M453.7 426.3h1.25M473.9 390.8h1.25M477.7 477.7h1.25M454.2 378.5h1.25M463.3 398.6h1.25M474.0 424.4h1.25M465.7 407.6h1.25M475.7 407.4h1.25M481.8 396.0h1.25M451.0 384.3h1.25M458.6 371.6h1.25M464.1 370.2h1.25M465.9 437.2h1.25M448.6 409.2h1.25M464.1 425.5h1.25M481.3 369.9h1.25M472.6 420.4h1.25M461.6 400.5h1.25M457.0 378.4h1.25M457.2 415.4h1.25M452.1 403.9h1.25M480.6 417.8h1.25M473.9 412.8h1.25M468.0 414.0h1.25M459.2 410.3h1.25M480.1 412.8h1.25M465.5 431.0h1.25M458.1 407.9h1.25M458.3 389.7h1.25M473.1 408.0h1.25M472.0 400.6h1.25M462.2 427.3h1.25M456.0 381.3h1.25M452.0 385.1h1.25M463.5 424.4h1.25M457.3 404.3h1.25M459.6 378.9h1.25M464.7 418.4h1.25M474.3 380.9h1.25M455.8 396.0h1.25M460.4 368.9h1.25M453.2 384.8h1.25M475.1 436.4h1.25M481.7 407.3h1.25M451.1 387.9h1.25M481.9 389.5h1.25M472.7 396.6h1.25M461.6 384.5h1.25M453.3 376.9h1.25M476.7 420.9h1.25M465.4 360.8h1.25M468.3 422.6h1.25M449.8 384.9h1.25M472.0 393.5h1.25M475.4 390.7h1.25M466.6 380.7h1.25M448.4 416.0h1.25M455.5 412.6h1.25M454.8 401.2h1.25M451.1 363.3h1.25M477.8 360.6h1.25M470.7 414.8h1.25M481.6 421.3h1.25M470.8 402.9h1.25M464.2 411.3h1.25M461.7 391.3h1.25M469.1 406.6h1.25M487.8 366.6h1.25M487.4 438.8h1.25M487.7 403.6h1.25M487.8 432.1h1.25M487.3 416.5h1.25M487.8 446.5h1.25M487.3 399.9h1.25M487.8 401.6h1.25M487.4 374.0h1.25M487.5 427.9h1.25M487.6 411.2h1.25M487.3 384.1h1.25M487.5 374.8h1.25M487.4 441.7h1.25M487.5 453.3h1.25M487.7 407.4h1.25M487.4 396.3h1.25M487.5 399.0h1.25M487.7 438.6h1.25M487.3 373.5h1.25M487.6 427.0h1.25M487.5 359.2h1.25M487.5 365.8h1.25M487.8 354.4h1.25M487.5 386.8h1.25M487.8 385.9h1.25M487.6 408.3h1.25M487.3 363.4h1.25M487.2 422.6h1.25M487.8 391.6h1.25M496.6 372.2h1.25M504.1 430.0h1.25M506.6 401.7h1.25M507.1 388.1h1.25M496.3 378.1h1.25M499.2 431.0h1.25M507.1 398.8h1.25M501.7 390.6h1.25M499.4 373.6h1.25M497.9 430.1h1.25M498.2 412.2h1.25M500.2 405.5h1.25M500.6 409.3h1.25M496.3 416.4h1.25M498.1 427.8h1.25M497.6 407.6h1.25M505.5 398.4h1.25M507.0 415.1h1.25M496.9 415.5h1.25M503.1 424.6h1.25M504.3 413.6h1.25M496.6 408.1h1.25M500.4 405.2h1.25M499.3 393.4h1.25M506.8 388.8h1.25M504.3 413.3h1.25M506.7 391.6h1.25M505.7 371.5h1.25M499.4 323.1h1.25M496.4 378.3h1.25M503.1 417.0h1.25M500.2 401.3h1.25M496.9 421.0h1.25M501.9 424.2h1.25M504.5 391.4h1.25M503.3 411.1h1.25M500.8 381.6h1.25M502.0 436.4h1.25M506.9 399.6h1.25M503.3 399.2h1.25M496.7 423.5h1.25M507.2 384.9h1.25M505.6 406.4h1.25M505.3 405.6h1.25M496.7 419.6h1.25M497.8 422.8h1.25M507.1 412.5h1.25M501.8 374.7h1.25M501.8 403.6h1.25M499.1 376.7h1.25M506.0 412.8h1.25M500.6 396.3h1.25M503.3 409.9h1.25M507.2 372.7h1.25M500.3 399.2h1.25M504.6 422.1h1.25M497.7 403.2h1.25M500.4 405.6h1.25M504.2 423.1h1.25M504.1 434.2h1.25M502.0 398.9h1.25M505.9 397.0h1.25M503.4 422.6h1.25M498.2 367.0h1.25M502.7 381.0h1.25M503.2 399.4h1.25M503.4 400.7h1.25M504.4 411.3h1.25M506.9 393.9h1.25M500.7 385.2h1.25M502.1 391.9h1.25M506.0 402.8h1.25M499.2 403.6h1.25M502.9 383.2h1.25M496.3 362.7h1.25M506.8 400.5h1.25M505.4 401.8h1.25M502.0 447.1h1.25M497.5 357.7h1.25M506.9 371.2h1.25M497.8 394.0h1.25M506.8 393.3h1.25M503.1 422.7h1.25M506.9 394.8h1.25M502.1 429.1h1.25M507.0 387.2h1.25M503.2 368.2h1.25M504.1 417.9h1.25M500.7 424.3h1.25M506.9 337.8h1.25M503.3 434.3h1.25M504.5 404.4h1.25M505.8 397.7h1.25M496.3 399.4h1.25M499.1 390.9h1.25M497.9 353.8h1.25M496.4 444.6h1.25M498.0 362.1h1.25M496.8 402.5h1.25M502.8 406.1h1.25M505.5 426.1h1.25M506.0 366.0h1.25M501.6 403.9h1.25M506.9 429.5h1.25M507.3 382.8h1.25M503.0 411.8h1.25M498.9 364.2h1.25M504.1 428.4h1.25M499.4 391.5h1.25M504.5 401.5h1.25M506.7 388.5h1.25M505.5 420.1h1.25M500.3 349.8h1.25M500.3 359.6h1.25M497.7 398.5h1.25M500.3 415.9h1.25M503.3 442.3h1.25M500.7 434.1h1.25M497.6 378.8h1.25M503.4 414.0h1.25M506.9 411.9h1.25M504.6 430.5h1.25M506.0 416.6h1.25M499.3 405.5h1.25M501.8 396.0h1.25M503.2 415.7h1.25M505.5 423.3h1.25M501.6 399.0h1.25M500.6 413.2h1.25M501.8 373.0h1.25M505.7 440.5h1.25M502.8 381.6h1.25M502.0 411.5h1.25M498.1 415.4h1.25M506.8 403.2h1.25M502.8 404.1h1.25M499.4 428.4h1.25M506.8 388.6h1.25M503.3 390.7h1.25M499.1 406.7h1.25M504.6 360.8h1.25M496.5 418.3h1.25M504.6 398.8h1.25M498.9 412.5h1.25M499.0 395.3h1.25M500.6 420.1h1.25M501.9 398.5h1.25M506.0 415.8h1.25M502.9 383.5h1.25M496.8 402.5h1.25M506.9 406.9h1.25M501.8 357.2h1.25M507.0 387.9h1.25M505.7 378.7h1.25M507.0 357.6h1.25M506.7 426.7h1.25M501.5 390.5h1.25M501.7 371.0h1.25M497.7 387.4h1.25M501.5 445.1h1.25M504.1 404.5h1.25M501.5 375.2h1.25M499.0 443.9h1.25M500.6 415.8h1.25M496.3 341.5h1.25M502.9 360.1h1.25M502.8 431.1h1.25M498.1 393.8h1.25M501.9 418.8h1.25M496.4 400.1h1.25M504.2 370.9h1.25M496.5 397.8h1.25M502.8 357.6h1.25M497.8 431.7h1.25M504.2 413.8h1.25M507.0 443.8h1.25M506.7 406.1h1.25M505.9 409.0h1.25M498.2 374.3h1.25M500.5 438.7h1.25M497.6 424.2h1.25M504.1 444.1h1.25M502.7 401.4h1.25M501.7 371.2h1.25M504.2 431.5h1.25M503.3 364.0h1.25M498.1 419.9h1.25M496.4 390.4h1.25M505.9 401.7h1.25M497.6 397.6h1.25M500.1 408.7h1.25M502.8 405.2h1.25M501.7 426.5h1.25M500.5 349.4h1.25M504.6 382.8h1.25M500.4 401.4h1.25M500.7 433.0h1.25M507.3 397.0h1.25M505.8 418.4h1.25M502.8 425.2h1.25M500.3 453.6h1.25M501.8 415.4h1.25M500.5 384.2h1.25M507.2 446.2h1.25M507.1 420.7h1.25M505.5 401.1h1.25M507.2 401.3h1.25M498.9 397.8h1.25M496.6 360.6h1.25M496.6 396.7h1.25M500.6 385.0h1.25M504.1 413.4h1.25M503.0 418.7h1.25M499.4 409.2h1.25M504.5 384.2h1.25M507.3 407.7h1.25M503.1 378.4h1.25M500.2 411.7h1.25M496.9 413.3h1.25M505.4 391.6h1.25M504.1 362.9h1.25M499.1 380.6h1.25M499.0 398.3h1.25M500.3 368.9h1.25M496.3 386.9h1.25M500.2 399.9h1.25M497.8 385.8h1.25M503.2 415.3h1.25M501.5 412.3h1.25M506.0 403.6h1.25M503.0 374.8h1.25M496.6 371.4h1.25M506.6 419.0h1.25M501.7 418.1h1.25M500.5 386.7h1.25M497.6 342.0h1.25M500.7 412.5h1.25M501.7 437.8h1.25M507.1 419.4h1.25M499.2 373.8h1.25M496.2 414.1h1.25M506.8 415.7h1.25M500.6 387.9h1.25M496.8 393.5h1.25M503.4 387.1h1.25M500.3 375.5h1.25M504.3 435.2h1.25M504.5 382.5h1.25M498.8 400.2h1.25M504.6 420.1h1.25M506.9 442.4h1.25M504.6 411.4h1.25M503.3 396.6h1.25M505.8 393.0h1.25M497.7 413.0h1.25M501.7 389.6h1.25M497.6 440.4h1.25M499.2 422.7h1.25M501.5 412.0h1.25M496.3 378.7h1.25M500.2 415.9h1.25M505.4 420.5h1.25M503.3 404.2h1.25M496.4 378.9h1.25M502.9 420.4h1.25M503.1 406.2h1.25M498.1 399.8h1.25M501.4 398.2h1.25M497.9 346.3h1.25M501.7 352.3h1.25M501.7 414.1h1.25M498.0 433.1h1.25M503.3 405.7h1.25M506.8 437.2h1.25M504.5 403.5h1.25M501.5 422.3h1.25M500.5 384.9h1.25M506.8 409.8h1.25M502.1 446.1h1.25M496.7 355.5h1.25M502.9 401.3h1.25M512.2 412.1h1.25M512.3 391.6h1.25M512.0 371.8h1.25M512.3 376.5h1.25M511.8 413.6h1.25M512.1 389.1h1.25M512.0 378.9h1.25M512.0 381.6h1.25M512.1 420.4h1.25M512.2 400.7h1.25M512.3 430.3h1.25M511.9 408.5h1.25M511.8 373.3h1.25M511.8 392.9h1.25M511.9 414.3h1.25M512.1 383.2h1.25M512.2 384.0h1.25M511.9 406.4h1.25M512.0 380.5h1.25M512.1 381.8h1.25M511.8 355.8h1.25M511.9 386.3h1.25M512.1 387.4h1.25M512.2 364.8h1.25M511.8 408.9h1.25M511.7 405.2h1.25M512.2 388.0h1.25M512.1 389.5h1.25M511.9 423.6h1.25M511.8 435.3h1.25M518.6 438.8h1.25M518.6 403.4h1.25M518.5 425.0h1.25M518.2 430.1h1.25M518.8 410.4h1.25M518.2 398.0h1.25M518.4 399.2h1.25M536.1 456.0h1.25M534.5 414.3h1.25M534.4 405.2h1.25M536.4 402.6h1.25M534.7 383.6h1.25M534.2 373.4h1.25M534.6 408.0h1.25M536.1 421.2h1.25M534.2 397.9h1.25M534.2 423.5h1.25M534.8 347.3h1.25M535.8 407.7h1.25M536.0 418.0h1.25M535.8 413.1h1.25M536.2 410.4h1.25M534.3 388.5h1.25M534.5 394.1h1.25M534.5 401.7h1.25M536.5 349.7h1.25M536.5 381.5h1.25M534.6 423.6h1.25M534.3 406.2h1.25M534.8 409.5h1.25M534.1 404.9h1.25M534.7 402.2h1.25M536.1 388.5h1.25M534.7 423.6h1.25M536.0 426.8h1.25M534.8 360.1h1.25M534.6 422.0h1.25M534.6 411.2h1.25M535.9 377.4h1.25M535.8 390.0h1.25M534.5 416.4h1.25M536.0 362.5h1.25M534.7 492.3h1.25M535.8 378.6h1.25M534.3 380.8h1.25M536.3 414.3h1.25M536.3 415.0h1.25M536.0 388.8h1.25M536.2 430.3h1.25M534.5 398.8h1.25M536.5 427.3h1.25M534.5 429.8h1.25M534.2 412.6h1.25M534.7 412.8h1.25M536.0 418.9h1.25M534.1 440.2h1.25M534.7 383.1h1.25M535.9 419.1h1.25M535.9 413.3h1.25M534.2 381.1h1.25M536.2 377.3h1.25M534.7 424.2h1.25M536.2 398.8h1.25M534.2 406.9h1.25M534.2 447.5h1.25M534.6 447.8h1.25M534.3 381.1h1.25M536.2 403.3h1.25M536.1 410.0h1.25M534.8 341.9h1.25M534.2 431.8h1.25M534.2 384.4h1.25M534.4 405.7h1.25M535.8 416.1h1.25M536.4 408.8h1.25M534.4 384.7h1.25M536.4 413.8h1.25M536.5 395.1h1.25M536.2 414.2h1.25M536.3 398.5h1.25M534.4 431.9h1.25M536.3 421.3h1.25M534.1 418.1h1.25M534.7 414.7h1.25M536.1 367.6h1.25M536.0 438.1h1.25M534.2 419.0h1.25M534.7 399.5h1.25M534.1 398.3h1.25M536.3 405.3h1.25M534.5 374.5h1.25M536.4 388.6h1.25M536.4 388.0h1.25M536.1 392.9h1.25M536.2 442.0h1.25M534.2 403.9h1.25M534.4 379.7h1.25M534.4 389.2h1.25M536.4 398.8h1.25M535.9 395.1h1.25M536.3 414.0h1.25M536.2 397.2h1.25M535.8 364.9h1.25M535.9 421.7h1.25M534.5 417.8h1.25M536.2 427.7h1.25M536.3 414.0h1.25M534.6 381.3h1.25M536.2 375.4h1.25M544.0 413.0h1.25M543.4 403.0h1.25M543.5 413.3h1.25M543.9 358.1h1.25M543.5 396.3h1.25M543.9 388.3h1.25M543.4 414.1h1.25M543.6 376.0h1.25M543.4 428.8h1.25M543.4 388.3h1.25M543.8 404.3h1.25M543.5 417.0h1.25M543.4 390.3h1.25M543.4 414.9h1.25M544.0 397.9h1.25M543.7 388.8h1.25M543.8 411.3h1.25M543.4 397.3h1.25M543.4 380.8h1.25M543.8 417.6h1.25M543.8 385.4h1.25M543.7 410.1h1.25M543.4 405.8h1.25M543.8 396.5h1.25M544.0 366.9h1.25M543.4 398.7h1.25M543.8 461.9h1.25M544.0 386.4h1.25M543.8 395.2h1.25M543.4 381.0h1.25M553.2 391.9h1.25M549.0 409.9h1.25M551.8 422.9h1.25M549.2 415.5h1.25M550.2 416.3h1.25M549.6 416.2h1.25M553.0 402.5h1.25M552.8 421.1h1.25M553.2 378.0h1.25M552.8 438.4h1.25M551.7 426.1h1.25M552.9 378.3h1.25M551.9 416.5h1.25M550.9 401.8h1.25M553.3 369.5h1.25M552.0 371.6h1.25M549.4 369.7h1.25M552.8 396.4h1.25M553.4 396.7h1.25M551.7 384.0h1.25M551.8 439.3h1.25M550.8 438.9h1.25M549.7 445.5h1.25M552.8 422.4h1.25M550.6 394.3h1.25M549.6 428.7h1.25M549.3 412.1h1.25M552.9 437.0h1.25M553.4 440.5h1.25M549.5 417.4h1.25M553.3 389.1h1.25M552.8 436.5h1.25M549.5 385.4h1.25M553.0 395.9h1.25M552.2 403.7h1.25M553.1 399.0h1.25M552.8 406.1h1.25M553.2 390.4h1.25M552.2 392.3h1.25M551.8 411.6h1.25M552.0 403.6h1.25M552.0 416.2h1.25M553.1 402.6h1.25M551.7 384.4h1.25M549.1 398.5h1.25M550.5 400.1h1.25M549.5 423.5h1.25M549.5 447.2h1.25M552.0 391.3h1.25M549.4 374.4h1.25M550.6 417.1h1.25M550.5 389.9h1.25M550.5 423.5h1.25M553.0 418.6h1.25M550.6 364.8h1.25M551.7 367.6h1.25M550.4 397.2h1.25M549.2 389.4h1.25M553.3 385.1h1.25M549.6 374.4h1.25M551.7 420.6h1.25M551.5 382.7h1.25M550.7 370.5h1.25M549.7 395.4h1.25M549.2 391.9h1.25M551.6 419.2h1.25M552.1 348.4h1.25M550.8 396.7h1.25M552.1 368.4h1.25M551.7 384.3h1.25M552.0 380.3h1.25M552.8 418.9h1.25M550.7 382.0h1.25M550.6 392.4h1.25M553.3 437.6h1.25M549.1 417.2h1.25M553.3 407.0h1.25M549.4 417.2h1.25M550.4 403.8h1.25M553.0 366.1h1.25M552.9 385.5h1.25M549.5 411.9h1.25M550.5 413.5h1.25M552.0 407.8h1.25M549.3 417.1h1.25M549.1 414.7h1.25M552.8 378.2h1.25M553.2 402.0h1.25M552.1 363.8h1.25M551.6 380.0h1.25M553.2 377.1h1.25M553.2 407.4h1.25M550.4 403.3h1.25M551.8 373.5h1.25M552.7 478.7h1.25M549.5 435.0h1.25M549.6 436.0h1.25M550.6 373.2h1.25M552.9 413.0h1.25M550.9 404.6h1.25M552.8 354.7h1.25M550.4 411.3h1.25M549.2 393.9h1.25M553.0 361.4h1.25M549.5 408.1h1.25M550.4 373.4h1.25M551.5 389.9h1.25M549.4 407.0h1.25M552.1 404.6h1.25M552.1 391.4h1.25M551.7 372.3h1.25M551.5 419.3h1.25M550.8 417.1h1.25M549.2 387.9h1.25M549.6 405.0h1.25M550.3 425.1h1.25M551.7 406.8h1.25M549.2 377.4h1.25M549.5 409.6h1.25M553.0 402.0h1.25M562.7 377.9h1.25M563.1 398.8h1.25M562.6 398.1h1.25M563.1 388.5h1.25M563.2 416.2h1.25M562.7 390.4h1.25M562.8 399.8h1.25M562.9 388.2h1.25M562.7 410.5h1.25M563.0 397.1h1.25M562.6 396.7h1.25M563.0 437.1h1.25M563.2 366.9h1.25M562.9 412.2h1.25M562.9 393.7h1.25M563.1 393.1h1.25M563.2 373.0h1.25M563.2 374.2h1.25M563.2 420.1h1.25M562.8 417.7h1.25M562.9 399.9h1.25M563.1 402.5h1.25M563.0 361.6h1.25M562.7 390.2h1.25M563.2 416.9h1.25M563.1 420.7h1.25M562.6 438.0h1.25M562.9 400.8h1.25M562.9 428.9h1.25M562.7 391.8h1.25M563.0 412.3h1.25M562.6 370.9h1.25M562.8 424.0h1.25M562.6 401.7h1.25M562.6 411.1h1.25M562.8 450.4h1.25M563.2 364.5h1.25M563.0 382.2h1.25M562.7 387.4h1.25M563.0 419.0h1.25M563.0 382.0h1.25M563.2 430.4h1.25M563.1 383.7h1.25M563.0 390.0h1.25M563.2 410.1h1.25M563.1 403.6h1.25M562.9 387.6h1.25M562.7 379.8h1.25M563.2 409.8h1.25M562.8 413.3h1.25M563.0 389.5h1.25M563.1 354.9h1.25M562.8 389.9h1.25M562.9 387.7h1.25M576.5 381.9h1.25M576.9 429.1h1.25M575.5 374.9h1.25M576.8 412.8h1.25M575.3 373.3h1.25M575.3 398.6h1.25M575.3 409.7h1.25M576.6 381.1h1.25M575.3 380.3h1.25M575.6 410.0h1.25M575.2 377.6h1.25M575.0 421.8h1.25M576.8 401.7h1.25M577.1 433.2h1.25M576.8 384.4h1.25M575.5 413.6h1.25M576.9 410.2h1.25M575.0 378.8h1.25M575.0 415.3h1.25M575.1 405.3h1.25M576.9 366.2h1.25M577.0 387.3h1.25M575.4 405.6h1.25M575.4 403.8h1.25M577.1 412.6h1.25M575.4 396.6h1.25M577.1 417.1h1.25M576.9 441.1h1.25M576.6 389.9h1.25M575.2 385.4h1.25M576.9 401.4h1.25M575.2 429.6h1.25M576.6 401.3h1.25M575.4 415.7h1.25M575.3 419.3h1.25M575.4 405.6h1.25M575.1 453.5h1.25M576.8 408.8h1.25M575.0 374.3h1.25M575.5 433.5h1.25M576.8 394.2h1.25M577.1 354.2h1.25M575.4 428.8h1.25M575.3 399.0h1.25M575.1 415.4h1.25M576.8 410.9h1.25M576.5 405.4h1.25M577.1 415.2h1.25M576.6 383.8h1.25M575.6 392.7h1.25M575.6 388.5h1.25M576.5 391.0h1.25M576.9 408.1h1.25M575.6 453.0h1.25M576.5 416.4h1.25M576.9 422.3h1.25M575.4 405.3h1.25M575.4 421.5h1.25M576.9 461.5h1.25M576.6 417.0h1.25M576.6 394.5h1.25M575.2 417.7h1.25M575.4 408.6h1.25M576.5 391.3h1.25M575.7 443.4h1.25M576.9 421.8h1.25M575.0 403.6h1.25M576.7 384.7h1.25M576.7 387.4h1.25M576.7 403.9h1.25M584.0 392.9h1.25M581.3 414.5h1.25M583.8 362.3h1.25M585.1 414.0h1.25M582.8 417.2h1.25M583.0 395.1h1.25M583.0 403.9h1.25M580.3 413.3h1.25M581.3 385.1h1.25M579.7 446.7h1.25M582.5 407.5h1.25M585.2 360.0h1.25M582.8 362.8h1.25M582.8 395.4h1.25M581.6 365.7h1.25M585.3 371.6h1.25M579.9 375.3h1.25M581.6 425.5h1.25M581.2 415.8h1.25M583.8 426.7h1.25M585.5 398.2h1.25M582.4 385.4h1.25M585.3 320.5h1.25M581.7 416.4h1.25M580.1 420.7h1.25M578.9 433.1h1.25M583.7 413.9h1.25M582.6 385.9h1.25M585.7 381.6h1.25M583.9 380.9h1.25M582.9 351.2h1.25M579.7 359.8h1.25M582.9 403.0h1.25M579.8 409.9h1.25M580.1 367.1h1.25M581.1 395.6h1.25M581.1 384.8h1.25M580.2 448.0h1.25M578.6 410.7h1.25M582.9 429.7h1.25M581.0 403.4h1.25M580.0 350.8h1.25M582.9 412.1h1.25M578.4 380.3h1.25M582.5 412.3h1.25M578.9 392.0h1.25M581.2 403.9h1.25M582.4 410.7h1.25M584.1 355.1h1.25M578.4 407.8h1.25M582.8 406.0h1.25M578.9 397.1h1.25M579.9 398.6h1.25M585.1 389.2h1.25M578.8 419.2h1.25M585.4 371.2h1.25M590.8 406.4h1.25M588.4 403.2h1.25M589.6 393.7h1.25M591.0 404.2h1.25M588.3 398.3h1.25M589.9 373.3h1.25M586.7 429.5h1.25M586.5 391.9h1.25M586.9 400.5h1.25M591.2 393.1h1.25M586.9 442.6h1.25M586.6 372.3h1.25M588.4 399.1h1.25M591.2 423.7h1.25M588.1 379.2h1.25M587.0 376.8h1.25M586.8 405.4h1.25M590.9 408.5h1.25M588.3 413.0h1.25M586.4 399.5h1.25M591.2 396.4h1.25M591.2 426.6h1.25M589.9 440.9h1.25M586.8 422.7h1.25M591.3 395.3h1.25M591.4 405.2h1.25M591.0 413.7h1.25M589.7 389.1h1.25M588.2 370.9h1.25M589.4 428.3h1.25M591.0 409.0h1.25M591.0 404.2h1.25M589.7 388.8h1.25M587.9 393.6h1.25M591.1 418.5h1.25M589.8 362.3h1.25M590.8 440.2h1.25M586.7 429.0h1.25M591.1 391.5h1.25M589.9 371.5h1.25M587.9 452.2h1.25M591.2 406.6h1.25M589.6 392.5h1.25M591.3 394.6h1.25M591.1 370.0h1.25M588.2 418.4h1.25M588.1 441.6h1.25M591.1 404.1h1.25M591.4 389.5h1.25M586.7 427.4h1.25M591.2 395.6h1.25M589.6 392.5h1.25M588.1 411.5h1.25M589.6 401.2h1.25M589.8 448.5h1.25M586.5 410.1h1.25M586.9 433.0h1.25M588.2 439.4h1.25M589.8 387.1h1.25M588.2 409.0h1.25M588.3 395.4h1.25M590.7 436.2h1.25M588.5 411.2h1.25M587.0 370.5h1.25M586.7 413.0h1.25M586.7 424.4h1.25M589.6 422.5h1.25M591.0 413.1h1.25M588.2 468.7h1.25M589.5 402.8h1.25M589.6 410.5h1.25M589.9 399.1h1.25M588.1 380.9h1.25M586.8 421.4h1.25M588.1 379.9h1.25M588.2 395.4h1.25M586.4 401.5h1.25M589.8 419.8h1.25M589.5 376.8h1.25M586.9 394.2h1.25M588.3 389.7h1.25M586.4 418.1h1.25M586.8 412.7h1.25M586.8 403.8h1.25M588.1 378.7h1.25M588.0 425.6h1.25M586.7 418.0h1.25M591.3 476.9h1.25M586.7 367.3h1.25M589.8 404.1h1.25M590.9 421.6h1.25M588.1 403.6h1.25M588.4 379.4h1.25M587.9 381.3h1.25M588.0 443.3h1.25M589.9 392.7h1.25M591.2 424.3h1.25M588.4 433.0h1.25M589.7 365.9h1.25M590.8 399.7h1.25M589.7 420.7h1.25M586.7 389.6h1.25M590.8 349.0h1.25M588.2 398.1h1.25M590.0 400.6h1.25M591.3 403.9h1.25M586.6 402.8h1.25M591.2 380.3h1.25M586.7 393.7h1.25M589.7 425.1h1.25M589.8 403.6h1.25M588.5 412.4h1.25M591.2 428.9h1.25M586.5 435.3h1.25M587.8 381.8h1.25M586.6 397.8h1.25M586.5 397.8h1.25M591.4 425.1h1.25M586.4 388.0h1.25M586.6 436.4h1.25M590.7 386.7h1.25M591.4 376.1h1.25M586.8 377.5h1.25M588.0 399.5h1.25M586.8 406.4h1.25M586.5 391.9h1.25M587.8 423.8h1.25M589.5 450.8h1.25M589.5 399.3h1.25M589.7 397.7h1.25M590.9 416.5h1.25M587.0 411.5h1.25M588.0 418.5h1.25M589.8 402.6h1.25M589.4 417.7h1.25M590.8 406.0h1.25M588.5 444.1h1.25M588.2 348.8h1.25M588.4 403.9h1.25M598.1 441.3h1.25M598.3 407.0h1.25M598.2 407.7h1.25M598.2 441.5h1.25M596.5 402.5h1.25M596.8 395.1h1.25M596.5 456.9h1.25M596.5 421.4h1.25M598.4 403.7h1.25M598.1 331.4h1.25M596.7 418.9h1.25M596.8 442.3h1.25M598.6 387.0h1.25M596.9 421.6h1.25M598.7 392.4h1.25M596.6 418.0h1.25M596.9 427.4h1.25M596.6 429.5h1.25M596.6 403.1h1.25M598.4 403.9h1.25M598.2 379.9h1.25M598.3 357.3h1.25M596.7 431.7h1.25M598.6 397.9h1.25M598.6 401.2h1.25M597.1 408.5h1.25M598.6 371.5h1.25M597.1 396.8h1.25M597.0 404.1h1.25M596.5 418.1h1.25M598.8 382.1h1.25M598.7 413.4h1.25M598.3 360.2h1.25M597.0 384.4h1.25M598.8 435.1h1.25M598.8 406.4h1.25M597.1 373.2h1.25M598.5 379.2h1.25M596.8 382.5h1.25M597.1 366.4h1.25M604.2 381.8h1.25M605.4 425.4h1.25M604.1 452.7h1.25M604.0 428.7h1.25M605.1 396.2h1.25M605.5 428.3h1.25M604.3 393.3h1.25M604.2 412.7h1.25M605.3 395.7h1.25M603.8 373.8h1.25M604.1 388.3h1.25M605.0 406.6h1.25M604.3 390.0h1.25M605.1 404.2h1.25M605.6 385.7h1.25M605.5 397.7h1.25M605.6 455.5h1.25M603.9 413.9h1.25M604.3 402.5h1.25M604.4 357.3h1.25M605.5 428.7h1.25M605.5 407.1h1.25M605.7 397.0h1.25M605.5 361.6h1.25M603.9 398.5h1.25M605.5 398.0h1.25M603.8 415.6h1.25M604.0 387.0h1.25M603.8 422.2h1.25M604.2 430.9h1.25M605.2 396.2h1.25M604.4 369.4h1.25M603.9 398.9h1.25M605.7 422.7h1.25M605.7 414.1h1.25M604.4 366.5h1.25M603.8 413.4h1.25M604.2 415.7h1.25M605.0 413.3h1.25M604.3 365.6h1.25M603.8 400.8h1.25M605.6 442.1h1.25M605.4 403.2h1.25M603.8 384.2h1.25M604.1 424.6h1.25M604.0 470.7h1.25M604.5 423.6h1.25M605.1 401.7h1.25M604.0 381.4h1.25M605.1 389.3h1.25M605.1 410.1h1.25M604.0 397.8h1.25M604.3 427.5h1.25M605.1 406.2h1.25M603.8 375.5h1.25M605.7 413.7h1.25M605.7 363.2h1.25M605.4 426.6h1.25M604.4 389.7h1.25M605.4 416.1h1.25M611.4 342.9h1.25M610.3 377.7h1.25M612.5 412.5h1.25M611.5 429.2h1.25M610.0 407.1h1.25M609.9 436.6h1.25M611.1 389.0h1.25M613.6 427.0h1.25M612.7 385.6h1.25M612.4 407.0h1.25M612.3 421.2h1.25M610.4 393.9h1.25M612.7 421.3h1.25M612.2 397.7h1.25M612.5 407.3h1.25M609.9 415.5h1.25M611.6 405.4h1.25M610.3 402.0h1.25M614.0 388.6h1.25M612.5 414.0h1.25M613.6 422.9h1.25M612.2 432.0h1.25M613.6 380.2h1.25M610.9 413.8h1.25M610.2 399.1h1.25M613.8 409.7h1.25M609.8 387.2h1.25M613.7 412.0h1.25M611.1 427.7h1.25M610.2 454.7h1.25M613.5 396.7h1.25M610.0 388.4h1.25M614.0 373.9h1.25M611.6 431.2h1.25M612.5 375.3h1.25M610.1 396.3h1.25M611.3 422.6h1.25M611.1 430.9h1.25M611.5 386.2h1.25M612.4 394.3h1.25M612.3 367.2h1.25M612.6 466.3h1.25M611.4 383.2h1.25M611.6 422.7h1.25M610.1 389.3h1.25M613.6 390.3h1.25M614.1 394.4h1.25M612.6 423.4h1.25M613.7 469.5h1.25M611.4 402.9h1.25M612.8 417.3h1.25M609.8 389.6h1.25M611.2 389.8h1.25M611.4 395.3h1.25M613.9 383.4h1.25M614.1 399.8h1.25M609.8 394.2h1.25M612.3 375.6h1.25M611.2 418.5h1.25M610.0 394.0h1.25M622.7 404.5h1.25M622.8 428.7h1.25M623.0 369.5h1.25M622.9 397.8h1.25M623.1 448.6h1.25M622.9 406.7h1.25M622.8 406.2h1.25M638.0 376.3h1.25M636.6 398.1h1.25M636.8 403.9h1.25M636.6 420.5h1.25M638.2 416.5h1.25M637.9 456.4h1.25M633.1 403.7h1.25M634.0 392.8h1.25M637.1 359.3h1.25M635.8 434.8h1.25M631.5 408.9h1.25M637.9 433.6h1.25M635.7 449.3h1.25M631.9 379.2h1.25M635.8 404.2h1.25M632.8 391.0h1.25M635.8 403.1h1.25M637.9 383.6h1.25M638.4 414.4h1.25M638.3 418.1h1.25M631.3 387.6h1.25M637.0 443.1h1.25M632.7 391.7h1.25M633.1 403.7h1.25M631.6 404.5h1.25M632.6 422.4h1.25M632.6 396.8h1.25M637.0 408.7h1.25M636.7 398.0h1.25M632.7 381.0h1.25M635.5 371.5h1.25M635.3 366.3h1.25M631.6 436.0h1.25M637.0 386.8h1.25M635.5 423.4h1.25M634.2 431.9h1.25M633.1 356.3h1.25M638.3 402.2h1.25M631.7 419.7h1.25M633.9 385.6h1.25M635.5 407.2h1.25M631.9 407.4h1.25M635.7 409.9h1.25M632.6 409.6h1.25M637.0 413.4h1.25M632.9 398.1h1.25M633.1 389.0h1.25M633.0 384.2h1.25M631.7 398.5h1.25M638.4 434.4h1.25M631.6 430.9h1.25M633.2 371.6h1.25M635.8 396.0h1.25M637.7 421.1h1.25M636.6 391.1h1.25M635.7 423.3h1.25M634.5 407.5h1.25M637.1 399.8h1.25M631.7 414.1h1.25M637.0 417.9h1.25M634.4 392.2h1.25M631.6 375.8h1.25M631.3 423.9h1.25M635.4 400.7h1.25M635.3 399.0h1.25M634.4 441.0h1.25M632.7 385.6h1.25M634.1 402.3h1.25M633.9 375.7h1.25M635.6 398.6h1.25M637.8 371.7h1.25M631.4 456.9h1.25M638.2 404.2h1.25M631.7 413.9h1.25M631.6 398.9h1.25M636.9 342.0h1.25M637.0 375.3h1.25M632.6 417.0h1.25M635.2 383.5h1.25M634.0 387.5h1.25M631.4 398.9h1.25M634.3 379.8h1.25M634.4 409.8h1.25M631.4 382.0h1.25M635.8 393.9h1.25M632.8 392.1h1.25M632.8 367.5h1.25M635.3 374.7h1.25M637.8 395.6h1.25M635.2 390.9h1.25M634.5 396.6h1.25M638.3 412.3h1.25M632.9 428.0h1.25M637.9 367.3h1.25M632.9 408.6h1.25M632.7 459.7h1.25M634.4 421.1h1.25M638.3 427.1h1.25M631.4 434.4h1.25M634.0 415.5h1.25M634.2 389.5h1.25M638.3 393.9h1.25M634.5 390.9h1.25M631.8 375.9h1.25M632.6 395.6h1.25M632.9 398.1h1.25M637.8 415.2h1.25M631.9 377.0h1.25M633.9 381.5h1.25M631.5 422.1h1.25M636.5 422.2h1.25M638.1 389.1h1.25M632.6 403.6h1.25M634.4 409.2h1.25M631.5 361.4h1.25M635.4 407.8h1.25M637.0 439.6h1.25M631.7 391.6h1.25M637.9 416.2h1.25M635.5 393.7h1.25M634.4 397.0h1.25M635.6 414.0h1.25M638.2 407.6h1.25M638.3 397.8h1.25M635.4 436.9h1.25M632.6 395.9h1.25M634.0 366.5h1.25M633.2 360.7h1.25M631.4 401.6h1.25M636.7 400.1h1.25M635.4 438.9h1.25M637.9 412.7h1.25M635.6 390.9h1.25M634.1 383.3h1.25M631.7 419.8h1.25M632.9 396.0h1.25M633.0 404.7h1.25M631.5 377.1h1.25M633.2 388.4h1.25M638.1 377.2h1.25M636.6 393.5h1.25M636.7 389.8h1.25M634.1 370.1h1.25M636.8 412.7h1.25M637.9 410.2h1.25M631.8 381.3h1.25M631.9 385.4h1.25M632.7 416.7h1.25M635.5 415.5h1.25M634.5 372.5h1.25M633.2 435.7h1.25M635.6 371.4h1.25M631.4 401.4h1.25M636.6 417.5h1.25M635.4 451.3h1.25M632.7 402.6h1.25M632.9 419.4h1.25M634.0 388.4h1.25M632.7 392.7h1.25M633.9 400.5h1.25M637.8 362.3h1.25M635.3 413.3h1.25M635.8 390.6h1.25M636.8 369.9h1.25M637.1 402.6h1.25M637.1 397.2h1.25M632.9 403.8h1.25M638.3 361.5h1.25M631.9 371.8h1.25M637.8 372.9h1.25M631.8 393.0h1.25M631.4 395.9h1.25M638.0 409.5h1.25M638.1 443.8h1.25M637.9 379.1h1.25M638.3 418.2h1.25M633.9 403.7h1.25M635.2 378.3h1.25M634.3 340.7h1.25M637.8 438.6h1.25M634.5 400.4h1.25M636.7 416.9h1.25M635.3 402.3h1.25M635.8 403.1h1.25M634.0 365.0h1.25M631.6 410.9h1.25M634.1 409.7h1.25M636.5 388.6h1.25M638.1 353.4h1.25M631.9 387.5h1.25M636.9 384.9h1.25M638.2 448.2h1.25M634.2 392.7h1.25M638.0 420.5h1.25M634.4 349.2h1.25M632.7 391.1h1.25M631.8 385.0h1.25M635.7 393.0h1.25M636.6 405.5h1.25M635.2 398.9h1.25M635.4 374.8h1.25M633.1 425.4h1.25M638.0 404.0h1.25M631.9 440.6h1.25M636.6 386.8h1.25M633.3 391.7h1.25M636.6 311.6h1.25M636.7 407.5h1.25M636.6 394.2h1.25M636.9 418.0h1.25M638.0 416.7h1.25M634.4 410.3h1.25M635.7 391.6h1.25M631.4 401.9h1.25M631.3 398.2h1.25M636.9 489.5h1.25M635.8 425.7h1.25M634.3 370.2h1.25M631.7 418.2h1.25M632.8 415.2h1.25M632.8 387.0h1.25M632.7 401.8h1.25M635.6 401.6h1.25M636.6 422.5h1.25M638.1 438.4h1.25M633.3 383.5h1.25M631.3 404.8h1.25M638.3 409.1h1.25M633.9 434.2h1.25M638.2 389.2h1.25M632.9 398.0h1.25M631.3 452.8h1.25M636.5 388.3h1.25M632.0 417.5h1.25M632.8 379.6h1.25M633.1 415.1h1.25M633.2 413.9h1.25M635.7 385.4h1.25M634.4 396.5h1.25M635.8 381.4h1.25M631.7 433.1h1.25M636.5 418.3h1.25M637.0 407.3h1.25M637.0 380.2h1.25M634.5 372.0h1.25M634.1 393.1h1.25M119.8 426.8h1.25M569.4 359.4h1.25M632.3 433.5h1.25M120.7 393.5h1.25M185.3 394.0h1.25M449.1 405.9h1.25M152.9 441.4h1.25M610.3 364.2h1.25M349.0 378.4h1.25M348.3 388.8h1.25M255.8 351.4h1.25M403.5 418.8h1.25M136.7 435.1h1.25M463.2 311.4h1.25M402.3 398.5h1.25M52.4 392.1h1.25M579.0 405.9h1.25M546.3 385.0h1.25M262.8 399.2h1.25M104.5 426.9h1.25M136.4 436.2h1.25M608.8 429.7h1.25M141.0 393.6h1.25M342.7 411.9h1.25M396.1 402.5h1.25M72.6 423.3h1.25M625.0 410.6h1.25M197.1 393.1h1.25M355.4 383.3h1.25M89.3 383.0h1.25M79.1 443.1h1.25M511.9 404.9h1.25M122.1 398.0h1.25M179.4 409.4h1.25M533.8 418.0h1.25M553.6 399.7h1.25M633.9 410.7h1.25M105.5 419.4h1.25M446.6 363.7h1.25M302.3 358.0h1.25M90.0 426.2h1.25M37.5 421.4h1.25M88.8 379.7h1.25M477.3 371.9h1.25M259.9 421.4h1.25M512.3 388.2h1.25M348.4 414.4h1.25M242.1 396.4h1.25M171.9 394.8h1.25M137.0 421.7h1.25M41.4 372.9h1.25M452.2 400.8h1.25M461.3 367.9h1.25M252.6 408.1h1.25M630.5 402.9h1.25M59.6 409.8h1.25M268.5 411.8h1.25M388.5 360.6h1.25M374.1 364.6h1.25M586.5 422.1h1.25M50.4 422.4h1.25M363.9 414.2h1.25M500.3 364.2h1.25M409.7 392.5h1.25M577.9 389.6h1.25M42.9 423.7h1.25M390.7 433.0h1.25M122.9 415.5h1.25M461.7 424.9h1.25M544.0 406.5h1.25M374.1 426.6h1.25M238.1 377.1h1.25M407.8 434.4h1.25M434.9 385.4h1.25M166.4 388.5h1.25M334.0 420.0h1.25M369.9 421.4h1.25M459.5 401.8h1.25M309.9 412.3h1.25M234.0 385.9h1.25M510.5 422.0h1.25M148.0 402.5h1.25M551.4 365.5h1.25M36.0 419.8h1.25M393.7 370.8h1.25M164.8 378.3h1.25M505.0 378.7h1.25M561.3 428.9h1.25M456.6 388.4h1.25M591.6 363.8h1.25M426.7 388.5h1.25M598.2 432.0h1.25M373.1 373.1h1.25M480.6 386.7h1.25M244.8 422.7h1.25M150.6 371.1h1.25M157.4 431.2h1.25M132.6 383.0h1.25M609.2 421.7h1.25M543.0 393.8h1.25M448.1 437.4h1.25M304.9 395.6h1.25M516.1 401.7h1.25M36.8 444.1h1.25M205.5 400.2h1.25M400.4 397.0h1.25M48.0 442.4h1.25M140.6 404.8h1.25M200.2 369.6h1.25M573.5 419.1h1.25M556.3 392.4h1.25M485.5 412.8h1.25M298.8 438.9h1.25M166.4 372.5h1.25M50.8 403.3h1.25M294.7 392.4h1.25M557.8 384.5h1.25M537.0 427.8h1.25M63.2 409.6h1.25M594.8 416.6h1.25M103.2 420.7h1.25M490.3 423.5h1.25M519.0 422.2h1.25M569.8 352.2h1.25M300.6 415.9h1.25M124.2 401.5h1.25M228.4 378.1h1.25M228.4 417.6h1.25M487.1 429.0h1.25M452.0 419.9h1.25M580.1 366.5h1.25M169.6 391.4h1.25M384.7 395.5h1.25M425.7 433.9h1.25M339.3 393.9h1.25M134.6 375.1h1.25M347.8 443.6h1.25M425.2 394.8h1.25M387.3 384.3h1.25M530.1 421.5h1.25M199.1 377.9h1.25M195.1 410.4h1.25M391.2 392.9h1.25M484.6 408.6h1.25M476.4 430.2h1.25M111.2 389.7h1.25M372.9 396.0h1.25M421.1 405.6h1.25M526.6 377.3h1.25M137.3 396.4h1.25M300.1 423.2h1.25M351.3 390.0h1.25M162.8 387.7h1.25M337.0 415.0h1.25M449.0 367.5h1.25M453.3 379.0h1.25M430.4 397.9h1.25M457.5 411.4h1.25M44.3 382.5h1.25M341.0 384.5h1.25M380.0 417.3h1.25M54.2 409.4h1.25M140.3 438.1h1.25M192.6 414.6h1.25M581.1 410.2h1.25M203.4 447.5h1.25M328.3 415.0h1.25M434.8 406.5h1.25M196.8 411.4h1.25M130.2 404.7h1.25M592.9 426.0h1.25M102.1 461.5h1.25M532.4 365.0h1.25M114.4 397.8h1.25M255.5 387.5h1.25M514.2 387.2h1.25M286.2 423.1h1.25M509.4 407.3h1.25M42.6 465.6h1.25M574.3 475.1h1.25M197.5 376.0h1.25M350.3 408.8h1.25M398.4 443.0h1.25M461.6 369.1h1.25M39.3 391.4h1.25M485.7 427.7h1.25M292.9 364.8h1.25M259.1 376.8h1.25M628.5 435.0h1.25M362.6 446.6h1.25M266.3 437.0h1.25M69.8 404.4h1.25M392.8 387.3h1.25M297.8 404.5h1.25M307.2 421.2h1.25M612.0 404.8h1.25M544.8 445.2h1.25M241.8 381.9h1.25M97.2 409.1h1.25M637.2 404.2h1.25M152.7 412.3h1.25M340.4 371.9h1.25M417.1 390.4h1.25M38.1 397.7h1.25M153.8 403.7h1.25M55.0 390.6h1.25M65.9 408.0h1.25M476.6 430.6h1.25M454.3 417.0h1.25M633.0 413.3h1.25M96.3 404.3h1.25M331.2 433.3h1.25M54.2 387.2h1.25M82.4 410.8h1.25M285.9 417.8h1.25M58.7 414.5h1.25M148.6 392.0h1.25M568.1 366.8h1.25M385.8 393.3h1.25M452.8 433.7h1.25M540.8 411.3h1.25M480.7 418.4h1.25M67.8 402.4h1.25M283.2 385.2h1.25M539.4 396.4h1.25M85.2 387.7h1.25M509.5 364.0h1.25M353.1 366.7h1.25M151.0 391.5h1.25M338.2 384.6h1.25M189.1 416.6h1.25M69.5 411.7h1.25M425.6 360.4h1.25M233.5 354.2h1.25M68.4 413.3h1.25M193.8 420.0h1.25M359.5 391.9h1.25M226.9 426.7h1.25M408.8 371.0h1.25M116.0 421.9h1.25M618.4 418.1h1.25M308.6 440.5h1.25M465.5 412.8h1.25M242.3 429.4h1.25M366.6 432.5h1.25M588.9 448.5h1.25M369.2 428.4h1.25M456.1 434.9h1.25M138.2 423.4h1.25M552.9 392.0h1.25M634.4 385.1h1.25M576.6 392.3h1.25M204.6 398.2h1.25M80.6 363.9h1.25M391.1 406.2h1.25M492.2 465.4h1.25M492.0 487.5h1.25M492.5 466.9h1.25M492.9 459.7h1.25M492.9 457.7h1.25M493.0 478.6h1.25M492.9 485.5h1.25M492.6 486.1h1.25M492.5 461.5h1.25M492.3 477.5h1.25M492.6 461.9h1.25M492.4 495.5h1.25M492.9 468.0h1.25M492.1 473.1h1.25M492.6 457.6h1.25M492.2 469.2h1.25M492.2 493.0h1.25M492.1 465.4h1.25M493.0 495.9h1.25M492.7 466.1h1.25M492.1 458.4h1.25M493.1 468.7h1.25M493.2 463.1h1.25M492.8 477.6h1.25M492.3 466.4h1.25M492.6 493.7h1.25M492.9 462.3h1.25M492.0 463.3h1.25M492.5 496.7h1.25M492.5 468.1h1.25M492.6 488.3h1.25M492.9 490.6h1.25M492.3 461.2h1.25M493.0 482.9h1.25M492.3 492.8h1.25M492.4 461.5h1.25M492.8 457.4h1.25M492.5 458.8h1.25M493.1 496.3h1.25M492.3 485.4h1.25M492.7 489.9h1.25M492.8 468.9h1.25M492.5 495.4h1.25M492.1 473.7h1.25M492.6 473.1h1.25M493.1 406.8h1.25M493.1 441.6h1.25M492.5 421.2h1.25M492.5 385.2h1.25M493.2 383.3h1.25M492.8 410.5h1.25M492.1 390.9h1.25M492.6 397.5h1.25M492.9 379.0h1.25M492.2 390.2h1.25" stroke="#646464" stroke-width="1.25" fill="none"/>
<polyline points="34.7,403.5 40.0,400.0 50.0,398.5 70.0,399.0 90.0,402.0 110.0,404.0 130.0,404.5 150.0,405.0 170.0,405.0 190.0,408.0 205.0,407.0 215.0,404.5 230.0,400.5 250.0,401.5 270.0,403.0 290.0,404.0 300.0,403.0 330.0,402.0 360.0,401.5 380.0,401.0 395.0,403.0 420.0,404.0 460.0,404.0 470.0,404.0 475.0,413.5 480.0,411.0 490.0,411.5 500.0,410.5 506.0,411.0 509.0,401.5 530.0,401.5 600.0,402.5 620.0,400.0 639.0,400.5" fill="none" stroke="#ecd060" stroke-width="1.2"/>
<line x1="35.0" y1="402.5" x2="52.0" y2="402.5" stroke="#222" stroke-width="1.4" />
<line x1="56.0" y1="401.5" x2="74.0" y2="401.5" stroke="#222" stroke-width="1.4" />
<line x1="120.0" y1="403.5" x2="140.0" y2="403.5" stroke="#222" stroke-width="1.4" />
<line x1="145.0" y1="404.0" x2="170.0" y2="404.0" stroke="#222" stroke-width="1.4" />
<line x1="236.0" y1="403.0" x2="255.0" y2="403.0" stroke="#222" stroke-width="1.4" />
<line x1="262.0" y1="403.5" x2="278.0" y2="403.5" stroke="#222" stroke-width="1.4" />
<line x1="305.0" y1="404.5" x2="325.0" y2="404.5" stroke="#222" stroke-width="1.4" />
<line x1="337.0" y1="402.0" x2="375.0" y2="402.0" stroke="#222" stroke-width="1.4" />
<line x1="380.0" y1="401.5" x2="390.0" y2="401.5" stroke="#222" stroke-width="1.4" />
<line x1="390.0" y1="402.5" x2="395.0" y2="402.5" stroke="#222" stroke-width="1.4" />
<line x1="420.0" y1="403.5" x2="500.0" y2="403.5" stroke="#222" stroke-width="1.4" />
<line x1="495.0" y1="401.0" x2="512.0" y2="401.0" stroke="#222" stroke-width="1.4" />
<line x1="545.0" y1="403.0" x2="630.0" y2="403.0" stroke="#222" stroke-width="1.4" />
<rect x="285.0" y="397.0" width="3.0" height="1.2" fill="#222" />
<rect x="300.0" y="391.5" width="4.0" height="1.2" fill="#222" />
<rect x="407.0" y="397.0" width="3.0" height="1.2" fill="#222" />
<rect x="409.0" y="395.0" width="5.0" height="1.2" fill="#222" />
<rect x="491.8" y="477.0" width="1.6" height="6.0" fill="#222" />
<text x="2.5" y="539.0" font-size="12" text-anchor="start" fill="#111" font-weight="bold" >c</text>
<rect x="115.4" y="538.5" width="467.7" height="47.0" fill="#eeeeee" />
<rect x="136.0" y="561.0" width="491.8" height="2.8" fill="#111" />
<rect x="136.0" y="557.3" width="37.7" height="11.2" fill="#7f7f7f" />
<rect x="200.5" y="557.3" width="37.2" height="11.2" fill="#7f7f7f" />
<rect x="263.5" y="557.3" width="37.5" height="11.2" fill="#7f7f7f" />
<rect x="374.6" y="557.3" width="37.3" height="11.2" fill="#7f7f7f" />
<rect x="456.0" y="557.3" width="37.2" height="11.2" fill="#7f7f7f" />
<rect x="542.0" y="557.3" width="37.0" height="11.2" fill="#7f7f7f" />
<rect x="590.8" y="557.3" width="37.0" height="11.2" fill="#7f7f7f" />
<text x="326.5" y="552.3" font-size="9.2" text-anchor="start" fill="#222" font-style="italic" >PANK2</text>
<text x="181.9" y="583.3" font-size="9.4" text-anchor="start" fill="#222" >Deletion exon 1–6</text>
<line x1="124.0" y1="586.6" x2="200.7" y2="640.0" stroke="#111" stroke-width="3.3" />
<line x1="213.0" y1="640.0" x2="582.4" y2="585.5" stroke="#111" stroke-width="3.3" />
<line x1="381.5" y1="585.5" x2="447.2" y2="633.8" stroke="#111" stroke-width="3.3" />
<line x1="424.3" y1="588.3" x2="686.0" y2="626.0" stroke="#111" stroke-width="3.3" />
<line x1="37.2" y1="642.5" x2="415.2" y2="642.5" stroke="#aaa" stroke-width="0.5" />
<line x1="37.2" y1="648.5" x2="415.2" y2="648.5" stroke="#aaa" stroke-width="0.5" />
<text x="223.0" y="646.9" font-size="5.0" text-anchor="start" fill="#222" font-weight="bold" >p13</text>
<rect x="173.1" y="650.3" width="51.0" height="2.8" fill="#e04858" />
<text x="3.0" y="659.2" font-size="6.3" text-anchor="start" fill="#222" >Genes</text>
<text x="3.0" y="666.0" font-size="6.3" text-anchor="start" fill="#222" >Exons</text>
<line x1="37.2" y1="719.5" x2="415.2" y2="719.5" stroke="#7070b8" stroke-width="0.9" />
<line x1="37.2" y1="724.8" x2="415.2" y2="724.8" stroke="#b8b8e0" stroke-width="1.2" />
<line x1="37.2" y1="731.5" x2="415.2" y2="731.5" stroke="#eaa0a8" stroke-width="1.2" />
<line x1="37.2" y1="743.5" x2="415.2" y2="743.5" stroke="#e07078" stroke-width="1.2" />
<line x1="37.2" y1="729.5" x2="415.2" y2="729.5" stroke="#e0b830" stroke-width="0.8" stroke-dasharray="2,1.5"/>
<line x1="37.2" y1="728.5" x2="173.0" y2="728.5" stroke="#222" stroke-width="1.0" />
<line x1="223.3" y1="729.5" x2="415.2" y2="729.5" stroke="#222" stroke-width="0.9" />
<line x1="173.0" y1="775.5" x2="223.3" y2="775.5" stroke="#555" stroke-width="1.0" />
<path d="M40.0 722.6h1.2M44.0 731.6h1.2M50.4 722.6h1.2M57.2 717.0h1.2M58.0 713.2h1.2M58.5 725.6h1.2M59.0 745.3h1.2M59.0 751.6h1.2M60.0 735.6h1.2M63.0 710.8h1.2M65.6 707.3h1.2M65.0 711.6h1.2M66.0 721.6h1.2M66.0 726.6h1.2M65.0 737.1h1.2M66.5 738.1h1.2M67.4 711.6h1.2M68.0 721.6h1.2M69.0 732.6h1.2M70.9 721.9h1.2M75.0 725.6h1.2M78.2 724.6h1.2M79.6 746.1h1.2M81.0 746.6h1.2M83.4 712.6h1.2M84.9 718.4h1.2M84.0 727.6h1.2M85.5 735.1h1.2M87.0 737.6h1.2M88.4 743.2h1.2M95.0 731.6h1.2M105.9 733.6h1.2M109.4 718.4h1.2M113.0 727.6h1.2M116.1 739.4h1.2M115.0 735.6h1.2M117.6 725.4h1.2M122.8 738.0h1.2M122.0 734.6h1.2M125.0 731.6h1.2M128.0 730.6h1.2M131.0 729.6h1.2M135.0 729.6h1.2M134.5 720.5h1.2M135.7 738.0h1.2M136.0 742.4h1.2M140.0 732.6h1.2M147.0 733.6h1.2M148.0 742.6h1.2M150.0 718.6h1.2M151.0 733.6h1.2M148.2 716.1h1.2M150.0 733.6h1.2M150.0 740.6h1.2M149.7 727.6h1.2M150.3 714.6h1.2M155.0 735.6h1.2M152.6 731.6h1.2M164.9 727.2h1.2M181.0 773.0h1.2M186.2 769.5h1.2M191.2 770.1h1.2M208.7 764.2h1.2M209.6 779.7h1.2M221.8 780.9h1.2M222.7 778.8h1.2M192.0 776.6h1.2M224.1 725.3h1.2M227.3 723.7h1.2M228.3 726.9h1.2M231.5 726.9h1.2M227.9 739.8h1.2M237.9 746.2h1.2M239.2 726.9h1.2M246.6 722.1h1.2M248.0 725.6h1.2M258.4 744.0h1.2M380.5 731.8h1.2M402.3 717.3h1.2M402.3 725.3h1.2M400.0 726.6h1.2M397.5 731.8h1.2M403.0 748.5h1.2M411.3 736.6h1.2M399.7 724.4h1.2M404.2 726.3h1.2M61.0 727.6h1.2M62.0 729.6h1.2M63.0 732.6h1.2M64.0 724.6h1.2M62.0 741.6h1.2M56.0 739.6h1.2M70.0 727.6h1.2M72.0 733.6h1.2M77.0 731.6h1.2M90.0 729.6h1.2M99.0 727.6h1.2M101.0 733.6h1.2M119.0 728.6h1.2M126.0 726.6h1.2M143.0 727.6h1.2M145.0 729.6h1.2" stroke="#555" stroke-width="1.2" fill="none"/>
<line x1="37.9" y1="656.5" x2="52.5" y2="656.5" stroke="#a0a0a0" stroke-width="0.6" />
<line x1="37.5" y1="655.0" x2="37.5" y2="657.0" stroke="#888" stroke-width="0.4" />
<line x1="52.5" y1="655.0" x2="52.5" y2="657.0" stroke="#888" stroke-width="0.4" />
<line x1="56.9" y1="656.5" x2="60.5" y2="656.5" stroke="#a0a0a0" stroke-width="0.6" />
<line x1="56.5" y1="655.0" x2="56.5" y2="657.0" stroke="#888" stroke-width="0.4" />
<line x1="60.5" y1="655.0" x2="60.5" y2="657.0" stroke="#888" stroke-width="0.4" />
<line x1="62.7" y1="656.5" x2="72.2" y2="656.5" stroke="#a0a0a0" stroke-width="0.6" />
<line x1="62.5" y1="655.0" x2="62.5" y2="657.0" stroke="#888" stroke-width="0.4" />
<line x1="72.5" y1="655.0" x2="72.5" y2="657.0" stroke="#888" stroke-width="0.4" />
<line x1="75.1" y1="656.5" x2="89.0" y2="656.5" stroke="#a0a0a0" stroke-width="0.6" />
<line x1="75.5" y1="655.0" x2="75.5" y2="657.0" stroke="#888" stroke-width="0.4" />
<line x1="89.5" y1="655.0" x2="89.5" y2="657.0" stroke="#888" stroke-width="0.4" />
<line x1="105.8" y1="656.5" x2="129.5" y2="656.5" stroke="#a0a0a0" stroke-width="0.6" />
<line x1="105.5" y1="655.0" x2="105.5" y2="657.0" stroke="#888" stroke-width="0.4" />
<line x1="129.5" y1="655.0" x2="129.5" y2="657.0" stroke="#888" stroke-width="0.4" />
<line x1="135.3" y1="656.5" x2="158.7" y2="656.5" stroke="#a0a0a0" stroke-width="0.6" />
<line x1="135.5" y1="655.0" x2="135.5" y2="657.0" stroke="#888" stroke-width="0.4" />
<line x1="158.5" y1="655.0" x2="158.5" y2="657.0" stroke="#888" stroke-width="0.4" />
<line x1="163.8" y1="656.5" x2="167.4" y2="656.5" stroke="#a0a0a0" stroke-width="0.6" />
<line x1="163.5" y1="655.0" x2="163.5" y2="657.0" stroke="#888" stroke-width="0.4" />
<line x1="167.5" y1="655.0" x2="167.5" y2="657.0" stroke="#888" stroke-width="0.4" />
<line x1="181.3" y1="656.5" x2="201.0" y2="656.5" stroke="#a0a0a0" stroke-width="0.6" />
<line x1="181.5" y1="655.0" x2="181.5" y2="657.0" stroke="#888" stroke-width="0.4" />
<line x1="201.5" y1="655.0" x2="201.5" y2="657.0" stroke="#888" stroke-width="0.4" />
<line x1="236.0" y1="656.5" x2="292.9" y2="656.5" stroke="#a0a0a0" stroke-width="0.6" />
<line x1="236.5" y1="655.0" x2="236.5" y2="657.0" stroke="#888" stroke-width="0.4" />
<line x1="292.5" y1="655.0" x2="292.5" y2="657.0" stroke="#888" stroke-width="0.4" />
<line x1="379.9" y1="656.5" x2="406.1" y2="656.5" stroke="#a0a0a0" stroke-width="0.6" />
<line x1="379.5" y1="655.0" x2="379.5" y2="657.0" stroke="#888" stroke-width="0.4" />
<line x1="406.5" y1="655.0" x2="406.5" y2="657.0" stroke="#888" stroke-width="0.4" />
<line x1="408.3" y1="656.5" x2="412.0" y2="656.5" stroke="#a0a0a0" stroke-width="0.6" />
<line x1="408.5" y1="655.0" x2="408.5" y2="657.0" stroke="#888" stroke-width="0.4" />
<line x1="412.5" y1="655.0" x2="412.5" y2="657.0" stroke="#888" stroke-width="0.4" />
<rect x="39.0" y="660.2" width="1.2" height="1.9" fill="#dcdcee" stroke="#8a8ab4" stroke-width="0.4"/>
<rect x="41.0" y="660.2" width="1.2" height="1.9" fill="#dcdcee" stroke="#8a8ab4" stroke-width="0.4"/>
<rect x="44.0" y="660.2" width="1.2" height="1.9" fill="#dcdcee" stroke="#8a8ab4" stroke-width="0.4"/>
<rect x="45.5" y="660.2" width="1.2" height="1.9" fill="#dcdcee" stroke="#8a8ab4" stroke-width="0.4"/>
<rect x="47.0" y="660.2" width="1.2" height="1.9" fill="#dcdcee" stroke="#8a8ab4" stroke-width="0.4"/>
<rect x="58.0" y="660.2" width="1.2" height="1.9" fill="#dcdcee" stroke="#8a8ab4" stroke-width="0.4"/>
<rect x="59.5" y="660.2" width="1.2" height="1.9" fill="#dcdcee" stroke="#8a8ab4" stroke-width="0.4"/>
<rect x="63.0" y="660.2" width="1.5" height="1.9" fill="#dcdcee" stroke="#8a8ab4" stroke-width="0.4"/>
<rect x="65.0" y="660.2" width="1.5" height="1.9" fill="#dcdcee" stroke="#8a8ab4" stroke-width="0.4"/>
<rect x="67.0" y="660.2" width="1.5" height="1.9" fill="#dcdcee" stroke="#8a8ab4" stroke-width="0.4"/>
<rect x="69.0" y="660.2" width="1.2" height="1.9" fill="#dcdcee" stroke="#8a8ab4" stroke-width="0.4"/>
<rect x="71.0" y="660.2" width="1.2" height="1.9" fill="#dcdcee" stroke="#8a8ab4" stroke-width="0.4"/>
<rect x="76.0" y="660.2" width="1.5" height="1.9" fill="#dcdcee" stroke="#8a8ab4" stroke-width="0.4"/>
<rect x="78.0" y="660.2" width="2" height="1.9" fill="#dcdcee" stroke="#8a8ab4" stroke-width="0.4"/>
<rect x="81.0" y="660.2" width="1.5" height="1.9" fill="#dcdcee" stroke="#8a8ab4" stroke-width="0.4"/>
<rect x="84.0" y="660.2" width="2" height="1.9" fill="#dcdcee" stroke="#8a8ab4" stroke-width="0.4"/>
<rect x="86.5" y="660.2" width="1.5" height="1.9" fill="#dcdcee" stroke="#8a8ab4" stroke-width="0.4"/>
<rect x="106.0" y="660.2" width="1.2" height="1.9" fill="#dcdcee" stroke="#8a8ab4" stroke-width="0.4"/>
<rect x="109.0" y="660.2" width="1.5" height="1.9" fill="#dcdcee" stroke="#8a8ab4" stroke-width="0.4"/>
<rect x="111.0" y="660.2" width="1.5" height="1.9" fill="#dcdcee" stroke="#8a8ab4" stroke-width="0.4"/>
<rect x="113.0" y="660.2" width="2" height="1.9" fill="#dcdcee" stroke="#8a8ab4" stroke-width="0.4"/>
<rect x="116.0" y="660.2" width="1.2" height="1.9" fill="#dcdcee" stroke="#8a8ab4" stroke-width="0.4"/>
<rect x="121.0" y="660.2" width="1.2" height="1.9" fill="#dcdcee" stroke="#8a8ab4" stroke-width="0.4"/>
<rect x="135.3" y="660.2" width="1.5" height="1.9" fill="#dcdcee" stroke="#8a8ab4" stroke-width="0.4"/>
<rect x="137.3" y="660.2" width="2" height="1.9" fill="#dcdcee" stroke="#8a8ab4" stroke-width="0.4"/>
<rect x="140.0" y="660.2" width="1.8" height="1.9" fill="#dcdcee" stroke="#8a8ab4" stroke-width="0.4"/>
<rect x="147.7" y="660.2" width="1.5" height="1.9" fill="#dcdcee" stroke="#8a8ab4" stroke-width="0.4"/>
<rect x="150.0" y="660.2" width="2" height="1.9" fill="#dcdcee" stroke="#8a8ab4" stroke-width="0.4"/>
<rect x="153.0" y="660.2" width="2" height="1.9" fill="#dcdcee" stroke="#8a8ab4" stroke-width="0.4"/>
<rect x="156.0" y="660.2" width="2.5" height="1.9" fill="#dcdcee" stroke="#8a8ab4" stroke-width="0.4"/>
<rect x="164.0" y="660.2" width="1.5" height="1.9" fill="#dcdcee" stroke="#8a8ab4" stroke-width="0.4"/>
<rect x="166.0" y="660.2" width="1.4" height="1.9" fill="#dcdcee" stroke="#8a8ab4" stroke-width="0.4"/>
<path d="M120.0 659.8v2.6M122.5 659.8v2.6M129.0 659.8v2.6M181.3 659.8v2.6M186.4 659.8v2.6M188.0 659.8v2.6M190.0 659.8v2.6M191.5 659.8v2.6M193.0 659.8v2.6M197.0 659.8v2.6M201.0 659.8v2.6M209.0 659.8v2.6M228.0 659.8v2.6M231.6 659.8v2.6M238.0 659.8v2.6M239.0 659.8v2.6M246.9 659.8v2.6M248.0 659.8v2.6M258.3 659.8v2.6M265.1 659.8v2.6M292.4 659.8v2.6M379.9 659.8v2.6M397.4 659.8v2.6M399.6 659.8v2.6M402.5 659.8v2.6M404.7 659.8v2.6M407.3 659.8v2.6M409.8 659.8v2.6M411.7 659.8v2.6" stroke="#333" stroke-width="0.6" fill="none"/>
<text x="181.3" y="665.8" font-size="3.2" text-anchor="middle" fill="#333" >1</text>
<text x="197.0" y="665.8" font-size="3.2" text-anchor="middle" fill="#333" >7</text>
<text x="231.6" y="665.8" font-size="3.2" text-anchor="middle" fill="#333" >1</text>
<text x="258.3" y="665.8" font-size="3.2" text-anchor="middle" fill="#333" >4</text>
<text x="265.1" y="665.8" font-size="3.2" text-anchor="middle" fill="#333" >1</text>
<text x="379.9" y="665.8" font-size="3.2" text-anchor="middle" fill="#333" >1</text>
<text x="38.0" y="658.9" font-size="2.6" text-anchor="start" fill="#556" textLength="7" lengthAdjust="spacingAndGlyphs">ATRN</text>
<text x="76.0" y="658.9" font-size="2.6" text-anchor="start" fill="#556" textLength="9" lengthAdjust="spacingAndGlyphs">GSLB1</text>
<text x="185.0" y="658.9" font-size="2.6" text-anchor="start" fill="#556" textLength="8" lengthAdjust="spacingAndGlyphs">PSMF1</text>
<text x="260.0" y="658.9" font-size="2.6" text-anchor="start" fill="#556" textLength="9.5" lengthAdjust="spacingAndGlyphs">BMP2K</text>
<text x="389.3" y="658.9" font-size="2.6" text-anchor="start" fill="#556" textLength="4" lengthAdjust="spacingAndGlyphs">SMOX</text>
<text x="402.5" y="658.9" font-size="2.6" text-anchor="start" fill="#556" textLength="13" lengthAdjust="spacingAndGlyphs">LOC</text>
<rect x="208.5" y="655.6" width="23.3" height="1.8" fill="#d4d4ee" stroke="#9a9ac8" stroke-width="0.4"/>
<text x="65.0" y="814.0" font-size="9.6" text-anchor="start" fill="#222" >Chromosome 20</text>
<path d="M11.4,669.5 Q11.4,667 14.0,667 Q16.6,667 16.6,669.5 V722 L14.0,725.8 L16.6,729.6 V798 Q16.6,800.5 14.0,800.5 Q11.4,800.5 11.4,798 V729.6 L14.0,725.8 L11.4,722 Z" fill="url(#vW)" stroke="#aaa" stroke-width="0.6"/>
<rect x="11.7" y="677.9" width="4.6" height="8.3" fill="url(#vG)" />
<rect x="11.7" y="693.0" width="4.6" height="11.7" fill="url(#vG)" />
<rect x="11.7" y="750.7" width="4.6" height="6.3" fill="url(#vG)" />
<rect x="11.7" y="772.4" width="4.6" height="10.2" fill="url(#vG)" />
<rect x="11.7" y="786.4" width="4.6" height="2.6" fill="url(#vL)" />
<line x1="7.0" y1="675.5" x2="17.2" y2="675.5" stroke="#444" stroke-width="1.0" />
<line x1="7.0" y1="675.5" x2="9.5" y2="675.5" stroke="#d08080" stroke-width="1.0" />
<rect x="18.0" y="691.8" width="1.2" height="1.2" fill="#333" />
<rect x="18.2" y="761.9" width="1.2" height="1.2" fill="#333" />
<rect x="18.2" y="788.9" width="1.2" height="1.2" fill="#333" />
<line x1="447.5" y1="632.5" x2="541.0" y2="632.5" stroke="#444" stroke-width="0.5" />
<line x1="557.0" y1="632.5" x2="683.5" y2="632.5" stroke="#444" stroke-width="0.5" />
<text x="549.0" y="634.3" font-size="3.6" text-anchor="middle" fill="#333" >293 bp</text>
<text x="448.0" y="637.8" font-size="2.6" text-anchor="start" fill="#334" >chr20:3,869 kb</text>
<text x="569.0" y="637.8" font-size="2.6" text-anchor="start" fill="#334" >chr20:3,870 kb</text>
<line x1="458.5" y1="638.8" x2="458.5" y2="640.2" stroke="#666" stroke-width="0.5" />
<line x1="521.5" y1="638.8" x2="521.5" y2="640.2" stroke="#666" stroke-width="0.5" />
<line x1="602.5" y1="638.8" x2="602.5" y2="640.2" stroke="#666" stroke-width="0.5" />
<line x1="664.5" y1="638.8" x2="664.5" y2="640.2" stroke="#666" stroke-width="0.5" />
<rect x="447.5" y="642.6" width="236.0" height="1.0" fill="#9a9a9a" />
<rect x="447.5" y="643.6" width="236.0" height="1.6" fill="#c8c8c8" />
<rect x="447.5" y="645.2" width="236.0" height="1.0" fill="#9a9a9a" />
<rect x="447.5" y="652.8" width="236.0" height="1.8" fill="#b4b4b4" />
<path d="M447.5 657.45h103.5M558.0 657.45h125.5M447.5 660.39h170.7M625.4 660.39h32.8M669.3 660.39h14.2M447.5 663.33h18.9M471.0 663.33h154.7M630.7 663.33h14.2M663.3 663.33h20.2M447.5 666.27h10.4M462.8 666.27h111.9M580.9 666.27h61.8M661.7 666.27h21.8M447.5 669.21h38.0M497.3 669.21h141.7M647.1 669.21h36.4M447.5 672.15h53.6M505.9 672.15h153.6M678.0 672.15h5.5M447.5 675.09h76.5M528.8 675.09h111.6M660.0 675.09h23.5M447.5 678.03h220.1M675.2 678.03h8.3M447.5 680.97h12.2M465.4 680.97h195.5M665.9 680.97h17.6M447.5 683.91h8.2M462.5 683.91h58.8M527.7 683.91h155.8M447.5 686.85h109.0M568.7 686.85h114.8M447.5 689.79h111.3M571.8 689.79h111.7M447.5 692.73h113.7M574.9 692.73h108.6M447.5 695.67h116.0M578.0 695.67h105.5M447.5 698.61h118.4M581.1 698.61h102.4M447.5 701.55h120.7M584.2 701.55h99.3M447.5 704.49h123.1M587.4 704.49h96.1M454.8 707.43h118.2M590.5 707.43h93.0M447.5 710.37h1.1M456.2 710.37h119.1M593.6 710.37h89.9M447.5 713.31h2.8M458.1 713.31h119.5M596.7 713.31h86.8M447.5 716.25h5.7M460.7 716.25h119.3M599.8 716.25h83.7M447.5 719.19h8.7M463.3 719.19h119.1M602.9 719.19h80.6M447.5 722.13h11.6M465.8 722.13h118.9M606.1 722.13h77.4M447.5 725.07h14.5M468.4 725.07h118.7M609.2 725.07h74.3M447.5 728.01h17.4M471.0 728.01h118.4M612.3 728.01h71.2M447.5 730.95h20.1M473.6 730.95h118.2M615.4 730.95h68.1M447.5 733.89h22.4M476.3 733.89h117.8M618.5 733.89h65.0M447.5 736.83h24.7M479.0 736.83h117.5M621.6 736.83h61.9M447.5 739.77h27.0M481.7 739.77h117.1M624.8 739.77h58.7M447.5 742.71h29.3M484.4 742.71h116.8M627.9 742.71h55.6M447.5 745.65h31.7M487.2 745.65h116.3M631.0 745.65h52.5M447.5 748.59h34.2M490.2 748.59h115.6M634.1 748.59h49.4M447.5 751.53h36.8M493.3 751.53h114.9M637.2 751.53h46.3M447.5 754.47h39.3M496.4 754.47h114.2M640.3 754.47h43.2M447.5 757.41h41.9M499.6 757.41h113.4M447.5 760.35h44.4M503.6 760.35h59.5M447.5 763.29h47.0M507.6 763.29h56.7M447.5 766.23h49.6M510.9 766.23h54.6M447.5 769.17h52.3M512.9 769.17h53.7M447.5 772.11h54.9M515.0 772.11h119.7M447.5 775.05h57.5M517.0 775.05h120.0M447.5 777.99h59.3M519.0 777.99h120.4M447.5 780.93h61.1M521.0 780.93h120.8M447.5 783.87h62.8M522.9 783.87h121.2M447.5 786.81h64.6M524.9 786.81h121.6M447.5 789.75h66.3M526.8 789.75h122.0M447.5 792.69h67.6M529.2 792.69h122.0M447.5 795.63h68.8M531.5 795.63h122.0M447.5 798.57h69.9M533.9 798.57h122.0M447.5 801.51h71.1M536.2 801.51h122.0M447.5 804.45h72.3M538.6 804.45h122.0M447.5 807.39h73.5M540.9 807.39h122.0" stroke="#cfcfcf" stroke-width="2.3" fill="none"/>
<rect x="549.2" y="656.3" width="1.3" height="152.1" fill="#8c8c8c" />
<path d="M558.6 656.90h1.2M558.6 659.84h1.2M558.6 662.78h1.2M558.6 665.72h1.2M558.6 668.66h1.2M558.6 671.60h1.2M558.6 674.54h1.2M558.6 677.48h1.2M558.6 680.42h1.2M558.6 683.36h1.2M558.6 686.30h1.2M558.6 689.24h1.2M558.6 692.18h1.2M558.6 695.12h1.2M558.6 698.06h1.2M558.6 701.00h1.2M558.6 703.94h1.2M558.6 706.88h1.2M558.6 709.82h1.2M558.6 712.76h1.2M558.6 715.70h1.2M558.6 718.64h1.2M558.6 721.58h1.2M558.6 724.52h1.2M558.6 727.46h1.2M558.6 730.40h1.2M558.6 733.34h1.2M558.6 736.28h1.2M558.6 739.22h1.2M558.6 742.16h1.2M558.6 745.10h1.2M558.6 748.04h1.2M558.6 750.98h1.2M558.6 753.92h1.2M558.6 756.86h1.2M558.6 759.80h1.2M558.6 762.74h1.2M558.6 765.68h1.2M558.6 768.62h1.2M558.6 771.56h1.2M558.6 774.50h1.2M558.6 777.44h1.2M558.6 780.38h1.2M558.6 783.32h1.2M558.6 786.26h1.2M558.6 789.20h1.2M558.6 792.14h1.2M558.6 795.08h1.2M558.6 798.02h1.2M558.6 800.96h1.2M558.6 803.90h1.2M558.6 806.84h1.2" stroke="#222" stroke-width="0.9" fill="none"/>
<rect x="558.4" y="656.2" width="2.0" height="2.0" fill="#7a2a3a" />
<rect x="552.3" y="683.3" width="2.4" height="2.0" fill="#7a2a3a" />
<rect x="555.8" y="683.3" width="2.0" height="2.0" fill="#7a2a3a" />
<rect x="558.8" y="691.4" width="1.4" height="2.0" fill="#44507a" />
<rect x="559.1" y="698.8" width="2.2" height="2.0" fill="#d04030" />
<rect x="559.1" y="701.8" width="2.2" height="2.0" fill="#d04030" />
<rect x="590.5" y="656.2" width="1.0" height="2.0" fill="#d04040" />
<rect x="521.0" y="688.7" width="1.0" height="2.0" fill="#3a7a3a" />
<rect x="532.0" y="700.5" width="1.0" height="2.0" fill="#303080" />
<rect x="454.8" y="723.0" width="1.4" height="2.0" fill="#802030" />
<rect x="522.9" y="752.5" width="1.2" height="2.0" fill="#c04040" />
<rect x="626.5" y="688.7" width="1.0" height="2.0" fill="#c04040" />
<rect x="573.2" y="799.6" width="1.0" height="2.0" fill="#3a8a3a" />
<rect x="514.4" y="737.3" width="1.2" height="2.0" fill="#802030" />
<rect x="647.6" y="796.3" width="0.8" height="2.0" fill="#3a8a3a" />
<rect x="625.3" y="741.8" width="58.2" height="2.3" fill="#8a1010" />
<path d="M447.5 812.6h1.0M455.4 812.6h1.0M458.6 812.6h1.2M459.8 812.6h1.0M467.5 812.6h1.0M469.7 812.6h1.0M470.7 812.6h1.0M483.2 812.6h1.2M490.6 812.6h0.9M491.5 812.6h1.2M498.6 812.6h0.9M515.2 812.6h1.0M517.2 812.6h1.2M523.8 812.6h1.2M541.3 812.6h1.2M549.2 812.6h1.2M554.6 812.6h1.2M556.8 812.6h0.9M557.7 812.6h0.9M560.6 812.6h1.2M569.9 812.6h1.0M572.1 812.6h1.0M574.3 812.6h1.0M587.1 812.6h1.2M588.3 812.6h1.0M589.3 812.6h1.0M602.8 812.6h1.0M606.7 812.6h0.9M609.8 812.6h1.0M614.8 812.6h1.0M622.3 812.6h1.2M632.1 812.6h0.9M635.1 812.6h1.2M637.5 812.6h0.9M655.3 812.6h1.2M657.4 812.6h1.0M658.4 812.6h0.9M662.4 812.6h0.9M664.2 812.6h1.2M671.6 812.6h0.9M672.5 812.6h1.2M674.9 812.6h1.2M676.1 812.6h1.0" stroke="#d04040" stroke-width="2.6" fill="none"/>
<path d="M452.6 812.6h1.0M460.8 812.6h1.2M462.0 812.6h1.2M463.2 812.6h0.9M473.8 812.6h1.0M479.1 812.6h1.0M480.1 812.6h0.9M482.2 812.6h1.0M486.5 812.6h0.9M493.7 812.6h0.9M496.7 812.6h0.9M501.4 812.6h1.2M506.8 812.6h1.0M508.7 812.6h1.2M511.1 812.6h1.0M522.8 812.6h1.0M533.8 812.6h1.0M537.0 812.6h1.2M538.2 812.6h1.2M550.4 812.6h0.9M552.5 812.6h1.2M553.7 812.6h0.9M555.8 812.6h1.0M558.6 812.6h1.0M559.6 812.6h1.0M565.9 812.6h0.9M578.7 812.6h1.0M582.9 812.6h0.9M586.2 812.6h0.9M595.6 812.6h1.0M598.6 812.6h1.0M608.8 812.6h1.0M613.8 812.6h1.0M616.7 812.6h1.0M623.5 812.6h0.9M642.8 812.6h1.0M649.0 812.6h1.0M653.1 812.6h1.2M656.5 812.6h0.9M663.3 812.6h0.9M665.4 812.6h1.2M667.6 812.6h0.9M668.5 812.6h1.2M669.7 812.6h1.0M679.2 812.6h1.2" stroke="#3a9a3a" stroke-width="2.6" fill="none"/>
<path d="M448.5 812.6h1.0M450.5 812.6h1.2M453.6 812.6h0.9M454.5 812.6h0.9M464.1 812.6h1.0M465.1 812.6h1.2M466.3 812.6h1.2M468.5 812.6h1.2M471.7 812.6h0.9M474.8 812.6h1.0M477.0 812.6h0.9M477.9 812.6h1.2M481.0 812.6h1.2M488.6 812.6h1.0M492.7 812.6h1.0M497.6 812.6h1.0M499.5 812.6h1.0M503.8 812.6h1.0M504.8 812.6h1.0M518.4 812.6h1.0M519.4 812.6h1.2M520.6 812.6h1.0M521.6 812.6h1.2M526.0 812.6h1.0M527.0 812.6h1.2M528.2 812.6h1.0M529.2 812.6h1.2M530.4 812.6h1.0M531.4 812.6h1.2M536.0 812.6h1.0M539.4 812.6h0.9M540.3 812.6h1.0M548.0 812.6h1.2M566.8 812.6h1.2M568.0 812.6h0.9M568.9 812.6h1.0M576.3 812.6h1.2M577.5 812.6h1.2M592.5 812.6h0.9M596.6 812.6h1.0M600.8 812.6h1.0M601.8 812.6h1.0M603.8 812.6h1.0M604.8 812.6h1.0M617.7 812.6h1.2M624.4 812.6h1.0M625.4 812.6h1.2M626.6 812.6h1.2M629.9 812.6h1.0M633.0 812.6h0.9M644.8 812.6h0.9M646.6 812.6h1.2M652.1 812.6h1.0M681.3 812.6h0.9" stroke="#3a5ac0" stroke-width="2.6" fill="none"/>
<path d="M449.5 812.6h1.0M451.7 812.6h0.9M456.4 812.6h1.2M457.6 812.6h1.0M485.3 812.6h1.2M489.6 812.6h1.0M495.8 812.6h0.9M500.5 812.6h0.9M502.6 812.6h1.2M505.8 812.6h1.0M507.8 812.6h0.9M509.9 812.6h1.2M512.1 812.6h0.9M532.6 812.6h1.2M534.8 812.6h1.2M542.5 812.6h1.2M545.8 812.6h1.2M551.3 812.6h1.2M561.8 812.6h1.0M562.8 812.6h1.0M579.7 812.6h1.0M581.9 812.6h1.0M583.8 812.6h1.2M585.0 812.6h1.2M594.6 812.6h1.0M597.6 812.6h1.0M605.8 812.6h0.9M610.8 812.6h0.9M611.7 812.6h0.9M615.8 812.6h0.9M618.9 812.6h1.0M619.9 812.6h1.2M629.0 812.6h0.9M633.9 812.6h1.2M638.4 812.6h1.0M640.6 812.6h1.2M641.8 812.6h1.0M643.8 812.6h1.0M645.7 812.6h0.9M647.8 812.6h1.2M650.0 812.6h0.9M659.3 812.6h1.0M660.3 812.6h0.9M661.2 812.6h1.2M666.6 812.6h1.0M673.7 812.6h1.2M678.3 812.6h0.9M680.4 812.6h0.9M683.4 812.6h1.0" stroke="#e0902a" stroke-width="2.6" fill="none"/>
<path d="M472.6 812.6h1.2M475.8 812.6h1.2M484.4 812.6h0.9M487.4 812.6h1.2M494.6 812.6h1.2M513.0 812.6h1.0M514.0 812.6h1.2M516.2 812.6h1.0M525.0 812.6h1.0M543.7 812.6h0.9M544.6 812.6h1.2M547.0 812.6h1.0M563.8 812.6h1.2M565.0 812.6h0.9M570.9 812.6h1.2M573.1 812.6h1.2M575.3 812.6h1.0M580.7 812.6h1.2M590.3 812.6h1.0M591.3 812.6h1.2M593.4 812.6h1.2M599.6 812.6h1.2M607.6 812.6h1.2M612.6 812.6h1.2M621.1 812.6h1.2M627.8 812.6h1.2M630.9 812.6h1.2M636.3 812.6h1.2M639.4 812.6h1.2M650.9 812.6h1.2M654.3 812.6h1.0M670.7 812.6h0.9M677.1 812.6h1.2M682.2 812.6h1.2" stroke="#a0a0a0" stroke-width="2.6" fill="none"/>
<rect x="459.8" y="815.2" width="216.5" height="3.4" fill="#2a2a7a" />
<path d="M461.0 816.9h0.6M463.4 816.9h0.6M465.8 816.9h0.6M468.2 816.9h0.6M470.6 816.9h0.6M473.0 816.9h0.6M475.4 816.9h0.6M477.8 816.9h0.6M480.2 816.9h0.6M482.6 816.9h0.6M485.0 816.9h0.6M487.4 816.9h0.6M489.8 816.9h0.6M492.2 816.9h0.6M494.6 816.9h0.6M497.0 816.9h0.6M499.4 816.9h0.6M501.8 816.9h0.6M504.2 816.9h0.6M506.6 816.9h0.6M509.0 816.9h0.6M511.4 816.9h0.6M513.8 816.9h0.6M516.2 816.9h0.6M518.6 816.9h0.6M521.0 816.9h0.6M523.4 816.9h0.6M525.8 816.9h0.6M528.2 816.9h0.6M530.6 816.9h0.6M533.0 816.9h0.6M535.4 816.9h0.6M537.8 816.9h0.6M540.2 816.9h0.6M542.6 816.9h0.6M545.0 816.9h0.6M547.4 816.9h0.6M549.8 816.9h0.6M552.2 816.9h0.6M554.6 816.9h0.6M557.0 816.9h0.6M559.4 816.9h0.6M561.8 816.9h0.6M564.2 816.9h0.6M566.6 816.9h0.6M569.0 816.9h0.6M571.4 816.9h0.6M573.8 816.9h0.6M576.2 816.9h0.6M578.6 816.9h0.6M581.0 816.9h0.6M583.4 816.9h0.6M585.8 816.9h0.6M588.2 816.9h0.6M590.6 816.9h0.6M593.0 816.9h0.6M595.4 816.9h0.6M597.8 816.9h0.6M600.2 816.9h0.6M602.6 816.9h0.6M605.0 816.9h0.6M607.4 816.9h0.6M609.8 816.9h0.6M612.2 816.9h0.6M614.6 816.9h0.6M617.0 816.9h0.6M619.4 816.9h0.6M621.8 816.9h0.6M624.2 816.9h0.6M626.6 816.9h0.6M629.0 816.9h0.6M631.4 816.9h0.6M633.8 816.9h0.6M636.2 816.9h0.6M638.6 816.9h0.6M641.0 816.9h0.6M643.4 816.9h0.6M645.8 816.9h0.6M648.2 816.9h0.6M650.6 816.9h0.6M653.0 816.9h0.6M655.4 816.9h0.6M657.8 816.9h0.6M660.2 816.9h0.6M662.6 816.9h0.6M665.0 816.9h0.6M667.4 816.9h0.6M669.8 816.9h0.6M672.2 816.9h0.6M674.6 816.9h0.6" stroke="#8a8ad0" stroke-width="1.0" fill="none"/>
<line x1="447.5" y1="816.5" x2="459.8" y2="816.5" stroke="#8888c0" stroke-width="0.6" />
<text x="566.0" y="833.8" font-size="9.3" text-anchor="middle" fill="#222" >Exon 4</text>
<text x="1.8" y="854.7" font-size="12" text-anchor="start" fill="#111" font-weight="bold" >d</text>
<line x1="72.5" y1="855.5" x2="648.9" y2="855.5" stroke="#888" stroke-width="0.6" />
<line x1="72.5" y1="866.5" x2="648.9" y2="866.5" stroke="#888" stroke-width="0.6" />
<text x="351.6" y="864.2" font-size="6.6" text-anchor="start" fill="#222" font-weight="bold" >q15.3</text>
<rect x="303.9" y="869.4" width="129.8" height="2.4" fill="#d42a35" />
<rect x="303.9" y="872.6" width="129.8" height="2.4" fill="#d42a35" />
<text x="43.2" y="886.8" font-size="7.0" text-anchor="end" fill="#222" >Genes</text>
<text x="43.2" y="895.4" font-size="7.0" text-anchor="end" fill="#222" >Exons</text>
<line x1="72.0" y1="954.2" x2="648.4" y2="954.2" stroke="#a0a0cc" stroke-width="1.2" />
<line x1="72.0" y1="974.1" x2="648.4" y2="974.1" stroke="#a0a0cc" stroke-width="1.2" />
<line x1="72.0" y1="1033.9" x2="648.4" y2="1033.9" stroke="#d8949e" stroke-width="1.2" />
<line x1="72.0" y1="1053.5" x2="648.4" y2="1053.5" stroke="#c8848e" stroke-width="1.1" />
<line x1="72.0" y1="1004.5" x2="648.4" y2="1004.5" stroke="#e8c840" stroke-width="1.0" stroke-dasharray="2,1.5"/>
<line x1="72.0" y1="1003.5" x2="304.3" y2="1003.5" stroke="#222" stroke-width="1.2" />
<line x1="304.3" y1="1004.5" x2="648.4" y2="1004.5" stroke="#444" stroke-width="0.8" />
<line x1="304.3" y1="1098.0" x2="433.5" y2="1098.0" stroke="#222" stroke-width="1.5" />
<path d="M76.7 1024.2h1.5M84.0 1000.2h1.5M99.8 970.9h1.5M120.2 1014.2h1.5M127.9 1003.0h1.5M128.8 975.0h1.5M132.4 1000.2h1.5M135.6 1013.8h1.5M136.9 1021.0h1.5M134.7 1030.5h1.5M153.7 994.4h1.5M155.0 1002.0h1.5M155.0 1016.0h1.5M193.9 1026.5h1.5M199.4 1000.8h1.5M198.9 998.9h1.5M205.7 1007.5h1.5M213.0 997.0h1.5M219.7 1024.2h1.5M222.9 960.0h1.5M227.9 1013.4h1.5M292.1 1027.8h1.5M315.7 1095.2h1.5M322.4 1076.2h1.5M327.0 1077.7h1.5M327.9 1076.2h1.5M320.2 1099.8h1.5M349.6 1101.7h1.5M369.0 1090.8h1.5M370.4 1091.0h1.5M373.3 1090.0h1.5M372.8 1093.8h1.5M376.6 1092.3h1.5M394.6 1086.2h1.5M396.0 1092.3h1.5M470.5 991.4h1.5M470.0 1014.0h1.5M472.9 1026.0h1.5M473.9 1028.3h1.5M533.1 1007.0h1.5M546.0 1011.8h1.5M548.8 1011.8h1.5M547.4 1005.5h1.5M559.2 1010.8h1.5M563.0 1003.8h1.5M571.1 1017.5h1.5M574.4 1016.5h1.5M579.2 1015.5h1.5M577.3 977.5h1.5M582.0 1008.8h1.5M583.9 1002.8h1.5M582.0 999.0h1.5M586.8 996.5h1.5M589.0 1001.8h1.5M589.6 1010.8h1.5M587.7 1020.8h1.5M591.5 1017.9h1.5M593.9 999.4h1.5M593.4 980.9h1.5M594.3 992.8h1.5M595.8 1003.6h1.5M598.0 999.8h1.5M609.0 995.1h1.5M619.5 990.4h1.5M620.9 1004.6h1.5M621.9 1011.8h1.5M624.2 1038.8h1.5M628.0 1037.8h1.5M623.3 980.0h1.5M624.2 983.8h1.5M627.1 981.9h1.5M625.7 991.4h1.5M623.8 991.4h1.5M624.2 1001.8h1.5M628.0 1008.4h1.5M630.4 1014.0h1.5M625.7 1018.9h1.5M631.3 1020.2h1.5M631.3 1023.5h1.5M628.5 1024.5h1.5M638.9 994.1h1.5M639.9 1007.0h1.5M645.6 1005.5h1.5M632.3 999.0h1.5" stroke="#444" stroke-width="1.5" fill="none"/>
<line x1="72.5" y1="879.5" x2="351.7" y2="879.5" stroke="#555" stroke-width="0.7" />
<line x1="368.7" y1="879.5" x2="397.6" y2="879.5" stroke="#555" stroke-width="0.7" />
<line x1="465.3" y1="879.5" x2="476.4" y2="879.5" stroke="#555" stroke-width="0.7" />
<line x1="532.8" y1="879.5" x2="548.5" y2="879.5" stroke="#555" stroke-width="0.7" />
<line x1="561.0" y1="879.5" x2="648.5" y2="879.5" stroke="#555" stroke-width="0.7" />
<line x1="72.5" y1="878.0" x2="72.5" y2="881.4" stroke="#555" stroke-width="0.6" />
<line x1="182.5" y1="878.0" x2="182.5" y2="881.4" stroke="#555" stroke-width="0.6" />
<line x1="194.5" y1="878.0" x2="194.5" y2="881.4" stroke="#555" stroke-width="0.6" />
<line x1="217.5" y1="878.0" x2="217.5" y2="881.4" stroke="#555" stroke-width="0.6" />
<line x1="219.5" y1="878.0" x2="219.5" y2="881.4" stroke="#555" stroke-width="0.6" />
<line x1="305.5" y1="878.0" x2="305.5" y2="881.4" stroke="#555" stroke-width="0.6" />
<line x1="321.5" y1="878.0" x2="321.5" y2="881.4" stroke="#555" stroke-width="0.6" />
<line x1="351.5" y1="878.0" x2="351.5" y2="881.4" stroke="#555" stroke-width="0.6" />
<line x1="368.5" y1="878.0" x2="368.5" y2="881.4" stroke="#555" stroke-width="0.6" />
<line x1="397.5" y1="878.0" x2="397.5" y2="881.4" stroke="#555" stroke-width="0.6" />
<line x1="465.5" y1="878.0" x2="465.5" y2="881.4" stroke="#555" stroke-width="0.6" />
<line x1="476.5" y1="878.0" x2="476.5" y2="881.4" stroke="#555" stroke-width="0.6" />
<line x1="532.5" y1="878.0" x2="532.5" y2="881.4" stroke="#555" stroke-width="0.6" />
<line x1="548.5" y1="878.0" x2="548.5" y2="881.4" stroke="#555" stroke-width="0.6" />
<line x1="561.5" y1="878.0" x2="561.5" y2="881.4" stroke="#555" stroke-width="0.6" />
<line x1="589.5" y1="878.0" x2="589.5" y2="881.4" stroke="#555" stroke-width="0.6" />
<line x1="627.5" y1="878.0" x2="627.5" y2="881.4" stroke="#555" stroke-width="0.6" />
<line x1="636.5" y1="878.0" x2="636.5" y2="881.4" stroke="#555" stroke-width="0.6" />
<line x1="639.5" y1="878.0" x2="639.5" y2="881.4" stroke="#555" stroke-width="0.6" />
<line x1="648.5" y1="878.0" x2="648.5" y2="881.4" stroke="#555" stroke-width="0.6" />
<text x="94.0" y="886.6" font-size="5.0" text-anchor="start" fill="#222" textLength="18.5" lengthAdjust="spacingAndGlyphs">TP53BP1</text>
<text x="144.6" y="886.6" font-size="5.0" text-anchor="start" fill="#222" textLength="21.8" lengthAdjust="spacingAndGlyphs">RNU6-28P</text>
<text x="198.0" y="886.6" font-size="5.0" text-anchor="start" fill="#222" textLength="14.4" lengthAdjust="spacingAndGlyphs">MAP1A</text>
<text x="254.5" y="886.6" font-size="5.0" text-anchor="start" fill="#222" textLength="17.0" lengthAdjust="spacingAndGlyphs">PPIP5K1</text>
<text x="307.2" y="886.6" font-size="5.0" text-anchor="start" fill="#222" textLength="17.5" lengthAdjust="spacingAndGlyphs">CKMT1B</text>
<text x="330.2" y="886.6" font-size="5.0" text-anchor="start" fill="#222" textLength="11.1" lengthAdjust="spacingAndGlyphs">STRC</text>
<text x="372.4" y="886.6" font-size="5.0" text-anchor="start" fill="#222" textLength="21.6" lengthAdjust="spacingAndGlyphs">CATSPER2</text>
<text x="462.0" y="886.6" font-size="5.0" text-anchor="start" fill="#222" textLength="18.0" lengthAdjust="spacingAndGlyphs">CKMT1A</text>
<text x="527.4" y="886.6" font-size="5.0" text-anchor="start" fill="#222" textLength="25.8" lengthAdjust="spacingAndGlyphs">CATSPER2P1</text>
<text x="562.0" y="886.6" font-size="5.0" text-anchor="start" fill="#222" textLength="13.1" lengthAdjust="spacingAndGlyphs">PDIA3</text>
<text x="587.7" y="886.6" font-size="5.0" text-anchor="start" fill="#222" textLength="9.4" lengthAdjust="spacingAndGlyphs">ELL3</text>
<text x="646.0" y="886.6" font-size="5.0" text-anchor="start" fill="#222" textLength="2.5" lengthAdjust="spacingAndGlyphs">?</text>
<path d="M76.4 887.6v2.8M83.6 887.6v2.8M84.8 887.6v2.8M98.6 887.6v2.8M99.9 887.6v2.8M101.2 887.6v2.8M120.9 887.6v2.8M128.0 887.6v2.8M130.0 887.6v2.8M132.5 887.6v2.8M134.5 887.6v2.8M136.6 887.6v2.8M153.4 887.6v2.8M154.6 887.6v2.8M155.8 887.6v2.8M182.9 887.6v2.8M194.5 887.6v2.8M215.5 887.6v2.8M217.0 887.6v2.8M219.5 887.6v2.8M222.0 887.6v2.8M227.7 887.6v2.8M257.9 887.6v2.8M267.6 887.6v2.8M272.8 887.6v2.8M307.0 887.6v2.8M383.2 887.6v2.8M531.0 887.6v2.8M548.0 887.6v2.8M558.0 887.6v2.8M563.0 887.6v2.8M566.0 887.6v2.8M569.0 887.6v2.8M579.0 887.6v2.8M595.0 887.6v2.8M645.0 887.6v2.8M647.0 887.6v2.8" stroke="#222" stroke-width="0.7" fill="none"/>
<rect x="278.0" y="887.9" width="4" height="2.4" fill="#d0d0ee" stroke="#4040a0" stroke-width="0.5"/>
<rect x="286.0" y="887.9" width="4" height="2.4" fill="#d0d0ee" stroke="#4040a0" stroke-width="0.5"/>
<rect x="292.5" y="887.9" width="5.8" height="2.4" fill="#d0d0ee" stroke="#4040a0" stroke-width="0.5"/>
<rect x="310.4" y="887.9" width="5.8" height="2.4" fill="#d0d0ee" stroke="#4040a0" stroke-width="0.5"/>
<rect x="318.8" y="887.9" width="4.8" height="2.4" fill="#d0d0ee" stroke="#4040a0" stroke-width="0.5"/>
<rect x="324.6" y="887.9" width="4.7" height="2.4" fill="#d0d0ee" stroke="#4040a0" stroke-width="0.5"/>
<rect x="332.0" y="887.9" width="4" height="2.4" fill="#d0d0ee" stroke="#4040a0" stroke-width="0.5"/>
<rect x="337.0" y="887.9" width="4" height="2.4" fill="#d0d0ee" stroke="#4040a0" stroke-width="0.5"/>
<rect x="342.0" y="887.9" width="4" height="2.4" fill="#d0d0ee" stroke="#4040a0" stroke-width="0.5"/>
<rect x="347.0" y="887.9" width="3.4" height="2.4" fill="#d0d0ee" stroke="#4040a0" stroke-width="0.5"/>
<rect x="372.7" y="887.9" width="1.6" height="2.4" fill="#d0d0ee" stroke="#4040a0" stroke-width="0.5"/>
<rect x="376.6" y="887.9" width="1.6" height="2.4" fill="#d0d0ee" stroke="#4040a0" stroke-width="0.5"/>
<rect x="394.0" y="887.9" width="2.4" height="2.4" fill="#d0d0ee" stroke="#4040a0" stroke-width="0.5"/>
<rect x="463.0" y="887.9" width="1.5" height="2.4" fill="#d0d0ee" stroke="#4040a0" stroke-width="0.5"/>
<rect x="466.0" y="887.9" width="1.5" height="2.4" fill="#d0d0ee" stroke="#4040a0" stroke-width="0.5"/>
<rect x="535.0" y="887.9" width="1.5" height="2.4" fill="#d0d0ee" stroke="#4040a0" stroke-width="0.5"/>
<rect x="537.0" y="887.9" width="1.5" height="2.4" fill="#d0d0ee" stroke="#4040a0" stroke-width="0.5"/>
<rect x="550.0" y="887.9" width="1.5" height="2.4" fill="#d0d0ee" stroke="#4040a0" stroke-width="0.5"/>
<rect x="580.0" y="887.9" width="1.5" height="2.4" fill="#d0d0ee" stroke="#4040a0" stroke-width="0.5"/>
<rect x="582.0" y="887.9" width="2" height="2.4" fill="#d0d0ee" stroke="#4040a0" stroke-width="0.5"/>
<rect x="584.0" y="887.9" width="2" height="2.4" fill="#d0d0ee" stroke="#4040a0" stroke-width="0.5"/>
<rect x="586.0" y="887.9" width="1.5" height="2.4" fill="#d0d0ee" stroke="#4040a0" stroke-width="0.5"/>
<rect x="588.0" y="887.9" width="3" height="2.4" fill="#d0d0ee" stroke="#4040a0" stroke-width="0.5"/>
<rect x="623.0" y="887.9" width="2" height="2.4" fill="#d0d0ee" stroke="#4040a0" stroke-width="0.5"/>
<rect x="626.0" y="887.9" width="2" height="2.4" fill="#d0d0ee" stroke="#4040a0" stroke-width="0.5"/>
<rect x="631.0" y="887.9" width="1.5" height="2.4" fill="#d0d0ee" stroke="#4040a0" stroke-width="0.5"/>
<rect x="199" y="887.8" width="14.7" height="2.6" fill="none" stroke="#4040a0" stroke-width="0.6"/>
<rect x="612" y="887.8" width="18.0" height="2.6" fill="none" stroke="#4040a0" stroke-width="0.6"/>
<rect x="595.5" y="877.8" width="31.5" height="3.2" fill="#d8d8f0" stroke="#7070b8" stroke-width="0.5"/>
<text x="97.0" y="895.4" font-size="5.4" text-anchor="start" fill="#111" >13</text>
<text x="118.0" y="895.4" font-size="5.4" text-anchor="start" fill="#111" >12</text>
<text x="182.0" y="895.4" font-size="5.4" text-anchor="start" fill="#111" >1</text>
<text x="193.3" y="895.4" font-size="5.4" text-anchor="start" fill="#111" >1</text>
<text x="255.5" y="895.4" font-size="5.4" text-anchor="start" fill="#111" >31</text>
<text x="305.2" y="895.4" font-size="5.4" text-anchor="start" fill="#111" >1</text>
<text x="531.5" y="895.4" font-size="5.4" text-anchor="start" fill="#111" >4</text>
<text x="561.8" y="895.4" font-size="5.4" text-anchor="start" fill="#111" >2</text>
<text x="564.8" y="895.4" font-size="5.4" text-anchor="start" fill="#111" >3</text>
<text x="594.5" y="895.4" font-size="5.4" text-anchor="start" fill="#111" >2</text>
<text x="645.8" y="895.4" font-size="5.4" text-anchor="start" fill="#111" >7</text>
<text x="337.0" y="1130.5" font-size="9.5" text-anchor="start" fill="#222" >Chromosome 15</text>
<path d="M32.3,902 Q32.3,898.5 35.9,898.5 Q39.5,898.5 39.5,902 V905.5 L38.2,907.5 V914.5 L39.5,916.5 V933.5 L35.9,940.6 L39.5,944.6 V1121 Q39.5,1124 35.9,1124 Q32.3,1124 32.3,1121 V944.6 L35.9,940.6 L32.3,933.5 V916.5 L33.599999999999994,914.5 V907.5 L32.3,905.5 Z" fill="url(#vW)" stroke="#aaa" stroke-width="0.6"/>
<rect x="33.8" y="907.5" width="4.2" height="7.0" fill="url(#vL)" />
<rect x="32.6" y="955.8" width="6.6" height="4.0" fill="url(#vL)" />
<rect x="32.6" y="966.0" width="6.6" height="1.2" fill="url(#vL)" />
<rect x="32.6" y="973.0" width="6.6" height="13.2" fill="url(#vG)" />
<rect x="32.6" y="997.8" width="6.6" height="9.2" fill="url(#vG)" />
<rect x="32.6" y="1015.8" width="6.6" height="12.9" fill="url(#vG)" />
<rect x="32.6" y="1070.6" width="6.6" height="7.4" fill="url(#vL)" />
<rect x="32.6" y="1086.8" width="6.6" height="7.5" fill="url(#vL)" />
<rect x="32.6" y="1107.0" width="6.6" height="8.8" fill="url(#vL)" />
<line x1="30.1" y1="994.5" x2="41.3" y2="994.5" stroke="#333" stroke-width="1.1" />
<line x1="25.0" y1="994.5" x2="27.5" y2="994.5" stroke="#d06060" stroke-width="0.8" />
<line x1="34.6" y1="43.5" x2="639.5" y2="43.5" stroke="#777" stroke-width="1.0" />
<line x1="639.5" y1="43.6" x2="639.5" y2="232.0" stroke="#777" stroke-width="1.0" />
<line x1="34.6" y1="232.5" x2="639.5" y2="232.5" stroke="#666" stroke-width="1.0" />
<line x1="34.5" y1="43.1" x2="34.5" y2="232.5" stroke="#555" stroke-width="1.0" />
<line x1="31.6" y1="43.5" x2="34.6" y2="43.5" stroke="#555" stroke-width="0.8" />
<text x="28.6" y="46.6" font-size="8.4" text-anchor="end" fill="#222" >3.0</text>
<line x1="31.6" y1="59.5" x2="34.6" y2="59.5" stroke="#555" stroke-width="0.8" />
<text x="28.6" y="62.3" font-size="8.4" text-anchor="end" fill="#222" >2.5</text>
<line x1="31.6" y1="75.5" x2="34.6" y2="75.5" stroke="#555" stroke-width="0.8" />
<text x="28.6" y="78.0" font-size="8.4" text-anchor="end" fill="#222" >2.0</text>
<line x1="31.6" y1="90.5" x2="34.6" y2="90.5" stroke="#555" stroke-width="0.8" />
<text x="28.6" y="93.7" font-size="8.4" text-anchor="end" fill="#222" >1.5</text>
<line x1="31.6" y1="106.5" x2="34.6" y2="106.5" stroke="#555" stroke-width="0.8" />
<text x="28.6" y="109.4" font-size="8.4" text-anchor="end" fill="#222" >1.0</text>
<line x1="31.6" y1="122.5" x2="34.6" y2="122.5" stroke="#555" stroke-width="0.8" />
<text x="28.6" y="125.1" font-size="8.4" text-anchor="end" fill="#222" >0.5</text>
<line x1="31.6" y1="137.5" x2="34.6" y2="137.5" stroke="#555" stroke-width="0.8" />
<text x="28.6" y="140.8" font-size="8.4" text-anchor="end" fill="#222" >0.0</text>
<line x1="31.6" y1="153.5" x2="34.6" y2="153.5" stroke="#555" stroke-width="0.8" />
<text x="28.6" y="156.5" font-size="8.4" text-anchor="end" fill="#222" >−0.5</text>
<line x1="31.6" y1="169.5" x2="34.6" y2="169.5" stroke="#555" stroke-width="0.8" />
<text x="28.6" y="172.2" font-size="8.4" text-anchor="end" fill="#222" >−1.0</text>
<line x1="31.6" y1="184.5" x2="34.6" y2="184.5" stroke="#555" stroke-width="0.8" />
<text x="28.6" y="187.9" font-size="8.4" text-anchor="end" fill="#222" >−1.5</text>
<line x1="31.6" y1="200.5" x2="34.6" y2="200.5" stroke="#555" stroke-width="0.8" />
<text x="28.6" y="203.6" font-size="8.4" text-anchor="end" fill="#222" >−2.0</text>
<line x1="31.6" y1="216.5" x2="34.6" y2="216.5" stroke="#555" stroke-width="0.8" />
<text x="28.6" y="219.3" font-size="8.4" text-anchor="end" fill="#222" >−2.5</text>
<line x1="31.6" y1="232.5" x2="34.6" y2="232.5" stroke="#555" stroke-width="0.8" />
<text x="28.6" y="235.0" font-size="8.4" text-anchor="end" fill="#222" >−3.0</text>
<line x1="34.5" y1="232.0" x2="34.5" y2="235.0" stroke="#555" stroke-width="0.8" />
<text x="34.6" y="244.2" font-size="8.4" text-anchor="middle" fill="#222" >0</text>
<line x1="93.5" y1="232.0" x2="93.5" y2="235.0" stroke="#555" stroke-width="0.8" />
<text x="93.5" y="244.2" font-size="8.4" text-anchor="middle" fill="#222" >5 Mb</text>
<line x1="152.5" y1="232.0" x2="152.5" y2="235.0" stroke="#555" stroke-width="0.8" />
<text x="152.4" y="244.2" font-size="8.4" text-anchor="middle" fill="#222" >10 Mb</text>
<line x1="211.5" y1="232.0" x2="211.5" y2="235.0" stroke="#555" stroke-width="0.8" />
<text x="211.3" y="244.2" font-size="8.4" text-anchor="middle" fill="#222" >15 Mb</text>
<line x1="270.5" y1="232.0" x2="270.5" y2="235.0" stroke="#555" stroke-width="0.8" />
<text x="270.2" y="244.2" font-size="8.4" text-anchor="middle" fill="#222" >20 Mb</text>
<line x1="329.5" y1="232.0" x2="329.5" y2="235.0" stroke="#555" stroke-width="0.8" />
<text x="329.1" y="244.2" font-size="8.4" text-anchor="middle" fill="#222" >25 Mb</text>
<line x1="388.5" y1="232.0" x2="388.5" y2="235.0" stroke="#555" stroke-width="0.8" />
<text x="388.0" y="244.2" font-size="8.4" text-anchor="middle" fill="#222" >30 Mb</text>
<line x1="446.5" y1="232.0" x2="446.5" y2="235.0" stroke="#555" stroke-width="0.8" />
<text x="446.9" y="244.2" font-size="8.4" text-anchor="middle" fill="#222" >35 Mb</text>
<line x1="505.5" y1="232.0" x2="505.5" y2="235.0" stroke="#555" stroke-width="0.8" />
<text x="505.8" y="244.2" font-size="8.4" text-anchor="middle" fill="#222" >40 Mb</text>
<line x1="564.5" y1="232.0" x2="564.5" y2="235.0" stroke="#555" stroke-width="0.8" />
<text x="564.7" y="244.2" font-size="8.4" text-anchor="middle" fill="#222" >45 Mb</text>
<line x1="623.5" y1="232.0" x2="623.5" y2="235.0" stroke="#555" stroke-width="0.8" />
<text x="623.6" y="244.2" font-size="8.4" text-anchor="middle" fill="#222" >50 Mb</text>
<line x1="34.7" y1="310.5" x2="639.1" y2="310.5" stroke="#777" stroke-width="1.0" />
<line x1="639.5" y1="310.4" x2="639.5" y2="498.5" stroke="#777" stroke-width="1.0" />
<line x1="34.7" y1="498.5" x2="639.1" y2="498.5" stroke="#666" stroke-width="1.0" />
<line x1="34.5" y1="309.9" x2="34.5" y2="499.0" stroke="#555" stroke-width="1.0" />
<line x1="31.7" y1="310.5" x2="34.7" y2="310.5" stroke="#555" stroke-width="0.8" />
<text x="28.6" y="313.4" font-size="8.4" text-anchor="end" fill="#222" >3.0</text>
<line x1="31.7" y1="326.5" x2="34.7" y2="326.5" stroke="#555" stroke-width="0.8" />
<text x="28.6" y="329.1" font-size="8.4" text-anchor="end" fill="#222" >2.5</text>
<line x1="31.7" y1="341.5" x2="34.7" y2="341.5" stroke="#555" stroke-width="0.8" />
<text x="28.6" y="344.8" font-size="8.4" text-anchor="end" fill="#222" >2.0</text>
<line x1="31.7" y1="357.5" x2="34.7" y2="357.5" stroke="#555" stroke-width="0.8" />
<text x="28.6" y="360.4" font-size="8.4" text-anchor="end" fill="#222" >1.5</text>
<line x1="31.7" y1="373.5" x2="34.7" y2="373.5" stroke="#555" stroke-width="0.8" />
<text x="28.6" y="376.1" font-size="8.4" text-anchor="end" fill="#222" >1.0</text>
<line x1="31.7" y1="388.5" x2="34.7" y2="388.5" stroke="#555" stroke-width="0.8" />
<text x="28.6" y="391.8" font-size="8.4" text-anchor="end" fill="#222" >0.5</text>
<line x1="31.7" y1="404.5" x2="34.7" y2="404.5" stroke="#555" stroke-width="0.8" />
<text x="28.6" y="407.5" font-size="8.4" text-anchor="end" fill="#222" >0.0</text>
<line x1="31.7" y1="420.5" x2="34.7" y2="420.5" stroke="#555" stroke-width="0.8" />
<text x="28.6" y="423.1" font-size="8.4" text-anchor="end" fill="#222" >−0.5</text>
<line x1="31.7" y1="435.5" x2="34.7" y2="435.5" stroke="#555" stroke-width="0.8" />
<text x="28.6" y="438.8" font-size="8.4" text-anchor="end" fill="#222" >−1.0</text>
<line x1="31.7" y1="451.5" x2="34.7" y2="451.5" stroke="#555" stroke-width="0.8" />
<text x="28.6" y="454.5" font-size="8.4" text-anchor="end" fill="#222" >−1.5</text>
<line x1="31.7" y1="467.5" x2="34.7" y2="467.5" stroke="#555" stroke-width="0.8" />
<text x="28.6" y="470.2" font-size="8.4" text-anchor="end" fill="#222" >−2.0</text>
<line x1="31.7" y1="482.5" x2="34.7" y2="482.5" stroke="#555" stroke-width="0.8" />
<text x="28.6" y="485.8" font-size="8.4" text-anchor="end" fill="#222" >−2.5</text>
<line x1="31.7" y1="498.5" x2="34.7" y2="498.5" stroke="#555" stroke-width="0.8" />
<text x="28.6" y="501.5" font-size="8.4" text-anchor="end" fill="#222" >−3.0</text>
<line x1="34.5" y1="498.5" x2="34.5" y2="501.5" stroke="#555" stroke-width="0.8" />
<text x="34.8" y="510.6" font-size="8.4" text-anchor="middle" fill="#222" >0</text>
<line x1="79.5" y1="498.5" x2="79.5" y2="501.5" stroke="#555" stroke-width="0.8" />
<text x="79.4" y="510.6" font-size="8.4" text-anchor="middle" fill="#222" >10 Mb</text>
<line x1="124.5" y1="498.5" x2="124.5" y2="501.5" stroke="#555" stroke-width="0.8" />
<text x="124.0" y="510.6" font-size="8.4" text-anchor="middle" fill="#222" >20 Mb</text>
<line x1="168.5" y1="498.5" x2="168.5" y2="501.5" stroke="#555" stroke-width="0.8" />
<text x="168.7" y="510.6" font-size="8.4" text-anchor="middle" fill="#222" >30 Mb</text>
<line x1="213.5" y1="498.5" x2="213.5" y2="501.5" stroke="#555" stroke-width="0.8" />
<text x="213.3" y="510.6" font-size="8.4" text-anchor="middle" fill="#222" >40 Mb</text>
<line x1="257.5" y1="498.5" x2="257.5" y2="501.5" stroke="#555" stroke-width="0.8" />
<text x="257.9" y="510.6" font-size="8.4" text-anchor="middle" fill="#222" >50 Mb</text>
<line x1="302.5" y1="498.5" x2="302.5" y2="501.5" stroke="#555" stroke-width="0.8" />
<text x="302.6" y="510.6" font-size="8.4" text-anchor="middle" fill="#222" >60 Mb</text>
<line x1="347.5" y1="498.5" x2="347.5" y2="501.5" stroke="#555" stroke-width="0.8" />
<text x="347.2" y="510.6" font-size="8.4" text-anchor="middle" fill="#222" >70 Mb</text>
<line x1="391.5" y1="498.5" x2="391.5" y2="501.5" stroke="#555" stroke-width="0.8" />
<text x="391.8" y="510.6" font-size="8.4" text-anchor="middle" fill="#222" >80 Mb</text>
<line x1="436.5" y1="498.5" x2="436.5" y2="501.5" stroke="#555" stroke-width="0.8" />
<text x="436.4" y="510.6" font-size="8.4" text-anchor="middle" fill="#222" >90 Mb</text>
<line x1="481.5" y1="498.5" x2="481.5" y2="501.5" stroke="#555" stroke-width="0.8" />
<text x="481.1" y="510.6" font-size="8.4" text-anchor="middle" fill="#222" >100 Mb</text>
<line x1="525.5" y1="498.5" x2="525.5" y2="501.5" stroke="#555" stroke-width="0.8" />
<text x="525.7" y="510.6" font-size="8.4" text-anchor="middle" fill="#222" >110 Mb</text>
<line x1="570.5" y1="498.5" x2="570.5" y2="501.5" stroke="#555" stroke-width="0.8" />
<text x="570.3" y="510.6" font-size="8.4" text-anchor="middle" fill="#222" >120 Mb</text>
<line x1="614.5" y1="498.5" x2="614.5" y2="501.5" stroke="#555" stroke-width="0.8" />
<text x="614.9" y="510.6" font-size="8.4" text-anchor="middle" fill="#222" >130 Mb</text>
<line x1="37.2" y1="670.5" x2="415.2" y2="670.5" stroke="#777" stroke-width="1.0" />
<line x1="415.5" y1="670.8" x2="415.5" y2="787.4" stroke="#777" stroke-width="1.0" />
<line x1="37.2" y1="787.5" x2="415.2" y2="787.5" stroke="#666" stroke-width="1.0" />
<line x1="37.5" y1="670.3" x2="37.5" y2="787.9" stroke="#555" stroke-width="1.0" />
<line x1="34.2" y1="670.5" x2="37.2" y2="670.5" stroke="#555" stroke-width="0.8" />
<text x="33.5" y="673.1" font-size="7.0" text-anchor="end" fill="#222" >4.0</text>
<line x1="34.2" y1="677.5" x2="37.2" y2="677.5" stroke="#555" stroke-width="0.8" />
<text x="33.5" y="680.4" font-size="7.0" text-anchor="end" fill="#222" >3.5</text>
<line x1="34.2" y1="685.5" x2="37.2" y2="685.5" stroke="#555" stroke-width="0.8" />
<text x="33.5" y="687.6" font-size="7.0" text-anchor="end" fill="#222" >3.0</text>
<line x1="34.2" y1="692.5" x2="37.2" y2="692.5" stroke="#555" stroke-width="0.8" />
<text x="33.5" y="694.9" font-size="7.0" text-anchor="end" fill="#222" >2.5</text>
<line x1="34.2" y1="699.5" x2="37.2" y2="699.5" stroke="#555" stroke-width="0.8" />
<text x="33.5" y="702.2" font-size="7.0" text-anchor="end" fill="#222" >2.0</text>
<line x1="34.2" y1="707.5" x2="37.2" y2="707.5" stroke="#555" stroke-width="0.8" />
<text x="33.5" y="709.5" font-size="7.0" text-anchor="end" fill="#222" >1.5</text>
<line x1="34.2" y1="714.5" x2="37.2" y2="714.5" stroke="#555" stroke-width="0.8" />
<text x="33.5" y="716.8" font-size="7.0" text-anchor="end" fill="#222" >1.0</text>
<line x1="34.2" y1="721.5" x2="37.2" y2="721.5" stroke="#555" stroke-width="0.8" />
<text x="33.5" y="724.1" font-size="7.0" text-anchor="end" fill="#222" >0.5</text>
<line x1="34.2" y1="728.5" x2="37.2" y2="728.5" stroke="#555" stroke-width="0.8" />
<text x="33.5" y="731.4" font-size="7.0" text-anchor="end" fill="#222" >0.0</text>
<line x1="34.2" y1="736.5" x2="37.2" y2="736.5" stroke="#555" stroke-width="0.8" />
<text x="33.5" y="738.7" font-size="7.0" text-anchor="end" fill="#222" >−0.5</text>
<line x1="34.2" y1="743.5" x2="37.2" y2="743.5" stroke="#555" stroke-width="0.8" />
<text x="33.5" y="746.0" font-size="7.0" text-anchor="end" fill="#222" >−1.0</text>
<line x1="34.2" y1="750.5" x2="37.2" y2="750.5" stroke="#555" stroke-width="0.8" />
<text x="33.5" y="753.3" font-size="7.0" text-anchor="end" fill="#222" >−1.5</text>
<line x1="34.2" y1="758.5" x2="37.2" y2="758.5" stroke="#555" stroke-width="0.8" />
<text x="33.5" y="760.6" font-size="7.0" text-anchor="end" fill="#222" >−2.0</text>
<line x1="34.2" y1="765.5" x2="37.2" y2="765.5" stroke="#555" stroke-width="0.8" />
<text x="33.5" y="767.9" font-size="7.0" text-anchor="end" fill="#222" >−2.5</text>
<line x1="34.2" y1="772.5" x2="37.2" y2="772.5" stroke="#555" stroke-width="0.8" />
<text x="33.5" y="775.2" font-size="7.0" text-anchor="end" fill="#222" >−3.0</text>
<line x1="34.2" y1="779.5" x2="37.2" y2="779.5" stroke="#555" stroke-width="0.8" />
<text x="33.5" y="782.5" font-size="7.0" text-anchor="end" fill="#222" >−3.5</text>
<line x1="34.2" y1="787.5" x2="37.2" y2="787.5" stroke="#555" stroke-width="0.8" />
<text x="33.5" y="789.8" font-size="7.0" text-anchor="end" fill="#222" >−4.0</text>
<line x1="64.5" y1="787.4" x2="64.5" y2="790.4" stroke="#555" stroke-width="0.8" />
<text x="64.5" y="797.8" font-size="6.7" text-anchor="middle" fill="#222" >3.65 Mb</text>
<line x1="97.5" y1="787.4" x2="97.5" y2="790.4" stroke="#555" stroke-width="0.8" />
<text x="97.5" y="797.8" font-size="6.7" text-anchor="middle" fill="#222" >3.70 Mb</text>
<line x1="130.5" y1="787.4" x2="130.5" y2="790.4" stroke="#555" stroke-width="0.8" />
<text x="130.5" y="797.8" font-size="6.7" text-anchor="middle" fill="#222" >3.75 Mb</text>
<line x1="163.5" y1="787.4" x2="163.5" y2="790.4" stroke="#555" stroke-width="0.8" />
<text x="163.5" y="797.8" font-size="6.7" text-anchor="middle" fill="#222" >3.80 Mb</text>
<line x1="196.5" y1="787.4" x2="196.5" y2="790.4" stroke="#555" stroke-width="0.8" />
<text x="196.5" y="797.8" font-size="6.7" text-anchor="middle" fill="#222" >3.85 Mb</text>
<line x1="229.5" y1="787.4" x2="229.5" y2="790.4" stroke="#555" stroke-width="0.8" />
<text x="229.5" y="797.8" font-size="6.7" text-anchor="middle" fill="#222" >3.90 Mb</text>
<line x1="262.5" y1="787.4" x2="262.5" y2="790.4" stroke="#555" stroke-width="0.8" />
<text x="262.5" y="797.8" font-size="6.7" text-anchor="middle" fill="#222" >3.95 Mb</text>
<line x1="295.5" y1="787.4" x2="295.5" y2="790.4" stroke="#555" stroke-width="0.8" />
<text x="295.5" y="797.8" font-size="6.7" text-anchor="middle" fill="#222" >4.00 Mb</text>
<line x1="328.5" y1="787.4" x2="328.5" y2="790.4" stroke="#555" stroke-width="0.8" />
<text x="328.5" y="797.8" font-size="6.7" text-anchor="middle" fill="#222" >4.05 Mb</text>
<line x1="361.5" y1="787.4" x2="361.5" y2="790.4" stroke="#555" stroke-width="0.8" />
<text x="361.5" y="797.8" font-size="6.7" text-anchor="middle" fill="#222" >4.10 Mb</text>
<line x1="394.5" y1="787.4" x2="394.5" y2="790.4" stroke="#555" stroke-width="0.8" />
<text x="394.5" y="797.8" font-size="6.7" text-anchor="middle" fill="#222" >4.15 Mb</text>
<line x1="72.0" y1="904.5" x2="648.4" y2="904.5" stroke="#777" stroke-width="1.0" />
<line x1="648.5" y1="904.4" x2="648.5" y2="1102.8" stroke="#777" stroke-width="1.0" />
<line x1="72.0" y1="1102.5" x2="648.4" y2="1102.5" stroke="#666" stroke-width="1.0" />
<line x1="72.5" y1="903.9" x2="72.5" y2="1103.3" stroke="#555" stroke-width="1.0" />
<line x1="69.0" y1="904.5" x2="72.0" y2="904.5" stroke="#555" stroke-width="0.8" />
<text x="67.0" y="907.4" font-size="8.4" text-anchor="end" fill="#222" >4.0</text>
<line x1="69.0" y1="916.5" x2="72.0" y2="916.5" stroke="#555" stroke-width="0.8" />
<text x="67.0" y="919.9" font-size="8.4" text-anchor="end" fill="#222" >3.5</text>
<line x1="69.0" y1="929.5" x2="72.0" y2="929.5" stroke="#555" stroke-width="0.8" />
<text x="67.0" y="932.3" font-size="8.4" text-anchor="end" fill="#222" >3.0</text>
<line x1="69.0" y1="941.5" x2="72.0" y2="941.5" stroke="#555" stroke-width="0.8" />
<text x="67.0" y="944.8" font-size="8.4" text-anchor="end" fill="#222" >2.5</text>
<line x1="69.0" y1="954.5" x2="72.0" y2="954.5" stroke="#555" stroke-width="0.8" />
<text x="67.0" y="957.2" font-size="8.4" text-anchor="end" fill="#222" >2.0</text>
<line x1="69.0" y1="966.5" x2="72.0" y2="966.5" stroke="#555" stroke-width="0.8" />
<text x="67.0" y="969.7" font-size="8.4" text-anchor="end" fill="#222" >1.5</text>
<line x1="69.0" y1="979.5" x2="72.0" y2="979.5" stroke="#555" stroke-width="0.8" />
<text x="67.0" y="982.1" font-size="8.4" text-anchor="end" fill="#222" >1.0</text>
<line x1="69.0" y1="991.5" x2="72.0" y2="991.5" stroke="#555" stroke-width="0.8" />
<text x="67.0" y="994.6" font-size="8.4" text-anchor="end" fill="#222" >0.5</text>
<line x1="69.0" y1="1004.5" x2="72.0" y2="1004.5" stroke="#555" stroke-width="0.8" />
<text x="67.0" y="1007.0" font-size="8.4" text-anchor="end" fill="#222" >0.0</text>
<line x1="69.0" y1="1016.5" x2="72.0" y2="1016.5" stroke="#555" stroke-width="0.8" />
<text x="67.0" y="1019.5" font-size="8.4" text-anchor="end" fill="#222" >−0.5</text>
<line x1="69.0" y1="1028.5" x2="72.0" y2="1028.5" stroke="#555" stroke-width="0.8" />
<text x="67.0" y="1031.9" font-size="8.4" text-anchor="end" fill="#222" >−1.0</text>
<line x1="69.0" y1="1041.5" x2="72.0" y2="1041.5" stroke="#555" stroke-width="0.8" />
<text x="67.0" y="1044.4" font-size="8.4" text-anchor="end" fill="#222" >−1.5</text>
<line x1="69.0" y1="1053.5" x2="72.0" y2="1053.5" stroke="#555" stroke-width="0.8" />
<text x="67.0" y="1056.8" font-size="8.4" text-anchor="end" fill="#222" >−2.0</text>
<line x1="69.0" y1="1066.5" x2="72.0" y2="1066.5" stroke="#555" stroke-width="0.8" />
<text x="67.0" y="1069.3" font-size="8.4" text-anchor="end" fill="#222" >−2.5</text>
<line x1="69.0" y1="1078.5" x2="72.0" y2="1078.5" stroke="#555" stroke-width="0.8" />
<text x="67.0" y="1081.7" font-size="8.4" text-anchor="end" fill="#222" >−3.0</text>
<line x1="69.0" y1="1091.5" x2="72.0" y2="1091.5" stroke="#555" stroke-width="0.8" />
<text x="67.0" y="1094.2" font-size="8.4" text-anchor="end" fill="#222" >−3.5</text>
<line x1="69.0" y1="1103.5" x2="72.0" y2="1103.5" stroke="#555" stroke-width="0.8" />
<text x="67.0" y="1106.6" font-size="8.4" text-anchor="end" fill="#222" >−4.0</text>
<line x1="101.5" y1="1102.8" x2="101.5" y2="1105.8" stroke="#555" stroke-width="0.8" />
<text x="101.5" y="1117.2" font-size="6.8" text-anchor="middle" fill="#222" >43.750 Mb</text>
<line x1="140.5" y1="1102.8" x2="140.5" y2="1105.8" stroke="#555" stroke-width="0.8" />
<text x="140.2" y="1117.2" font-size="6.8" text-anchor="middle" fill="#222" >43.775 Mb</text>
<line x1="178.5" y1="1102.8" x2="178.5" y2="1105.8" stroke="#555" stroke-width="0.8" />
<text x="178.9" y="1117.2" font-size="6.8" text-anchor="middle" fill="#222" >43.800 Mb</text>
<line x1="217.5" y1="1102.8" x2="217.5" y2="1105.8" stroke="#555" stroke-width="0.8" />
<text x="217.6" y="1117.2" font-size="6.8" text-anchor="middle" fill="#222" >43.825 Mb</text>
<line x1="256.5" y1="1102.8" x2="256.5" y2="1105.8" stroke="#555" stroke-width="0.8" />
<text x="256.3" y="1117.2" font-size="6.8" text-anchor="middle" fill="#222" >43.850 Mb</text>
<line x1="295.5" y1="1102.8" x2="295.5" y2="1105.8" stroke="#555" stroke-width="0.8" />
<text x="295.0" y="1117.2" font-size="6.8" text-anchor="middle" fill="#222" >43.875 Mb</text>
<line x1="333.5" y1="1102.8" x2="333.5" y2="1105.8" stroke="#555" stroke-width="0.8" />
<text x="333.7" y="1117.2" font-size="6.8" text-anchor="middle" fill="#222" >43.900 Mb</text>
<line x1="372.5" y1="1102.8" x2="372.5" y2="1105.8" stroke="#555" stroke-width="0.8" />
<text x="372.4" y="1117.2" font-size="6.8" text-anchor="middle" fill="#222" >43.925 Mb</text>
<line x1="411.5" y1="1102.8" x2="411.5" y2="1105.8" stroke="#555" stroke-width="0.8" />
<text x="411.1" y="1117.2" font-size="6.8" text-anchor="middle" fill="#222" >43.950 Mb</text>
<line x1="449.5" y1="1102.8" x2="449.5" y2="1105.8" stroke="#555" stroke-width="0.8" />
<text x="449.8" y="1117.2" font-size="6.8" text-anchor="middle" fill="#222" >43.975 Mb</text>
<line x1="488.5" y1="1102.8" x2="488.5" y2="1105.8" stroke="#555" stroke-width="0.8" />
<text x="488.5" y="1117.2" font-size="6.8" text-anchor="middle" fill="#222" >44.000 Mb</text>
<line x1="527.5" y1="1102.8" x2="527.5" y2="1105.8" stroke="#555" stroke-width="0.8" />
<text x="527.2" y="1117.2" font-size="6.8" text-anchor="middle" fill="#222" >44.025 Mb</text>
<line x1="565.5" y1="1102.8" x2="565.5" y2="1105.8" stroke="#555" stroke-width="0.8" />
<text x="565.9" y="1117.2" font-size="6.8" text-anchor="middle" fill="#222" >44.050 Mb</text>
<line x1="604.5" y1="1102.8" x2="604.5" y2="1105.8" stroke="#555" stroke-width="0.8" />
<text x="604.6" y="1117.2" font-size="6.8" text-anchor="middle" fill="#222" >44.075 Mb</text>
<line x1="643.5" y1="1102.8" x2="643.5" y2="1105.8" stroke="#555" stroke-width="0.8" />
<text x="643.3" y="1117.2" font-size="6.8" text-anchor="middle" fill="#222" >44.100 Mb</text></svg>
</body></html>
